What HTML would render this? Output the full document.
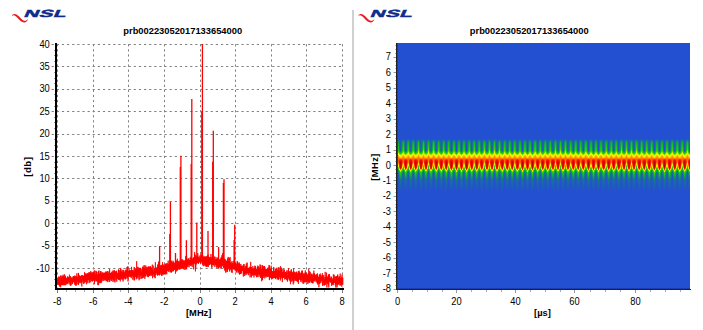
<!DOCTYPE html>
<html><head><meta charset="utf-8"><style>
html,body{margin:0;padding:0;background:#fff;width:703px;height:330px;overflow:hidden}
svg{display:block}
text{font-family:"Liberation Sans",sans-serif}
</style></head><body>
<svg width="703" height="330" viewBox="0 0 703 330" shape-rendering="auto">
<rect width="703" height="330" fill="#fff"/>
<rect x="352" y="10" width="2" height="320" fill="#d0d0d0"/>
<g transform="translate(0,0)"><path d="M12.11,15.73 L12.52,15.55 L12.90,15.42 L13.27,15.36 L13.64,15.36 L14.00,15.41 L14.38,15.51 L14.77,15.66 L15.19,15.87 L15.63,16.15 L16.09,16.50 L16.59,16.92 L17.11,17.43 L17.68,18.04 L18.27,18.67 L18.86,19.29 L19.45,19.88 L20.05,20.43 L20.65,20.95 L21.27,21.41 L21.91,21.81 L22.57,22.12 L23.25,22.34 L23.96,22.43 L24.67,22.38 L25.29,22.20 L25.82,21.95 L26.29,21.64 L26.71,21.28 L27.07,20.87 L27.38,20.43 L27.64,19.95 L27.94,19.50 L27.66,19.30 L27.34,19.72 L26.93,20.01 L26.54,20.27 L26.14,20.47 L25.74,20.63 L25.34,20.74 L24.92,20.80 L24.53,20.82 L24.14,20.76 L23.76,20.62 L23.36,20.42 L22.92,20.14 L22.46,19.79 L21.97,19.38 L21.46,18.90 L20.92,18.38 L20.35,17.81 L19.76,17.22 L19.15,16.61 L18.49,15.97 L17.83,15.42 L17.16,14.96 L16.50,14.60 L15.85,14.33 L15.21,14.16 L14.60,14.09 L14.01,14.11 L13.46,14.23 L12.96,14.44 L12.53,14.72 L12.16,15.06 L11.89,15.47Z" fill="#e41c23"/><text x="0" y="0" transform="translate(23.2,17.0) skewX(-24) scale(1.99,1)" font-size="10.3" font-weight="bold" font-style="normal" fill="#0f2b8c" stroke="#0f2b8c" stroke-width="0.45" font-family="Liberation Sans, sans-serif" letter-spacing="0.25">NSL</text></g>
<g transform="translate(346.4,0)"><path d="M12.11,15.73 L12.52,15.55 L12.90,15.42 L13.27,15.36 L13.64,15.36 L14.00,15.41 L14.38,15.51 L14.77,15.66 L15.19,15.87 L15.63,16.15 L16.09,16.50 L16.59,16.92 L17.11,17.43 L17.68,18.04 L18.27,18.67 L18.86,19.29 L19.45,19.88 L20.05,20.43 L20.65,20.95 L21.27,21.41 L21.91,21.81 L22.57,22.12 L23.25,22.34 L23.96,22.43 L24.67,22.38 L25.29,22.20 L25.82,21.95 L26.29,21.64 L26.71,21.28 L27.07,20.87 L27.38,20.43 L27.64,19.95 L27.94,19.50 L27.66,19.30 L27.34,19.72 L26.93,20.01 L26.54,20.27 L26.14,20.47 L25.74,20.63 L25.34,20.74 L24.92,20.80 L24.53,20.82 L24.14,20.76 L23.76,20.62 L23.36,20.42 L22.92,20.14 L22.46,19.79 L21.97,19.38 L21.46,18.90 L20.92,18.38 L20.35,17.81 L19.76,17.22 L19.15,16.61 L18.49,15.97 L17.83,15.42 L17.16,14.96 L16.50,14.60 L15.85,14.33 L15.21,14.16 L14.60,14.09 L14.01,14.11 L13.46,14.23 L12.96,14.44 L12.53,14.72 L12.16,15.06 L11.89,15.47Z" fill="#e41c23"/><text x="0" y="0" transform="translate(23.2,17.0) skewX(-24) scale(1.99,1)" font-size="10.3" font-weight="bold" font-style="normal" fill="#0f2b8c" stroke="#0f2b8c" stroke-width="0.45" font-family="Liberation Sans, sans-serif" letter-spacing="0.25">NSL</text></g>
<line x1="51.64" y1="44.5" x2="343" y2="44.5" stroke="#808080" stroke-width="1" stroke-dasharray="2.2 2.93"/><line x1="51.64" y1="66.5" x2="343" y2="66.5" stroke="#808080" stroke-width="1" stroke-dasharray="2.2 2.93"/><line x1="51.64" y1="89.5" x2="343" y2="89.5" stroke="#808080" stroke-width="1" stroke-dasharray="2.2 2.93"/><line x1="51.64" y1="111.5" x2="343" y2="111.5" stroke="#808080" stroke-width="1" stroke-dasharray="2.2 2.93"/><line x1="51.64" y1="134.5" x2="343" y2="134.5" stroke="#808080" stroke-width="1" stroke-dasharray="2.2 2.93"/><line x1="51.64" y1="156.5" x2="343" y2="156.5" stroke="#808080" stroke-width="1" stroke-dasharray="2.2 2.93"/><line x1="51.64" y1="178.5" x2="343" y2="178.5" stroke="#808080" stroke-width="1" stroke-dasharray="2.2 2.93"/><line x1="51.64" y1="201.5" x2="343" y2="201.5" stroke="#808080" stroke-width="1" stroke-dasharray="2.2 2.93"/><line x1="51.64" y1="223.5" x2="343" y2="223.5" stroke="#808080" stroke-width="1" stroke-dasharray="2.2 2.93"/><line x1="51.64" y1="246.5" x2="343" y2="246.5" stroke="#808080" stroke-width="1" stroke-dasharray="2.2 2.93"/><line x1="51.64" y1="268.5" x2="343" y2="268.5" stroke="#808080" stroke-width="1" stroke-dasharray="2.2 2.93"/><line x1="57.5" y1="44.2" x2="57.5" y2="288" stroke="#808080" stroke-width="1" stroke-dasharray="2.2 2.87"/><line x1="57.5" y1="290" x2="57.5" y2="293" stroke="#808080" stroke-width="1"/><line x1="93.5" y1="44.2" x2="93.5" y2="288" stroke="#808080" stroke-width="1" stroke-dasharray="2.2 2.87"/><line x1="93.5" y1="290" x2="93.5" y2="293" stroke="#808080" stroke-width="1"/><line x1="128.5" y1="44.2" x2="128.5" y2="288" stroke="#808080" stroke-width="1" stroke-dasharray="2.2 2.87"/><line x1="128.5" y1="290" x2="128.5" y2="293" stroke="#808080" stroke-width="1"/><line x1="164.5" y1="44.2" x2="164.5" y2="288" stroke="#808080" stroke-width="1" stroke-dasharray="2.2 2.87"/><line x1="164.5" y1="290" x2="164.5" y2="293" stroke="#808080" stroke-width="1"/><line x1="200.5" y1="44.2" x2="200.5" y2="288" stroke="#808080" stroke-width="1" stroke-dasharray="2.2 2.87"/><line x1="200.5" y1="290" x2="200.5" y2="293" stroke="#808080" stroke-width="1"/><line x1="235.5" y1="44.2" x2="235.5" y2="288" stroke="#808080" stroke-width="1" stroke-dasharray="2.2 2.87"/><line x1="235.5" y1="290" x2="235.5" y2="293" stroke="#808080" stroke-width="1"/><line x1="271.5" y1="44.2" x2="271.5" y2="288" stroke="#808080" stroke-width="1" stroke-dasharray="2.2 2.87"/><line x1="271.5" y1="290" x2="271.5" y2="293" stroke="#808080" stroke-width="1"/><line x1="306.5" y1="44.2" x2="306.5" y2="288" stroke="#808080" stroke-width="1" stroke-dasharray="2.2 2.87"/><line x1="306.5" y1="290" x2="306.5" y2="293" stroke="#808080" stroke-width="1"/><line x1="342.5" y1="44.2" x2="342.5" y2="288" stroke="#808080" stroke-width="1" stroke-dasharray="2.2 2.87"/><line x1="342.5" y1="290" x2="342.5" y2="293" stroke="#808080" stroke-width="1"/><line x1="66.5" y1="290" x2="66.5" y2="292" stroke="#aaa" stroke-width="1"/><line x1="75.5" y1="290" x2="75.5" y2="292" stroke="#aaa" stroke-width="1"/><line x1="84.5" y1="290" x2="84.5" y2="292" stroke="#aaa" stroke-width="1"/><line x1="102.5" y1="290" x2="102.5" y2="292" stroke="#aaa" stroke-width="1"/><line x1="111.5" y1="290" x2="111.5" y2="292" stroke="#aaa" stroke-width="1"/><line x1="120.5" y1="290" x2="120.5" y2="292" stroke="#aaa" stroke-width="1"/><line x1="137.5" y1="290" x2="137.5" y2="292" stroke="#aaa" stroke-width="1"/><line x1="146.5" y1="290" x2="146.5" y2="292" stroke="#aaa" stroke-width="1"/><line x1="155.5" y1="290" x2="155.5" y2="292" stroke="#aaa" stroke-width="1"/><line x1="173.5" y1="290" x2="173.5" y2="292" stroke="#aaa" stroke-width="1"/><line x1="182.5" y1="290" x2="182.5" y2="292" stroke="#aaa" stroke-width="1"/><line x1="191.5" y1="290" x2="191.5" y2="292" stroke="#aaa" stroke-width="1"/><line x1="209.5" y1="290" x2="209.5" y2="292" stroke="#aaa" stroke-width="1"/><line x1="217.5" y1="290" x2="217.5" y2="292" stroke="#aaa" stroke-width="1"/><line x1="226.5" y1="290" x2="226.5" y2="292" stroke="#aaa" stroke-width="1"/><line x1="244.5" y1="290" x2="244.5" y2="292" stroke="#aaa" stroke-width="1"/><line x1="253.5" y1="290" x2="253.5" y2="292" stroke="#aaa" stroke-width="1"/><line x1="262.5" y1="290" x2="262.5" y2="292" stroke="#aaa" stroke-width="1"/><line x1="280.5" y1="290" x2="280.5" y2="292" stroke="#aaa" stroke-width="1"/><line x1="289.5" y1="290" x2="289.5" y2="292" stroke="#aaa" stroke-width="1"/><line x1="297.5" y1="290" x2="297.5" y2="292" stroke="#aaa" stroke-width="1"/><line x1="315.5" y1="290" x2="315.5" y2="292" stroke="#aaa" stroke-width="1"/><line x1="324.5" y1="290" x2="324.5" y2="292" stroke="#aaa" stroke-width="1"/><line x1="333.5" y1="290" x2="333.5" y2="292" stroke="#aaa" stroke-width="1"/><rect x="54" y="50" width="1" height="1" fill="#999"/><rect x="54" y="55" width="1" height="1" fill="#999"/><rect x="54" y="61" width="1" height="1" fill="#999"/><rect x="54" y="72" width="1" height="1" fill="#999"/><rect x="54" y="78" width="1" height="1" fill="#999"/><rect x="54" y="83" width="1" height="1" fill="#999"/><rect x="54" y="94" width="1" height="1" fill="#999"/><rect x="54" y="100" width="1" height="1" fill="#999"/><rect x="54" y="106" width="1" height="1" fill="#999"/><rect x="54" y="117" width="1" height="1" fill="#999"/><rect x="54" y="122" width="1" height="1" fill="#999"/><rect x="54" y="128" width="1" height="1" fill="#999"/><rect x="54" y="139" width="1" height="1" fill="#999"/><rect x="54" y="145" width="1" height="1" fill="#999"/><rect x="54" y="150" width="1" height="1" fill="#999"/><rect x="54" y="162" width="1" height="1" fill="#999"/><rect x="54" y="167" width="1" height="1" fill="#999"/><rect x="54" y="173" width="1" height="1" fill="#999"/><rect x="54" y="184" width="1" height="1" fill="#999"/><rect x="54" y="190" width="1" height="1" fill="#999"/><rect x="54" y="195" width="1" height="1" fill="#999"/><rect x="54" y="206" width="1" height="1" fill="#999"/><rect x="54" y="212" width="1" height="1" fill="#999"/><rect x="54" y="218" width="1" height="1" fill="#999"/><rect x="54" y="229" width="1" height="1" fill="#999"/><rect x="54" y="234" width="1" height="1" fill="#999"/><rect x="54" y="240" width="1" height="1" fill="#999"/><rect x="54" y="251" width="1" height="1" fill="#999"/><rect x="54" y="257" width="1" height="1" fill="#999"/><rect x="54" y="262" width="1" height="1" fill="#999"/><rect x="54" y="274" width="1" height="1" fill="#999"/><rect x="54" y="279" width="1" height="1" fill="#999"/><rect x="54" y="285" width="1" height="1" fill="#999"/><polyline fill="none" stroke="#ff0000" stroke-width="0.8" points="57,281.72 57.07,283.41 57.14,284.73 57.21,283.2 57.29,278.54 57.36,284.14 57.43,280.25 57.5,281.17 57.57,282.89 57.64,283.07 57.72,280.8 57.79,280.52 57.86,281.17 57.93,280.02 58,283.09 58.07,278.81 58.14,281.89 58.22,280.29 58.29,283.6 58.36,284.21 58.43,283.46 58.5,280.7 58.57,284.95 58.64,277.5 58.72,277.78 58.79,276.38 58.86,284.49 58.93,282.36 59,283.16 59.07,283.22 59.15,277.55 59.22,280.55 59.29,279.01 59.36,285.57 59.43,282.21 59.5,280.83 59.57,276.82 59.65,279.65 59.72,286.45 59.79,283.5 59.86,281.03 59.93,282.49 60,285.39 60.07,283.6 60.15,286.38 60.22,282.56 60.29,281.05 60.36,282.68 60.43,282.7 60.5,282.33 60.58,287.28 60.65,282.57 60.72,275.57 60.79,280.64 60.86,283.68 60.93,285.11 61,284.19 61.08,275.61 61.15,282.09 61.22,284.4 61.29,281.47 61.36,285.15 61.43,283.73 61.5,281.04 61.58,278.15 61.65,278.18 61.72,284.5 61.79,283.3 61.86,283.34 61.93,285.21 62.01,277.07 62.08,284.77 62.15,284.97 62.22,279.21 62.29,279.83 62.36,283.85 62.43,276.25 62.51,280.61 62.58,281.47 62.65,283.39 62.72,284.89 62.79,285.15 62.86,276.95 62.93,283.89 63.01,274.87 63.08,281.95 63.15,279.49 63.22,280.69 63.29,279.77 63.36,280.73 63.44,281.69 63.51,276.29 63.58,280.46 63.65,278.97 63.72,285.25 63.79,277.46 63.86,282.07 63.94,282.19 64.01,279.33 64.08,277.74 64.15,284.24 64.22,285 64.29,274.26 64.36,281.79 64.44,280.41 64.51,278.29 64.58,283.27 64.65,281.43 64.72,282.66 64.79,275.16 64.86,281.01 64.94,282.36 65.01,284.22 65.08,285.33 65.15,280.2 65.22,278.85 65.29,285.06 65.37,283.39 65.44,276.06 65.51,279.33 65.58,282.13 65.65,281.93 65.72,281.15 65.79,279.1 65.87,281.02 65.94,281.42 66.01,282.01 66.08,280.55 66.15,278.81 66.22,282.7 66.3,280.07 66.37,277.75 66.44,284.41 66.51,282.58 66.58,283.31 66.65,278.37 66.72,282.29 66.8,283.02 66.87,281.09 66.94,283.43 67.01,282.08 67.08,280.82 67.15,281.32 67.22,280.95 67.3,280.83 67.37,277.36 67.44,282.13 67.51,280.66 67.58,283.35 67.65,278.69 67.72,276.28 67.8,280.62 67.87,279.25 67.94,277.41 68.01,284.26 68.08,283.45 68.15,280.5 68.23,280.7 68.3,280.2 68.37,279.93 68.44,280.44 68.51,279.05 68.58,277.07 68.65,281.09 68.73,281.7 68.8,282.05 68.87,282.33 68.94,281.28 69.01,277.93 69.08,280.28 69.16,282.23 69.23,279.78 69.3,280.34 69.37,282.14 69.44,274.7 69.51,279.61 69.58,279.99 69.66,282.3 69.73,278.54 69.8,281.07 69.87,284.42 69.94,280.48 70.01,282.03 70.08,279.27 70.16,278.79 70.23,282.33 70.3,279.14 70.37,285.83 70.44,276.18 70.51,284.63 70.58,283.16 70.66,279.24 70.73,280.38 70.8,276.87 70.87,278.14 70.94,280.68 71.01,279.15 71.09,278.59 71.16,281.63 71.23,285.29 71.3,278.99 71.37,280.64 71.44,280.35 71.51,282.07 71.59,277.69 71.66,281.7 71.73,281.4 71.8,279.92 71.87,279.92 71.94,281.96 72.02,280.49 72.09,279.77 72.16,280.08 72.23,280.09 72.3,281.9 72.37,279.77 72.44,283.69 72.52,278.68 72.59,284.15 72.66,281.09 72.73,281.32 72.8,281.36 72.87,276.85 72.94,279.52 73.02,279.14 73.09,282.54 73.16,280.15 73.23,281.79 73.3,276.32 73.37,279.99 73.44,280.03 73.52,280.56 73.59,281.08 73.66,276.09 73.73,280.65 73.8,278.29 73.87,278.31 73.95,279.91 74.02,281.33 74.09,281.78 74.16,282.1 74.23,280.72 74.3,281.8 74.37,278.89 74.45,278.57 74.52,280.58 74.59,276.15 74.66,284.66 74.73,281.73 74.8,275.65 74.88,281.13 74.95,278.95 75.02,281.29 75.09,275.83 75.16,279.51 75.23,283.74 75.3,278.25 75.38,282.64 75.45,282.66 75.52,277.9 75.59,285.5 75.66,277.98 75.73,281.02 75.8,278.92 75.88,277.88 75.95,278.21 76.02,280.91 76.09,283.45 76.16,276.39 76.23,285.67 76.31,281.91 76.38,281.17 76.45,276.82 76.52,276.96 76.59,280.6 76.66,277.74 76.73,279.5 76.81,281.31 76.88,273.31 76.95,284.13 77.02,280.57 77.09,279.35 77.16,281.4 77.23,279.91 77.31,281.55 77.38,278.36 77.45,280.47 77.52,278.96 77.59,280.4 77.66,280.63 77.73,281.53 77.81,279.47 77.88,280.18 77.95,276.29 78.02,278.59 78.09,278.44 78.16,277.08 78.24,285.01 78.31,284.77 78.38,272.9 78.45,284.58 78.52,279.41 78.59,273.55 78.66,279.55 78.74,277.45 78.81,277.5 78.88,280.23 78.95,278.61 79.02,283.33 79.09,283.41 79.16,274.99 79.24,282.62 79.31,279.54 79.38,281.6 79.45,276.63 79.52,280.85 79.59,279.64 79.67,278.61 79.74,281.54 79.81,281.32 79.88,276.72 79.95,277.69 80.02,276.86 80.09,277.01 80.17,280.2 80.24,281.54 80.31,276.15 80.38,280.02 80.45,279.46 80.52,275.96 80.59,282.17 80.67,282.66 80.74,281.81 80.81,278.55 80.88,279.72 80.95,278.47 81.02,278.13 81.1,283.43 81.17,278.59 81.24,281.82 81.31,282.33 81.38,277.32 81.45,275.26 81.52,278.09 81.6,279.65 81.67,277.96 81.74,278.04 81.81,286.44 81.88,280.59 81.95,282.47 82.03,282.06 82.1,276.23 82.17,276.68 82.24,276.88 82.31,274.94 82.38,278.22 82.45,275.71 82.53,276.94 82.6,280.38 82.67,277.88 82.74,279.13 82.81,276.07 82.88,276.42 82.95,281.54 83.03,279.2 83.1,278.12 83.17,278.62 83.24,278.14 83.31,276.16 83.38,276.61 83.45,278.26 83.53,283.8 83.6,278.4 83.67,275.61 83.74,278.55 83.81,279.17 83.88,277.96 83.96,276.48 84.03,278.07 84.1,282.07 84.17,278.28 84.24,280.27 84.31,280.06 84.38,276.81 84.46,274.74 84.53,272.2 84.6,274.53 84.67,279.92 84.74,283.32 84.81,280.97 84.88,277.5 84.96,279.47 85.03,276.91 85.1,274.29 85.17,280.56 85.24,273.33 85.31,279.61 85.39,279.32 85.46,275.01 85.53,274.61 85.6,278.28 85.67,276.44 85.74,277.35 85.81,282.19 85.89,280.29 85.96,275.26 86.03,275.83 86.1,281.45 86.17,275.98 86.24,280.15 86.31,273.48 86.39,278.34 86.46,277.66 86.53,284.28 86.6,280.9 86.67,280.4 86.74,276.35 86.82,276.27 86.89,278.46 86.96,277.63 87.03,274.08 87.1,281.7 87.17,278.05 87.24,274.21 87.32,275.71 87.39,274.29 87.46,279.97 87.53,279.99 87.6,276.46 87.67,273.09 87.75,276.36 87.82,277.67 87.89,283.24 87.96,281.86 88.03,277.56 88.1,275.06 88.17,277.31 88.25,278.27 88.32,275.84 88.39,275.64 88.46,280.12 88.53,276.26 88.6,276.83 88.67,272.44 88.75,275.93 88.82,275.5 88.89,278.57 88.96,273.66 89.03,275.76 89.1,275.83 89.17,278.15 89.25,275.11 89.32,280.11 89.39,281.55 89.46,273.6 89.53,276.57 89.6,272.21 89.68,281.04 89.75,283.07 89.82,282.89 89.89,280.32 89.96,277.81 90.03,278.26 90.1,281.84 90.18,276.13 90.25,278.68 90.32,274.19 90.39,278.17 90.46,279.54 90.53,273.07 90.6,278.74 90.68,275.34 90.75,271.07 90.82,278.24 90.89,274.69 90.96,277.82 91.03,278.01 91.11,276.73 91.18,277.24 91.25,274.16 91.32,278.62 91.39,278.31 91.46,281.3 91.53,274.75 91.61,274.65 91.68,272.5 91.75,273.1 91.82,276.55 91.89,277.54 91.96,278.84 92.03,274.26 92.11,272.18 92.18,273.72 92.25,275.85 92.32,280.74 92.39,279.09 92.46,279.52 92.54,276.34 92.61,281.49 92.68,278.23 92.75,274.1 92.82,277.84 92.89,272.59 92.96,275.64 93.04,276.87 93.11,280.45 93.18,276.37 93.25,279.35 93.32,276.33 93.39,274.34 93.47,280.51 93.54,275.52 93.61,274.46 93.68,274.73 93.75,275.76 93.82,274.66 93.89,278.15 93.97,271.34 94.04,275.3 94.11,276.43 94.18,273.27 94.25,272.33 94.32,278.51 94.39,270.37 94.47,284.2 94.54,274.29 94.61,275.52 94.68,278.68 94.75,281.8 94.82,280.03 94.89,276.98 94.97,275.42 95.04,277 95.11,276.01 95.18,276.96 95.25,279.51 95.32,279.17 95.4,278.24 95.47,279.52 95.54,278.06 95.61,277.86 95.68,274.63 95.75,278.56 95.82,270.72 95.9,281.25 95.97,276.38 96.04,278.87 96.11,273.85 96.18,275.59 96.25,276.46 96.32,273.85 96.4,278.73 96.47,279.1 96.54,271.96 96.61,274.62 96.68,271.49 96.75,278.4 96.83,281.33 96.9,275.19 96.97,277.4 97.04,281.2 97.11,279.57 97.18,279.47 97.25,274.78 97.33,278.76 97.4,280.81 97.47,277.45 97.54,277.62 97.61,277.32 97.68,275.39 97.75,285.09 97.83,278.68 97.9,277.45 97.97,274.08 98.04,276.89 98.11,277.67 98.18,271.71 98.26,274.94 98.33,274.63 98.4,275.29 98.47,272.52 98.54,271.55 98.61,285.18 98.68,275.04 98.76,281.74 98.83,273.43 98.9,272.01 98.97,270.46 99.04,275.8 99.11,274.75 99.19,276.76 99.26,278.23 99.33,276.62 99.4,276.41 99.47,277.98 99.54,283.12 99.61,281.99 99.69,280.42 99.76,278.17 99.83,273.95 99.9,275.97 99.97,273.34 100.04,277.98 100.11,278.57 100.19,274.26 100.26,282.18 100.33,275.79 100.4,275.06 100.47,271.12 100.54,283.13 100.61,277.47 100.69,276.12 100.76,282.08 100.83,274.32 100.9,271.06 100.97,279.11 101.04,277.24 101.12,272.32 101.19,274.44 101.26,276.72 101.33,275.03 101.4,275.72 101.47,281.42 101.54,278.37 101.62,282.72 101.69,277.22 101.76,277.93 101.83,277.85 101.9,273.44 101.97,277.73 102.04,274.7 102.12,280.56 102.19,279.72 102.26,275.65 102.33,278.52 102.4,276.17 102.47,277.8 102.55,272.4 102.62,272.24 102.69,275.92 102.76,278.88 102.83,278.82 102.9,278.98 102.97,279.37 103.05,279.21 103.12,281.02 103.19,273.73 103.26,276.05 103.33,274.97 103.4,279.08 103.47,277.02 103.55,275.72 103.62,272.96 103.69,278.34 103.76,275.89 103.83,276.44 103.9,273.02 103.98,272.64 104.05,276.02 104.12,280.66 104.19,276.42 104.26,279.84 104.33,275.56 104.4,275.27 104.48,273 104.55,277.13 104.62,274.46 104.69,277.68 104.76,273.55 104.83,274.04 104.91,272.65 104.98,275.21 105.05,273.59 105.12,276.14 105.19,276.61 105.26,279.95 105.33,276.57 105.41,274.69 105.48,274 105.55,278.3 105.62,276.2 105.69,274.67 105.76,279.4 105.83,272.04 105.91,271.37 105.98,277.06 106.05,281.13 106.12,276.41 106.19,271.94 106.26,278.72 106.33,271.86 106.41,277.45 106.48,274.06 106.55,280.75 106.62,275.71 106.69,277.74 106.76,273.77 106.84,281.14 106.91,276.57 106.98,275.99 107.05,276.73 107.12,272.69 107.19,274.13 107.26,277.91 107.34,274.9 107.41,275.97 107.48,281.56 107.55,271.1 107.62,274.22 107.69,279.09 107.76,277.73 107.84,273.09 107.91,282.13 107.98,275.77 108.05,274.28 108.12,276.07 108.19,280.2 108.27,275.95 108.34,276.01 108.41,275.86 108.48,277.21 108.55,279.28 108.62,279.84 108.69,276.01 108.77,277.11 108.84,276.89 108.91,271.34 108.98,275.09 109.05,277.15 109.12,278.03 109.19,273.33 109.27,276.92 109.34,272.3 109.41,277.51 109.48,273.57 109.55,281.69 109.62,268.94 109.7,276.2 109.77,273.85 109.84,281.49 109.91,274.81 109.98,277.42 110.05,273.18 110.12,275.37 110.2,274.67 110.27,277.7 110.34,274.59 110.41,273.67 110.48,276.71 110.55,274.63 110.62,273.13 110.7,279.63 110.77,273.84 110.84,275.85 110.91,279.02 110.98,273.62 111.05,276.93 111.13,274.82 111.2,272.7 111.27,278.69 111.34,278.38 111.41,280.94 111.48,273.66 111.55,278.47 111.63,279.08 111.7,279.12 111.77,280.11 111.84,271.96 111.91,274.43 111.98,273.51 112.05,277.36 112.13,273.59 112.2,275.35 112.27,271.24 112.34,274.86 112.41,278.47 112.48,277.79 112.56,272.59 112.63,275.7 112.7,275.87 112.77,278.17 112.84,272.61 112.91,277.34 112.98,281.97 113.06,275.65 113.13,270.28 113.2,279.75 113.27,273.83 113.34,279.95 113.41,277.21 113.48,275.77 113.56,274.83 113.63,279.75 113.7,274.9 113.77,274.03 113.84,276.7 113.91,275.84 113.99,277.82 114.06,273.82 114.13,281.39 114.2,270.97 114.27,274.18 114.34,276.19 114.41,270.19 114.49,277.81 114.56,276.49 114.63,274.14 114.7,278.52 114.77,280.43 114.84,275.36 114.91,278.2 114.99,282.47 115.06,273.07 115.13,272.36 115.2,276.01 115.27,276.09 115.34,271.93 115.42,271.28 115.49,275.42 115.56,272.97 115.63,272.89 115.7,274.65 115.77,271.81 115.84,271.65 115.92,273.82 115.99,275.51 116.06,277.12 116.13,278.19 116.2,271.82 116.27,279.82 116.34,274.6 116.42,279.65 116.49,272.74 116.56,270.78 116.63,272.99 116.7,274.41 116.77,281.69 116.85,274.3 116.92,275.82 116.99,274.48 117.06,278.6 117.13,274.45 117.2,277.26 117.27,275.73 117.35,272.75 117.42,278.15 117.49,276.77 117.56,276.59 117.63,275.35 117.7,276.67 117.77,275.92 117.85,279.1 117.92,274.41 117.99,275.97 118.06,275.41 118.13,273.91 118.2,273.95 118.28,276.45 118.35,275.49 118.42,269.96 118.49,273.91 118.56,279.63 118.63,269.32 118.7,272.8 118.78,275.67 118.85,270.92 118.92,279.67 118.99,273.79 119.06,275.73 119.13,273.92 119.2,270.03 119.28,277.07 119.35,275.83 119.42,273.48 119.49,278.88 119.56,279.89 119.63,277.87 119.71,275.45 119.78,277.01 119.85,275.61 119.92,278.25 119.99,279.89 120.06,274.22 120.13,276.96 120.21,273.09 120.28,281.41 120.35,274.87 120.42,275.67 120.49,274.05 120.56,273.12 120.63,267.99 120.71,273.86 120.78,278.61 120.85,271.53 120.92,276.78 120.99,269.47 121.06,274.88 121.14,271.66 121.21,277.54 121.28,276.07 121.35,275.18 121.42,271.72 121.49,271.54 121.56,276.34 121.64,273.39 121.71,279.42 121.78,274.03 121.85,274.46 121.92,275.51 121.99,272.01 122.06,274.67 122.14,277.24 122.21,275.6 122.28,277.89 122.35,276.56 122.42,279.46 122.49,276.88 122.57,273.13 122.64,270.8 122.71,269.92 122.78,271.35 122.85,277.41 122.92,273.11 122.99,273.08 123.07,281.51 123.14,275.49 123.21,274.5 123.28,272.35 123.35,279.39 123.42,277.74 123.49,272.72 123.57,271.59 123.64,275.29 123.71,269.86 123.78,274.23 123.85,274.41 123.92,275.25 124,272.1 124.07,276.35 124.14,275.08 124.21,277.37 124.28,273.77 124.35,275.15 124.42,275.37 124.5,273.02 124.57,272.75 124.64,278.42 124.71,277.7 124.78,278.21 124.85,276.1 124.92,275.07 125,276.89 125.07,274.94 125.14,270.54 125.21,277.88 125.28,279.49 125.35,274.14 125.43,277.2 125.5,272.04 125.57,272.81 125.64,271.41 125.71,278.5 125.78,274.42 125.85,269.58 125.93,274.48 126,273.28 126.07,278.59 126.14,272.32 126.21,275.72 126.28,270.27 126.35,275.01 126.43,274.89 126.5,272.97 126.57,274.65 126.64,274.26 126.71,271.1 126.78,273.32 126.86,276.12 126.93,275.48 127,276.51 127.07,267.13 127.14,273.5 127.21,271.43 127.28,266.77 127.36,267.62 127.43,278.21 127.5,274.71 127.57,274.4 127.64,272.85 127.71,275.89 127.78,275.15 127.86,273.87 127.93,266.28 128,281.44 128.07,276.46 128.14,274.27 128.21,271.55 128.29,276.52 128.36,272.32 128.43,273.75 128.5,273.67 128.57,270.82 128.64,270.8 128.71,273.63 128.79,275.67 128.86,271.35 128.93,276.98 129,275 129.07,274.21 129.14,275.57 129.21,276.69 129.29,275.73 129.36,275.65 129.43,269.52 129.5,274.39 129.57,274.15 129.64,275.86 129.72,274.8 129.79,274.78 129.86,273.04 129.93,275.18 130,270.24 130.07,273.54 130.14,271.74 130.22,271.23 130.29,276.6 130.36,271.09 130.43,277.15 130.5,270.71 130.57,273.5 130.64,270.9 130.72,274.79 130.79,270.89 130.86,275.26 130.93,273.33 131,274.48 131.07,275.5 131.15,275.37 131.22,274.05 131.29,270.23 131.36,278.14 131.43,275.45 131.5,275.07 131.57,266.81 131.65,273.73 131.72,276.42 131.79,273.08 131.86,274.35 131.93,273.8 132,275.83 132.07,270.04 132.15,274.13 132.22,272.97 132.29,273.52 132.36,272.81 132.43,275.91 132.5,271.15 132.58,272.07 132.65,270.02 132.72,275.47 132.79,276.58 132.86,279.72 132.93,272.67 133,271.6 133.08,274.11 133.15,275.04 133.22,272.53 133.29,271.85 133.36,273.44 133.43,272.92 133.5,272.15 133.58,277.07 133.65,276.69 133.72,277.92 133.79,272.37 133.86,272.07 133.93,269.7 134.01,275.51 134.08,280.5 134.15,273.46 134.22,266.94 134.29,273.76 134.36,272.4 134.43,273.28 134.51,274.53 134.58,280.11 134.65,277.55 134.72,272.11 134.79,273.47 134.86,271.73 134.94,276.57 135.01,275.61 135.08,272.21 135.15,273.4 135.22,270.48 135.29,276.53 135.36,276.72 135.44,268.55 135.51,275.99 135.58,275.74 135.65,270.09 135.72,272.68 135.79,274.93 135.86,274.97 135.94,276.57 136.01,272.24 136.08,273.4 136.15,271.72 136.22,271.8 136.29,279.27 136.37,274.34 136.44,268.9 136.51,277.24 136.58,274.37 136.65,261.23 136.72,274.88 136.79,273.47 136.87,278.03 136.94,273.95 137.01,275.23 137.08,269.91 137.15,273.71 137.22,274.55 137.29,277.12 137.37,272.24 137.44,274.64 137.51,276.46 137.58,267.22 137.65,270.6 137.72,271.54 137.79,276.67 137.87,272.32 137.94,273.11 138.01,278.71 138.08,266.84 138.15,273.45 138.22,274.34 138.3,268.91 138.37,269.96 138.44,268.61 138.51,274.03 138.58,273.2 138.65,270.57 138.72,273.78 138.8,272.76 138.87,274.28 138.94,273.58 139.01,271.68 139.08,272.07 139.15,280.27 139.22,275.31 139.3,271.23 139.37,275.04 139.44,275.38 139.51,267.93 139.58,274.48 139.65,275.24 139.73,270.32 139.8,276.57 139.87,274.82 139.94,271.05 140.01,270.86 140.08,267.74 140.15,278.91 140.23,268.34 140.3,274.47 140.37,272.18 140.44,274.29 140.51,272.09 140.58,272.46 140.65,273.05 140.73,270.46 140.8,274.32 140.87,268.74 140.94,272.53 141.01,274.52 141.08,275.04 141.16,275.5 141.23,272.43 141.3,273.68 141.37,273.74 141.44,275.07 141.51,274.51 141.58,274.17 141.66,274.56 141.73,278.82 141.8,272.07 141.87,274.25 141.94,272.75 142.01,270.38 142.08,271.16 142.16,271.05 142.23,268.51 142.3,278.14 142.37,272.76 142.44,268.29 142.51,267.99 142.59,266.65 142.66,277.07 142.73,270.87 142.8,274.92 142.87,278.01 142.94,274.36 143.01,274.55 143.09,270.7 143.16,269.26 143.23,273.89 143.3,267.18 143.37,277.53 143.44,268.84 143.51,275.6 143.59,275.84 143.66,268.2 143.73,269.23 143.8,268.97 143.87,265.45 143.94,269.32 144.02,270.29 144.09,268.98 144.16,273.69 144.23,273.1 144.3,276.47 144.37,272.96 144.44,270.51 144.52,272.53 144.59,271.72 144.66,271.78 144.73,268.59 144.8,278.83 144.87,265.29 144.94,275.34 145.02,273.78 145.09,269.8 145.16,273.08 145.23,272.02 145.3,268.84 145.37,271.94 145.45,276 145.52,276.36 145.59,270.05 145.66,275.31 145.73,268.76 145.8,266.22 145.87,265.64 145.95,276.46 146.02,269.13 146.09,272.79 146.16,268.99 146.23,272.87 146.3,270.83 146.38,272.18 146.45,272.78 146.52,267.83 146.59,273.99 146.66,274.16 146.73,266.99 146.8,271.3 146.88,272.33 146.95,267.85 147.02,267.86 147.09,274.47 147.16,270.51 147.23,268.38 147.3,273.12 147.38,271.92 147.45,271.11 147.52,272.33 147.59,276.24 147.66,271.19 147.73,271.42 147.81,273.3 147.88,266.76 147.95,277.17 148.02,271.22 148.09,272.81 148.16,276.23 148.23,272.29 148.31,272.42 148.38,273.99 148.45,276.8 148.52,271.5 148.59,267.8 148.66,269.08 148.73,269.25 148.81,266.18 148.88,274.72 148.95,270.46 149.02,272.27 149.09,275.48 149.16,271.33 149.24,272.63 149.31,270.75 149.38,267.75 149.45,266.85 149.52,268.96 149.59,269.77 149.66,275.88 149.74,269.43 149.81,276.09 149.88,272.62 149.95,274.7 150.02,270.66 150.09,271.17 150.16,272.9 150.24,272.16 150.31,266.22 150.38,271.21 150.45,272.02 150.52,272.34 150.59,266.73 150.66,272.83 150.74,269.44 150.81,273.56 150.88,274.69 150.95,275.45 151.02,269.36 151.09,272.04 151.17,271.36 151.24,267.53 151.31,273.29 151.38,271.57 151.45,272.28 151.52,269.18 151.59,268.54 151.67,269.12 151.74,271.98 151.81,275.89 151.88,270.7 151.95,270.56 152.02,274.34 152.09,273.94 152.17,270.41 152.24,274.7 152.31,264.6 152.38,273.81 152.45,275.04 152.52,278.24 152.6,276.19 152.67,271.91 152.74,271.64 152.81,271.16 152.88,269.87 152.95,273.09 153.02,272.82 153.1,271.71 153.17,273.27 153.24,265.62 153.31,272.41 153.38,274.43 153.45,271.93 153.52,273.8 153.6,273.58 153.67,273.83 153.74,272.46 153.81,272.14 153.88,276.02 153.95,276.66 154.03,275.73 154.1,271.57 154.17,272.45 154.24,274.11 154.31,272.69 154.38,277.35 154.45,272.33 154.53,274.46 154.6,271.72 154.67,267.89 154.74,268.63 154.81,272.93 154.88,269.02 154.95,272.16 155.03,270.48 155.1,272.9 155.17,275.66 155.24,278.19 155.31,271.7 155.38,262.15 155.46,271.57 155.53,274.32 155.6,271.1 155.67,268.72 155.74,274.68 155.81,275.05 155.88,271.08 155.96,272.46 156.03,272.69 156.1,267.26 156.17,270.51 156.24,268.3 156.31,269.39 156.38,273.23 156.46,270.39 156.53,271.42 156.6,271.3 156.67,267.83 156.74,272.65 156.81,272.53 156.89,272.35 156.96,272.72 157.03,270.41 157.1,270.04 157.17,268.74 157.24,275.07 157.31,272.9 157.39,274.05 157.46,270.94 157.53,275.64 157.6,269.39 157.67,264.45 157.74,274.67 157.81,268.08 157.89,266.39 157.96,272.13 158.03,270.93 158.1,274.12 158.17,269.2 158.24,269.98 158.32,270.57 158.39,271.07 158.46,264.99 158.53,272.09 158.6,275.1 158.67,273.88 158.74,261.46 158.82,267.52 158.89,268.53 158.96,265.81 159.03,262.01 159.1,268.49 159.17,273.31 159.25,271.4 159.32,270.65 159.39,269.8 159.46,275.32 159.53,273.53 159.6,268.55 159.67,269.71 159.75,268.07 159.82,271.74 159.89,274.33 159.96,268.13 160.03,266.84 160.1,268.59 160.17,268.4 160.25,274.55 160.32,270.86 160.39,265.25 160.46,265.8 160.53,271.05 160.6,271.62 160.68,270.56 160.75,267.45 160.82,270.61 160.89,270.3 160.96,267.92 161.03,270.23 161.1,269.01 161.18,266.25 161.25,267.51 161.32,269.92 161.39,268.51 161.46,264.82 161.53,268.63 161.6,268.69 161.68,275.91 161.75,268.83 161.82,273.95 161.89,271.56 161.96,275.72 162.03,273.66 162.1,270.35 162.18,270.15 162.25,271.72 162.32,273.8 162.39,270.83 162.46,269.13 162.53,262.21 162.61,270.58 162.68,269.17 162.75,267.79 162.82,268.13 162.89,271.13 162.96,270.81 163.03,267.21 163.11,264.52 163.18,266.78 163.25,274.94 163.32,264.93 163.39,267.26 163.46,271.21 163.53,271.61 163.61,267.47 163.68,273.64 163.75,266.5 163.82,268.93 163.89,273.23 163.96,266.2 164.04,273.56 164.11,273.33 164.18,274.17 164.25,271.4 164.32,266.22 164.39,270.24 164.46,267.37 164.54,273.93 164.61,269.65 164.68,269.81 164.75,271.83 164.82,264.6 164.89,264.18 164.96,271.37 165.04,265.99 165.11,265.67 165.18,268.95 165.25,263.85 165.32,274.15 165.39,265.99 165.47,266.9 165.54,270.74 165.61,263.91 165.68,269.68 165.75,274.39 165.82,270.24 165.89,267.62 165.97,265.17 166.04,267.43 166.11,263.61 166.18,266.44 166.25,270.22 166.32,266.32 166.39,273.33 166.47,264.6 166.54,270.82 166.61,271.48 166.68,267.75 166.75,274.23 166.82,267.21 166.9,263.47 166.97,263.15 167.04,264.36 167.11,267.05 167.18,263.67 167.25,271.03 167.32,266.99 167.4,270.07 167.47,270.54 167.54,268.07 167.61,269.92 167.68,269.04 167.75,269.68 167.82,269.28 167.9,270.94 167.97,266 168.04,268.22 168.11,265.58 168.18,260.61 168.25,266.76 168.33,269.65 168.4,267.41 168.47,265.07 168.54,266.64 168.61,271.24 168.68,263.93 168.75,271.91 168.83,271.11 168.9,266.4 168.97,267.83 169.04,266.96 169.11,269.71 169.18,265.92 169.25,266.12 169.33,270.02 169.4,265.41 169.47,269.27 169.54,268.21 169.61,265.9 169.68,267.99 169.76,265.87 169.83,266.2 169.9,261.11 169.97,270.11 170.04,265.93 170.11,272.22 170.18,270.55 170.26,268.68 170.33,267.77 170.4,268.2 170.47,268.78 170.54,270.27 170.61,266.77 170.69,271.69 170.76,266.99 170.83,267.04 170.9,266.09 170.97,268.05 171.04,263.39 171.11,261.53 171.19,271.25 171.26,272.7 171.33,269.52 171.4,272.15 171.47,267.13 171.54,260.74 171.61,270.9 171.69,265.25 171.76,268.47 171.83,271.27 171.9,266.57 171.97,269.92 172.04,271.6 172.12,271.19 172.19,264.68 172.26,264.11 172.33,265.13 172.4,266.46 172.47,268.08 172.54,266.14 172.62,262.47 172.69,265.29 172.76,264.67 172.83,263.19 172.9,268.24 172.97,260.76 173.04,270.65 173.12,266.09 173.19,265.61 173.26,264.62 173.33,264.31 173.4,271.26 173.47,269.34 173.54,265.47 173.62,261.77 173.69,266.92 173.76,264.98 173.83,269.28 173.9,264.89 173.97,269.59 174.05,264.03 174.12,268.15 174.19,263.73 174.26,266.12 174.33,264.06 174.4,268.5 174.47,269.86 174.55,262.79 174.62,266.72 174.69,264.61 174.76,265.14 174.83,268.47 174.9,268.97 174.97,267.93 175.05,266.33 175.12,270.14 175.19,264.53 175.26,268.72 175.33,262.62 175.4,269.82 175.48,273.65 175.55,269.91 175.62,269.56 175.69,261.61 175.76,261.66 175.83,265.41 175.9,265.58 175.98,267.67 176.05,265.87 176.12,265.03 176.19,271.61 176.26,265.3 176.33,264.6 176.4,265.4 176.48,267.22 176.55,269.62 176.62,265.39 176.69,261.59 176.76,270.33 176.83,261.07 176.91,262.72 176.98,260.12 177.05,267.33 177.12,265.69 177.19,270.79 177.26,262.85 177.33,269.6 177.41,258.76 177.48,265.19 177.55,264.69 177.62,266.37 177.69,267.26 177.76,264.4 177.83,264.39 177.91,262.25 177.98,264.17 178.05,263.81 178.12,268.97 178.19,267.99 178.26,261.21 178.34,263.93 178.41,265.46 178.48,266.23 178.55,264.04 178.62,263.2 178.69,268.27 178.76,266.52 178.84,263.05 178.91,265.07 178.98,269.78 179.05,262.74 179.12,263.11 179.19,260.73 179.26,265.28 179.34,263.47 179.41,262.21 179.48,268.43 179.55,264.53 179.62,264.83 179.69,268.01 179.77,269.57 179.84,265.53 179.91,264.68 179.98,268.92 180.05,261.86 180.12,268.15 180.19,263.38 180.27,262.13 180.34,267.02 180.41,261.5 180.48,264.43 180.55,265.06 180.62,259.98 180.69,261.65 180.77,264.24 180.84,259.74 180.91,264.91 180.98,261.29 181.05,268.12 181.12,261.89 181.2,260.73 181.27,263.83 181.34,264.86 181.41,264.97 181.48,262.28 181.55,261.46 181.62,264.43 181.7,267.59 181.77,259.44 181.84,264.86 181.91,265.7 181.98,267.77 182.05,259.21 182.12,268.68 182.2,268.34 182.27,266.92 182.34,264.41 182.41,261.84 182.48,267.8 182.55,262.13 182.63,262.42 182.7,260.7 182.77,261.98 182.84,261.14 182.91,261.83 182.98,259.8 183.05,268.6 183.13,264 183.2,267.68 183.27,263.2 183.34,268.77 183.41,264.34 183.48,267.78 183.56,264.15 183.63,262.42 183.7,268.7 183.77,265.43 183.84,260.52 183.91,265.07 183.98,265.31 184.06,266.64 184.13,265.55 184.2,261.68 184.27,269.79 184.34,267.2 184.41,262.31 184.48,265.79 184.56,261.6 184.63,265.72 184.7,261.7 184.77,264.61 184.84,263.34 184.91,262.7 184.98,260.1 185.06,263.42 185.13,263.11 185.2,267.49 185.27,261.87 185.34,266.67 185.41,261.7 185.49,267.33 185.56,263.78 185.63,266.31 185.7,255.93 185.77,265.62 185.84,269.78 185.91,264.55 185.99,265.53 186.06,267.99 186.13,265.23 186.2,259.2 186.27,262.7 186.34,263.6 186.41,264.26 186.49,264.18 186.56,269 186.63,256.57 186.7,264.7 186.77,258.56 186.84,258.52 186.92,259.15 186.99,261.03 187.06,263.39 187.13,262.9 187.2,267.29 187.27,260.46 187.34,265.34 187.42,264.71 187.49,260.84 187.56,259.8 187.63,264.69 187.7,263.14 187.77,260.81 187.84,261.99 187.92,266.71 187.99,262.46 188.06,262.68 188.13,259.32 188.2,260.15 188.27,263.55 188.35,258.29 188.42,263.02 188.49,263.74 188.56,264.41 188.63,260.33 188.7,258.89 188.77,262.99 188.85,264.16 188.92,261.57 188.99,263.4 189.06,267.31 189.13,260.67 189.2,260.08 189.27,264.4 189.35,265.3 189.42,264.35 189.49,262.94 189.56,262.23 189.63,264.67 189.7,260.44 189.78,263.54 189.85,264.15 189.92,262.09 189.99,260.17 190.06,263.68 190.13,257.51 190.2,263.98 190.28,264.36 190.35,260.17 190.42,262.13 190.49,265.7 190.56,262.45 190.63,261.9 190.7,263.62 190.78,263.73 190.85,259.56 190.92,258.36 190.99,261.09 191.06,263.16 191.13,256.79 191.21,260.33 191.28,266.4 191.35,262.52 191.42,260.5 191.49,262.51 191.56,259.82 191.63,262.54 191.71,257.89 191.78,264.71 191.85,263.04 191.92,260.25 191.99,258.6 192.06,261.24 192.13,260.93 192.21,261.96 192.28,261.3 192.35,260.52 192.42,264.31 192.49,259.24 192.56,262.59 192.64,262.09 192.71,259.53 192.78,262.53 192.85,267.12 192.92,265.41 192.99,265.48 193.06,263.1 193.14,262.55 193.21,264.19 193.28,260.54 193.35,260.33 193.42,257.84 193.49,261.06 193.56,260.02 193.64,269.29 193.71,262.77 193.78,257.51 193.85,260.06 193.92,260.72 193.99,262.24 194.07,264.14 194.14,256.94 194.21,261.71 194.28,258.69 194.35,262.97 194.42,257.94 194.49,263.17 194.57,262.54 194.64,252.02 194.71,259.45 194.78,254.24 194.85,258.43 194.92,261.28 194.99,260.02 195.07,259.31 195.14,262.19 195.21,261.83 195.28,262.24 195.35,255.04 195.42,271.4 195.5,261.21 195.57,262.05 195.64,260.92 195.71,258.94 195.78,268.16 195.85,261.01 195.92,260.16 196,261.27 196.07,259.06 196.14,259.61 196.21,256.92 196.28,261.99 196.35,257.07 196.42,258.25 196.5,264.43 196.57,261.03 196.64,257.36 196.71,256.59 196.78,256.83 196.85,262.63 196.93,262.94 197,261.47 197.07,256.41 197.14,259.81 197.21,260.48 197.28,263.26 197.35,256.2 197.43,256.97 197.5,262.81 197.57,258.63 197.64,262.72 197.71,257.76 197.78,253.04 197.85,258.48 197.93,261.65 198,257.18 198.07,260.26 198.14,263.02 198.21,262.68 198.28,263.15 198.36,257.07 198.43,260.08 198.5,263.8 198.57,258.2 198.64,263.12 198.71,260.65 198.78,259.89 198.86,257.55 198.93,257.58 199,262.41 199.07,260.08 199.14,256.73 199.21,255.65 199.28,255.91 199.36,259.07 199.43,261.85 199.5,259.1 199.57,261.42 199.64,259.94 199.71,261.29 199.79,259 199.86,262.05 199.93,260.66 200,258.33 200.07,258.89 200.14,260.46 200.21,262.34 200.29,260.16 200.36,258.37 200.43,262.09 200.5,259.25 200.57,257.25 200.64,254.36 200.71,263.33 200.79,263.88 200.86,263.2 200.93,263.07 201,260.04 201.07,256.39 201.14,260.88 201.22,258.46 201.29,261.55 201.36,260.77 201.43,262.28 201.5,260.21 201.57,255.31 201.64,258.84 201.72,259.61 201.79,257.75 201.86,256.96 201.93,260.13 202,261.25 202.07,258.12 202.14,261.54 202.22,262.41 202.29,262.05 202.36,258.11 202.43,258.55 202.5,257.8 202.57,265.29 202.65,256.63 202.72,263.59 202.79,257.98 202.86,263.07 202.93,255.6 203,257.07 203.07,260.6 203.15,262.06 203.22,259.76 203.29,263.92 203.36,258.68 203.43,257.35 203.5,258.52 203.57,263.35 203.65,266.18 203.72,258.79 203.79,263.26 203.86,261.78 203.93,260.75 204,260.79 204.08,257.14 204.15,258.03 204.22,256.39 204.29,263.62 204.36,261.78 204.43,264.92 204.5,261.31 204.58,261.03 204.65,262.02 204.72,261.71 204.79,256.7 204.86,264.64 204.93,259.68 205,257.3 205.08,265.96 205.15,259.76 205.22,262.44 205.29,260.71 205.36,256.7 205.43,266.42 205.51,260.87 205.58,259.73 205.65,262.35 205.72,265.39 205.79,258.66 205.86,260.94 205.93,256.48 206.01,256.78 206.08,259.76 206.15,262.84 206.22,262.17 206.29,264.25 206.36,263.91 206.43,259.93 206.51,266.67 206.58,258.65 206.65,256.58 206.72,261.72 206.79,263.67 206.86,266.97 206.94,261.32 207.01,262.14 207.08,262.06 207.15,255.89 207.22,260.03 207.29,257.81 207.36,259.63 207.44,266.27 207.51,264.74 207.58,255.56 207.65,259.71 207.72,258.81 207.79,258.78 207.86,260.75 207.94,262.42 208.01,264.33 208.08,263.32 208.15,254.42 208.22,262.3 208.29,267.03 208.37,259.79 208.44,264 208.51,257.03 208.58,265.18 208.65,264.17 208.72,261.15 208.79,260.3 208.87,262.11 208.94,258.92 209.01,263.97 209.08,257.84 209.15,265.16 209.22,257.79 209.29,256.86 209.37,258.28 209.44,262.81 209.51,261.7 209.58,264.75 209.65,258.76 209.72,264.37 209.8,261.42 209.87,263.92 209.94,257.43 210.01,263.53 210.08,264.16 210.15,261.21 210.22,263.58 210.3,257.99 210.37,257.91 210.44,263.64 210.51,263.62 210.58,259.99 210.65,257.08 210.72,257.86 210.8,260.23 210.87,264.25 210.94,254.02 211.01,261.46 211.08,257.4 211.15,259.07 211.23,258.21 211.3,263.73 211.37,263.84 211.44,259.27 211.51,263.59 211.58,261.14 211.65,258.81 211.73,267.56 211.8,262.26 211.87,267.43 211.94,263.91 212.01,262.67 212.08,258.61 212.16,262.65 212.23,260.65 212.3,262.4 212.37,262.59 212.44,255.76 212.51,262.82 212.58,259.88 212.66,262.87 212.73,259.75 212.8,265.01 212.87,261.37 212.94,259.31 213.01,264.16 213.08,263.8 213.16,264.54 213.23,264.53 213.3,259.71 213.37,261.72 213.44,261.71 213.51,265.06 213.58,262.55 213.66,264.51 213.73,258 213.8,265.03 213.87,265.51 213.94,261.52 214.01,264.08 214.09,260.23 214.16,263.21 214.23,259.57 214.3,264.11 214.37,263.03 214.44,262.11 214.51,264.51 214.59,260.18 214.66,256.41 214.73,261.95 214.8,265.7 214.87,266.98 214.94,261.61 215.01,263.01 215.09,261 215.16,263.76 215.23,263.35 215.3,261.76 215.37,264.5 215.44,261.15 215.52,263.76 215.59,259.35 215.66,259.19 215.73,263.27 215.8,264.21 215.87,264.87 215.94,257.03 216.02,258.28 216.09,259.31 216.16,265.78 216.23,265.14 216.3,261.72 216.37,263.79 216.44,258.91 216.52,261.24 216.59,267.71 216.66,260.07 216.73,261.13 216.8,261.81 216.87,259.44 216.95,264.45 217.02,264.34 217.09,260.77 217.16,261.57 217.23,263.91 217.3,261.02 217.37,265.67 217.45,257.8 217.52,265.83 217.59,266.47 217.66,259.13 217.73,267.71 217.8,263.88 217.88,261.43 217.95,262.17 218.02,259.3 218.09,258.57 218.16,263.06 218.23,267.68 218.3,256.53 218.38,261.61 218.45,267.6 218.52,261.46 218.59,263.54 218.66,260.09 218.73,268.63 218.8,259.4 218.88,263.72 218.95,261.43 219.02,266.97 219.09,262.63 219.16,261.81 219.23,264.84 219.3,259.89 219.38,261.7 219.45,267.34 219.52,261.58 219.59,265 219.66,265.04 219.73,263 219.81,263.52 219.88,261.19 219.95,259.61 220.02,262.2 220.09,259.75 220.16,261.56 220.23,261.72 220.31,261.17 220.38,263.11 220.45,265.7 220.52,263.11 220.59,259.69 220.66,268.44 220.73,258.48 220.81,260.2 220.88,264.36 220.95,262.6 221.02,263.13 221.09,263.83 221.16,257.21 221.24,260.04 221.31,266.22 221.38,263.59 221.45,263.65 221.52,267.82 221.59,262.42 221.66,260.79 221.74,258.36 221.81,264.69 221.88,255.26 221.95,262.46 222.02,258.17 222.09,261.41 222.16,262.01 222.24,262.75 222.31,258.56 222.38,261.86 222.45,265.59 222.52,253.15 222.59,263.22 222.67,264.03 222.74,263.92 222.81,264.75 222.88,266.22 222.95,263.46 223.02,262.92 223.09,261.28 223.17,257.54 223.24,265.66 223.31,266.55 223.38,266.69 223.45,261.47 223.52,261.92 223.59,267.56 223.67,263.77 223.74,263.97 223.81,268.37 223.88,260.59 223.95,259.21 224.02,262.85 224.1,267.1 224.17,265.14 224.24,264.06 224.31,262.76 224.38,262.64 224.45,261.46 224.52,258.65 224.6,266.67 224.67,261.86 224.74,268.09 224.81,267.4 224.88,270.72 224.95,263.86 225.02,269.6 225.1,265.49 225.17,264.09 225.24,262.62 225.31,265.04 225.38,261.32 225.45,265.65 225.53,259.43 225.6,266.1 225.67,261.38 225.74,272.74 225.81,264.59 225.88,269.5 225.95,264.12 226.03,264.93 226.1,267.11 226.17,271.53 226.24,271.83 226.31,263.08 226.38,267.21 226.45,267.41 226.53,260.82 226.6,266.76 226.67,266.16 226.74,263.28 226.81,263.46 226.88,262.12 226.96,263.66 227.03,266.45 227.1,264.12 227.17,261.65 227.24,264.06 227.31,259.6 227.38,262.23 227.46,265.68 227.53,271.93 227.6,260.5 227.67,266.33 227.74,258.04 227.81,269.73 227.88,267.67 227.96,263.21 228.03,261.39 228.1,265.1 228.17,262.36 228.24,256.9 228.31,266.14 228.39,264.56 228.46,268.65 228.53,261.12 228.6,261.39 228.67,263.34 228.74,265.94 228.81,266.76 228.89,268.28 228.96,261.51 229.03,266.09 229.1,266.33 229.17,266.18 229.24,269.26 229.31,264.51 229.39,264.78 229.46,261.75 229.53,271.45 229.6,270.5 229.67,265.18 229.74,270.4 229.82,264.71 229.89,266.03 229.96,263.64 230.03,264.29 230.1,257.03 230.17,258.82 230.24,265.92 230.32,263.31 230.39,265.26 230.46,263.27 230.53,266.73 230.6,269.52 230.67,266.28 230.74,268.11 230.82,262.51 230.89,263.6 230.96,267.62 231.03,263.5 231.1,262.94 231.17,262.25 231.25,265.19 231.32,264.67 231.39,272.39 231.46,265.63 231.53,269.41 231.6,268.78 231.67,267.49 231.75,268.25 231.82,264.43 231.89,266.11 231.96,267.86 232.03,261.06 232.1,263.66 232.17,265.72 232.25,272.81 232.32,270.04 232.39,265.21 232.46,268.61 232.53,269 232.6,265.67 232.68,262.88 232.75,267.52 232.82,266.35 232.89,267.78 232.96,265.6 233.03,269.04 233.1,268.49 233.18,266.99 233.25,266.53 233.32,268.43 233.39,265.68 233.46,269.18 233.53,267.97 233.6,263.08 233.68,266.33 233.75,268.86 233.82,262.84 233.89,261.76 233.96,261 234.03,267.04 234.11,263.54 234.18,269.56 234.25,267.71 234.32,266.7 234.39,269.15 234.46,258.81 234.53,265.42 234.61,268.5 234.68,268.32 234.75,268.04 234.82,263.52 234.89,261.8 234.96,264.77 235.03,265.89 235.11,265.69 235.18,270.53 235.25,267.57 235.32,265.51 235.39,265.43 235.46,267.51 235.54,263.81 235.61,269.26 235.68,266.42 235.75,266.14 235.82,264.92 235.89,268.31 235.96,263.06 236.04,271.41 236.11,268.18 236.18,263.96 236.25,268.09 236.32,270.14 236.39,267.49 236.46,271.88 236.54,265.32 236.61,265.54 236.68,264.74 236.75,268.99 236.82,267.98 236.89,272.76 236.97,264.97 237.04,268.61 237.11,267.38 237.18,260.94 237.25,265.16 237.32,268.79 237.39,270.1 237.47,263.94 237.54,262.77 237.61,270.9 237.68,266.49 237.75,261.77 237.82,266.32 237.89,265.61 237.97,268.47 238.04,263.68 238.11,268.36 238.18,268.29 238.25,265.52 238.32,272.31 238.4,269.36 238.47,269.86 238.54,272.13 238.61,263.52 238.68,267.77 238.75,267.62 238.82,268.79 238.9,269.6 238.97,266.3 239.04,267.59 239.11,273.68 239.18,265.9 239.25,269.71 239.32,262.54 239.4,266.61 239.47,266.07 239.54,268.37 239.61,274.63 239.68,263.93 239.75,271.44 239.83,269.96 239.9,269.3 239.97,268.05 240.04,266.72 240.11,266.2 240.18,265.44 240.25,266.95 240.33,274.06 240.4,271.42 240.47,267.91 240.54,267.84 240.61,273.95 240.68,267.59 240.75,271.04 240.83,264 240.9,266.09 240.97,273.84 241.04,271.14 241.11,269.75 241.18,270.98 241.26,265.98 241.33,268.23 241.4,272.34 241.47,269.8 241.54,265.95 241.61,272.94 241.68,270.11 241.76,266.18 241.83,270.17 241.9,269.56 241.97,270.45 242.04,267.8 242.11,266.58 242.18,266.77 242.26,268.6 242.33,265.55 242.4,270.13 242.47,270.4 242.54,270.23 242.61,270.97 242.69,268.06 242.76,267.29 242.83,268.21 242.9,267.54 242.97,266.69 243.04,268.51 243.11,268.38 243.19,267.15 243.26,269.19 243.33,276.54 243.4,267.39 243.47,274.87 243.54,275.21 243.61,268.02 243.69,270.23 243.76,264.23 243.83,266.85 243.9,270.62 243.97,273.62 244.04,264.29 244.12,268.84 244.19,270.09 244.26,273.74 244.33,272.17 244.4,271.83 244.47,268.85 244.54,269.7 244.62,272.36 244.69,276.01 244.76,270.02 244.83,270.53 244.9,271.55 244.97,270.09 245.04,269.41 245.12,269.83 245.19,271.59 245.26,267.1 245.33,270.82 245.4,274.4 245.47,272.3 245.55,269.26 245.62,270.35 245.69,266.11 245.76,267.2 245.83,274.62 245.9,265.97 245.97,273.22 246.05,273.3 246.12,270.35 246.19,270.33 246.26,271.64 246.33,263.43 246.4,267.81 246.47,269.61 246.55,268.82 246.62,269.35 246.69,271.2 246.76,272.13 246.83,274.58 246.9,268.4 246.98,273.19 247.05,267.85 247.12,272.11 247.19,262.6 247.26,267.35 247.33,270.52 247.4,271.26 247.48,272.49 247.55,270.87 247.62,268.29 247.69,271.01 247.76,273.4 247.83,272.24 247.9,268.87 247.98,269.17 248.05,268.28 248.12,271.52 248.19,270.57 248.26,268.03 248.33,269.49 248.41,268.85 248.48,273.15 248.55,270.14 248.62,275.2 248.69,268.99 248.76,273.25 248.83,272.09 248.91,271.43 248.98,268.97 249.05,271.69 249.12,272.71 249.19,270.9 249.26,266.73 249.33,269.05 249.41,268.93 249.48,272.08 249.55,272.42 249.62,269.97 249.69,268.02 249.76,268.31 249.84,270.42 249.91,272.75 249.98,268.89 250.05,277.32 250.12,270.97 250.19,269.46 250.26,268.51 250.34,272.48 250.41,269 250.48,271.78 250.55,268.78 250.62,273.73 250.69,261.86 250.76,267.92 250.84,272.69 250.91,273.25 250.98,267.02 251.05,273.86 251.12,270.88 251.19,270.57 251.27,276.15 251.34,270.46 251.41,277.48 251.48,267.13 251.55,269.51 251.62,275.01 251.69,269.65 251.77,275.69 251.84,273.34 251.91,272.62 251.98,272.69 252.05,270.36 252.12,270.94 252.19,274.2 252.27,274.37 252.34,268.76 252.41,268.97 252.48,268.68 252.55,272.11 252.62,275.56 252.7,270.65 252.77,272.07 252.84,266.06 252.91,268.69 252.98,269.14 253.05,270.52 253.12,273.27 253.2,272.93 253.27,272.96 253.34,270.66 253.41,269.03 253.48,270.34 253.55,269.52 253.62,275.2 253.7,274.21 253.77,269.65 253.84,269.09 253.91,272.25 253.98,277.44 254.05,273.72 254.13,274.53 254.2,273.96 254.27,268.18 254.34,271.79 254.41,267.73 254.48,274.12 254.55,274.62 254.63,272.06 254.7,274.54 254.77,268.94 254.84,265.67 254.91,271.08 254.98,273.74 255.05,270.96 255.13,268.47 255.2,273.98 255.27,270.55 255.34,272.32 255.41,268.47 255.48,275.58 255.56,266.03 255.63,272.77 255.7,274.29 255.77,270.32 255.84,268.97 255.91,270.74 255.98,273.55 256.06,270.47 256.13,271.1 256.2,270.41 256.27,270.76 256.34,272.33 256.41,273.37 256.49,274.42 256.56,277.23 256.63,273.25 256.7,273.65 256.77,272.25 256.84,268.97 256.91,271.65 256.99,269.57 257.06,274.13 257.13,275.37 257.2,270.66 257.27,267.21 257.34,277.07 257.41,271.87 257.49,275.31 257.56,269.68 257.63,268.71 257.7,270.71 257.77,271.48 257.84,265.57 257.91,271.44 257.99,266.57 258.06,270.1 258.13,269.45 258.2,269.13 258.27,267.5 258.34,268.25 258.42,269.78 258.49,270.58 258.56,269.77 258.63,271.45 258.7,274.38 258.77,268.85 258.84,266.66 258.92,277.1 258.99,267.47 259.06,267.8 259.13,273.99 259.2,271.75 259.27,271.75 259.34,273.64 259.42,273.42 259.49,270.5 259.56,269.18 259.63,273.58 259.7,272.39 259.77,274.61 259.85,274.2 259.92,271.75 259.99,274.99 260.06,264.4 260.13,275.98 260.2,271.67 260.27,269.09 260.35,272.57 260.42,273.62 260.49,277.91 260.56,275.83 260.63,266.56 260.7,273.81 260.77,272.7 260.85,272.97 260.92,265.05 260.99,268.86 261.06,269.21 261.13,273.14 261.2,274.91 261.28,277.56 261.35,275.7 261.42,269.31 261.49,272.48 261.56,271.33 261.63,281.24 261.7,271.09 261.78,270.34 261.85,271.38 261.92,268.95 261.99,269.01 262.06,275.59 262.13,279.54 262.2,270.54 262.28,270.88 262.35,271.36 262.42,265.05 262.49,267.46 262.56,280.2 262.63,268.82 262.71,272.41 262.78,269.06 262.85,272.43 262.92,276.1 262.99,275.25 263.06,273.45 263.13,275.38 263.21,265.91 263.28,278.03 263.35,269.54 263.42,266.96 263.49,272.63 263.56,273.8 263.63,272.12 263.71,273.41 263.78,274.33 263.85,272.11 263.92,267.43 263.99,271.83 264.06,275.6 264.14,273.45 264.21,268.88 264.28,266.02 264.35,271.74 264.42,273.61 264.49,268.74 264.56,266.47 264.64,276.69 264.71,274.77 264.78,272.05 264.85,278.43 264.92,269.58 264.99,273.46 265.06,267.32 265.14,270.59 265.21,272.07 265.28,270.07 265.35,270.45 265.42,273.52 265.49,276.4 265.57,274.12 265.64,269.92 265.71,272.79 265.78,273.42 265.85,272.66 265.92,269.05 265.99,272.48 266.07,273.92 266.14,271.95 266.21,277.45 266.28,271.68 266.35,269.07 266.42,271.8 266.5,269.5 266.57,275.71 266.64,273.96 266.71,270.8 266.78,276.16 266.85,272.31 266.92,271.65 267,272.25 267.07,272.86 267.14,275.44 267.21,268.76 267.28,271.08 267.35,271 267.42,270.07 267.5,268.09 267.57,277.04 267.64,271.42 267.71,274.39 267.78,275.05 267.85,271.92 267.92,274.43 268,272.76 268.07,270.17 268.14,267.57 268.21,275.01 268.28,275.26 268.35,269.32 268.43,274.97 268.5,274.1 268.57,274.35 268.64,272.55 268.71,276.79 268.78,277.06 268.85,272.99 268.93,271.69 269,274.59 269.07,271.76 269.14,264.93 269.21,275.57 269.28,265.79 269.36,280.1 269.43,277.06 269.5,267.31 269.57,279.42 269.64,271.87 269.71,273.24 269.78,274.28 269.86,269.97 269.93,270.63 270,277.51 270.07,277.87 270.14,271.36 270.21,276.77 270.28,273.99 270.36,277.88 270.43,273.17 270.5,276.88 270.57,268.56 270.64,271.06 270.71,275.81 270.78,274.81 270.86,272.31 270.93,273.15 271,270.87 271.07,271.95 271.14,265.69 271.21,276.3 271.29,268.02 271.36,274.72 271.43,270.97 271.5,273.97 271.57,272.55 271.64,271.89 271.71,278.1 271.79,273.39 271.86,279.1 271.93,276.16 272,273.51 272.07,273.08 272.14,278.21 272.21,278.94 272.29,274.58 272.36,273.81 272.43,273.29 272.5,272.11 272.57,271.13 272.64,277.31 272.72,277.66 272.79,273.15 272.86,277.09 272.93,271.84 273,271.49 273.07,273.33 273.14,272.06 273.22,272.98 273.29,272.02 273.36,278.19 273.43,269.21 273.5,271.75 273.57,270.83 273.64,270.44 273.72,266.92 273.79,270.54 273.86,277.74 273.93,273.91 274,272.28 274.07,274.09 274.15,275.79 274.22,274.48 274.29,270.94 274.36,276.19 274.43,275.34 274.5,277.98 274.57,275.21 274.65,273.61 274.72,276 274.79,271.06 274.86,273.93 274.93,277.41 275,276.41 275.07,275.62 275.15,272.02 275.22,272.38 275.29,268.73 275.36,279.16 275.43,274.43 275.5,273.61 275.58,269.16 275.65,276.05 275.72,277.46 275.79,270.84 275.86,273.15 275.93,274.79 276,274.5 276.08,276.42 276.15,278.03 276.22,277.62 276.29,276.12 276.36,272.85 276.43,267.81 276.5,275.68 276.58,271.73 276.65,276.3 276.72,272.99 276.79,276.25 276.86,275.78 276.93,273.97 277.01,274.99 277.08,272.94 277.15,279.49 277.22,276.68 277.29,272.94 277.36,272.28 277.43,269.61 277.51,278.58 277.58,277.65 277.65,275.44 277.72,276.98 277.79,278.44 277.86,274.84 277.93,270.42 278.01,270.41 278.08,276.27 278.15,277.86 278.22,267.37 278.29,274.11 278.36,279.95 278.44,272.28 278.51,273.45 278.58,273.13 278.65,276.91 278.72,270.27 278.79,273.41 278.86,273.6 278.94,275.95 279.01,278.94 279.08,269.82 279.15,267.51 279.22,273.98 279.29,273.25 279.37,272.86 279.44,274.85 279.51,275.69 279.58,273.89 279.65,270.62 279.72,273.23 279.79,274.56 279.87,277.08 279.94,274.29 280.01,274.58 280.08,273.59 280.15,274.79 280.22,274.04 280.29,275.58 280.37,280.49 280.44,266.1 280.51,278.79 280.58,279.1 280.65,270.9 280.72,273.25 280.79,275.49 280.87,270.22 280.94,272.27 281.01,277.88 281.08,269.16 281.15,273.63 281.22,273.98 281.3,271.72 281.37,274.47 281.44,267.6 281.51,276.74 281.58,273.25 281.65,275.26 281.72,271.97 281.8,276.35 281.87,273.53 281.94,278.34 282.01,275.85 282.08,274.26 282.15,273.65 282.23,277.35 282.3,277.72 282.37,282.15 282.44,273.15 282.51,273.14 282.58,277.93 282.65,272.36 282.73,273.2 282.8,273.51 282.87,269.08 282.94,276.03 283.01,272.16 283.08,275.3 283.15,275.04 283.23,272.43 283.3,276.63 283.37,275.17 283.44,277.99 283.51,273.04 283.58,274.05 283.65,275.71 283.73,274.21 283.8,271.55 283.87,277.18 283.94,277.83 284.01,272.29 284.08,269.18 284.16,272.37 284.23,270.04 284.3,276.11 284.37,274.51 284.44,276.85 284.51,274.16 284.58,275.63 284.66,274.41 284.73,275.35 284.8,279.57 284.87,271.76 284.94,276.27 285.01,273.94 285.08,274.71 285.16,276.88 285.23,276.78 285.3,276.45 285.37,278.23 285.44,277.44 285.51,279.01 285.59,271.94 285.66,272.58 285.73,276.39 285.8,277.53 285.87,277.21 285.94,272.53 286.01,274.33 286.09,273.63 286.16,278.09 286.23,276.9 286.3,278.55 286.37,272.89 286.44,274.24 286.51,271.65 286.59,273.71 286.66,273.72 286.73,280 286.8,272.97 286.87,270.37 286.94,273.92 287.02,272.67 287.09,272.72 287.16,273.6 287.23,273.31 287.3,273.73 287.37,280.93 287.44,275.9 287.52,281.63 287.59,275.49 287.66,276.2 287.73,279.6 287.8,277.41 287.87,276.95 287.94,275.35 288.02,270.21 288.09,272.88 288.16,272.63 288.23,272.28 288.3,275.65 288.37,278.52 288.45,275.78 288.52,268.24 288.59,275.05 288.66,275.37 288.73,274.23 288.8,275.1 288.87,272.86 288.95,272.64 289.02,276.89 289.09,276.9 289.16,274.62 289.23,277.12 289.3,280.12 289.38,274.67 289.45,275.12 289.52,272.67 289.59,271.23 289.66,273.67 289.73,272.21 289.8,280.31 289.88,281.26 289.95,277.67 290.02,278.59 290.09,277.76 290.16,275.43 290.23,275.37 290.3,278.77 290.38,277.35 290.45,275.07 290.52,284.18 290.59,273.76 290.66,272.07 290.73,278.87 290.8,275.04 290.88,274.79 290.95,270.33 291.02,277.98 291.09,271.86 291.16,274.9 291.23,271.57 291.31,274.32 291.38,269.2 291.45,277.92 291.52,277.36 291.59,276.6 291.66,281.62 291.73,274.83 291.81,271.52 291.88,277.13 291.95,272.22 292.02,276.19 292.09,274.79 292.16,275.58 292.24,275.94 292.31,280.67 292.38,277.99 292.45,273.12 292.52,276.6 292.59,277.12 292.66,275.73 292.74,273.39 292.81,276.52 292.88,280.44 292.95,275.18 293.02,274.42 293.09,276.47 293.16,271.83 293.24,284.45 293.31,272.13 293.38,277.54 293.45,277.92 293.52,275.69 293.59,268.62 293.66,274.37 293.74,282.77 293.81,280.11 293.88,272.47 293.95,279.17 294.02,279.38 294.09,273.97 294.17,274.44 294.24,276.55 294.31,273.24 294.38,273.79 294.45,279.07 294.52,274.85 294.59,277.07 294.67,271.71 294.74,274.56 294.81,273.67 294.88,277.88 294.95,280.89 295.02,273.23 295.09,275.63 295.17,278.47 295.24,276.23 295.31,280.57 295.38,279.06 295.45,279.25 295.52,276.21 295.6,278.68 295.67,277.11 295.74,279.71 295.81,277.93 295.88,276.93 295.95,272.28 296.02,272.28 296.1,280.07 296.17,274.91 296.24,272.02 296.31,277.14 296.38,276.2 296.45,277 296.52,281.19 296.6,277.34 296.67,271.67 296.74,275.97 296.81,273.02 296.88,274.2 296.95,274.02 297.03,276.02 297.1,275.32 297.17,273.16 297.24,278.26 297.31,280.9 297.38,276.91 297.45,279.82 297.53,278.46 297.6,277.79 297.67,282.02 297.74,280.13 297.81,279.04 297.88,275.35 297.95,278.49 298.03,275.76 298.1,273.87 298.17,278.05 298.24,280.93 298.31,271.14 298.38,283.97 298.46,274.89 298.53,281.31 298.6,273.9 298.67,276.66 298.74,278.71 298.81,272.47 298.88,277.01 298.96,272.89 299.03,277.62 299.1,279.48 299.17,270.68 299.24,277.27 299.31,275.17 299.38,276.76 299.46,277.12 299.53,272.41 299.6,273.66 299.67,274.5 299.74,275.88 299.81,273.48 299.89,279.99 299.96,278.08 300.03,279.02 300.1,273.35 300.17,276.36 300.24,274.29 300.31,276.77 300.39,279.9 300.46,277.75 300.53,274.81 300.6,274.85 300.67,276.57 300.74,281.81 300.81,278.65 300.89,278.54 300.96,274.9 301.03,272.47 301.1,279.36 301.17,277.14 301.24,280.04 301.32,274.61 301.39,276.34 301.46,273.28 301.53,273.45 301.6,274.1 301.67,270.66 301.74,278.8 301.82,272.86 301.89,277.35 301.96,282.4 302.03,276.31 302.1,274.4 302.17,278.54 302.25,274.7 302.32,273.35 302.39,275.83 302.46,274.53 302.53,270.61 302.6,276.92 302.67,274.22 302.75,273.31 302.82,277.62 302.89,274.33 302.96,280.74 303.03,274.36 303.1,283.73 303.17,278.3 303.25,281.49 303.32,275.39 303.39,275.86 303.46,280.85 303.53,276.09 303.6,275.19 303.67,277.99 303.75,283.58 303.82,276.16 303.89,279.77 303.96,273.09 304.03,277.64 304.1,276.78 304.18,280.04 304.25,282.34 304.32,281.32 304.39,276.18 304.46,274.51 304.53,274.75 304.6,280.74 304.68,282.01 304.75,275.34 304.82,277.89 304.89,280.74 304.96,275.87 305.03,274.72 305.11,277.21 305.18,272.48 305.25,280.17 305.32,270.42 305.39,277.38 305.46,276.18 305.53,275.85 305.61,279.13 305.68,279.58 305.75,282.32 305.82,276.44 305.89,274.49 305.96,279.16 306.03,272.45 306.11,276.39 306.18,273.54 306.25,282.42 306.32,278.99 306.39,279.46 306.46,276.2 306.53,277.62 306.61,281.96 306.68,280.99 306.75,275.37 306.82,280.05 306.89,275.49 306.96,278.91 307.04,273.95 307.11,276.74 307.18,275.33 307.25,275.46 307.32,279.63 307.39,277.95 307.46,279.35 307.54,279.53 307.61,281.2 307.68,276.85 307.75,278.52 307.82,284.09 307.89,276.78 307.96,274.65 308.04,281.21 308.11,275.38 308.18,278.21 308.25,273.46 308.32,281.52 308.39,276.83 308.47,275.12 308.54,279.34 308.61,276.03 308.68,269.13 308.75,276.07 308.82,278.34 308.89,276.55 308.97,282.82 309.04,280.9 309.11,278.55 309.18,282.35 309.25,277.12 309.32,280.07 309.39,279.53 309.47,273.85 309.54,275.29 309.61,282.71 309.68,271.14 309.75,275.99 309.82,278.1 309.9,277.83 309.97,281.66 310.04,279.75 310.11,277.41 310.18,277.87 310.25,272.21 310.32,279.81 310.4,280.56 310.47,279.11 310.54,278.38 310.61,278.91 310.68,276.7 310.75,276.04 310.82,277.99 310.9,277.99 310.97,275.91 311.04,278.83 311.11,274.54 311.18,279.08 311.25,282.59 311.33,279.73 311.4,277.89 311.47,278.16 311.54,274.65 311.61,280.7 311.68,274.6 311.75,279.68 311.83,279.29 311.9,273.56 311.97,282.93 312.04,279.4 312.11,282.02 312.18,276.98 312.25,280.78 312.33,279.28 312.4,278.43 312.47,280.48 312.54,278.04 312.61,276.57 312.68,283.17 312.76,275.26 312.83,276.88 312.9,283.27 312.97,281.8 313.04,282.66 313.11,276.72 313.18,279.89 313.26,273.86 313.33,279.17 313.4,280.54 313.47,280.87 313.54,277.88 313.61,277.25 313.69,281.13 313.76,276.28 313.83,270.71 313.9,275.53 313.97,273.48 314.04,274.83 314.11,274.48 314.19,277.37 314.26,278.6 314.33,281.24 314.4,277.6 314.47,273.5 314.54,279.52 314.61,280.45 314.69,279.04 314.76,279.61 314.83,276.32 314.9,281.16 314.97,281.27 315.04,277.3 315.11,278.2 315.19,279.91 315.26,274.83 315.33,279.68 315.4,278.03 315.47,276.97 315.54,278.24 315.62,275.95 315.69,274.91 315.76,275.16 315.83,279.1 315.9,277.04 315.97,278.94 316.04,275.98 316.12,278.09 316.19,281.47 316.26,282.14 316.33,275.78 316.4,278.49 316.47,274.48 316.54,277.1 316.62,279.92 316.69,279.21 316.76,280.51 316.83,279.69 316.9,281.45 316.97,278.06 317.05,279.22 317.12,283.09 317.19,274.13 317.26,277.85 317.33,274.84 317.4,273.42 317.47,280.69 317.55,278.97 317.62,284.33 317.69,283.32 317.76,274.85 317.83,279.98 317.9,282.02 317.97,279.12 318.05,284.31 318.12,280.24 318.19,278.51 318.26,277.79 318.33,276.78 318.4,282.61 318.48,277.27 318.55,277.38 318.62,280.13 318.69,278.22 318.76,278.01 318.83,277.9 318.9,287.28 318.98,277.59 319.05,277.88 319.12,280.77 319.19,280.02 319.26,283.88 319.33,279.99 319.4,280.69 319.48,274.31 319.55,283.36 319.62,278.39 319.69,280.9 319.76,279.28 319.83,277.56 319.91,278.16 319.98,280.81 320.05,278.62 320.12,276.86 320.19,282.46 320.26,278.06 320.33,273.62 320.41,276.87 320.48,277.96 320.55,277.19 320.62,277.68 320.69,279.78 320.76,283.24 320.83,280.96 320.91,275.11 320.98,276.1 321.05,277.04 321.12,277.19 321.19,280.59 321.26,280.03 321.34,277.45 321.41,279.19 321.48,279.44 321.55,279.67 321.62,279.39 321.69,276.58 321.76,278.63 321.84,281.14 321.91,279.63 321.98,279.02 322.05,280.6 322.12,280.56 322.19,275.67 322.26,278.15 322.34,282.36 322.41,273.11 322.48,278.64 322.55,285.76 322.62,283.71 322.69,280.16 322.77,285.26 322.84,282.56 322.91,279.19 322.98,276.79 323.05,279.6 323.12,278.8 323.19,280.62 323.27,280.84 323.34,282.33 323.41,279.76 323.48,280.16 323.55,277.93 323.62,275.05 323.69,281.19 323.77,281.13 323.84,285.32 323.91,281.6 323.98,281.69 324.05,282.08 324.12,281.73 324.2,281.94 324.27,282.73 324.34,282.64 324.41,281.51 324.48,285.46 324.55,282.34 324.62,279.06 324.7,279.67 324.77,281.88 324.84,282.64 324.91,284.16 324.98,282.7 325.05,276.92 325.12,279.02 325.2,271.84 325.27,281.85 325.34,277.49 325.41,280.65 325.48,281.67 325.55,277.62 325.63,282.41 325.7,284.94 325.77,277.61 325.84,280.97 325.91,277.37 325.98,282.11 326.05,282.2 326.13,280.81 326.2,277.34 326.27,282.54 326.34,281.01 326.41,279.49 326.48,279.63 326.55,272.66 326.63,277.72 326.7,280.74 326.77,275.5 326.84,279.74 326.91,287.5 326.98,281.41 327.06,278.8 327.13,277.81 327.2,280.73 327.27,284.16 327.34,280.51 327.41,282.76 327.48,277.13 327.56,281.3 327.63,280.27 327.7,278.27 327.77,278.44 327.84,280.33 327.91,276.64 327.98,279.44 328.06,280.93 328.13,280.99 328.2,277.95 328.27,282.77 328.34,278.52 328.41,279.24 328.49,277.81 328.56,285.22 328.63,274.93 328.7,278.5 328.77,287.5 328.84,281.9 328.91,274 328.99,275.39 329.06,276.02 329.13,281.29 329.2,274.8 329.27,274.63 329.34,279.22 329.41,274.51 329.49,278.12 329.56,279.82 329.63,279.6 329.7,279.26 329.77,280.91 329.84,278.73 329.92,281.67 329.99,280.25 330.06,282.28 330.13,279.89 330.2,281.29 330.27,278.61 330.34,279.11 330.42,278.21 330.49,279.98 330.56,278.94 330.63,282.21 330.7,279.42 330.77,279.34 330.84,277.51 330.92,276.5 330.99,276.54 331.06,282.73 331.13,282.18 331.2,279.48 331.27,282.36 331.35,279.28 331.42,276.85 331.49,284.42 331.56,280.42 331.63,285.85 331.7,279.64 331.77,280.89 331.85,282.69 331.92,281.95 331.99,284.26 332.06,282.56 332.13,280.65 332.2,278.42 332.27,281.81 332.35,284.11 332.42,279.65 332.49,280.55 332.56,281.53 332.63,282.45 332.7,281.54 332.78,284.43 332.85,281.51 332.92,284.28 332.99,281.22 333.06,283.56 333.13,282.2 333.2,283.62 333.28,285.07 333.35,274.42 333.42,281.5 333.49,279.2 333.56,278.36 333.63,282.6 333.7,280.67 333.78,281.84 333.85,279.11 333.92,277.46 333.99,277.83 334.06,278.81 334.13,274.75 334.21,283 334.28,281.88 334.35,279.93 334.42,282.05 334.49,280.55 334.56,279.2 334.63,282.81 334.71,280.3 334.78,279.95 334.85,282.67 334.92,276.8 334.99,281.27 335.06,280.04 335.13,280.01 335.21,283.42 335.28,285.37 335.35,285.1 335.42,280.57 335.49,284.37 335.56,281.06 335.64,280.34 335.71,280.68 335.78,287.47 335.85,285.05 335.92,276.28 335.99,282.81 336.06,284.02 336.14,281.96 336.21,276.39 336.28,281.91 336.35,280.58 336.42,276.99 336.49,278.8 336.56,281.63 336.64,283.85 336.71,276.25 336.78,279.99 336.85,276.88 336.92,284.2 336.99,287.5 337.07,282.52 337.14,281.92 337.21,285.61 337.28,282.38 337.35,279.97 337.42,276.67 337.49,283.26 337.57,275.24 337.64,282.24 337.71,274.46 337.78,280.36 337.85,281.85 337.92,283.37 338,283.85 338.07,279.53 338.14,283.22 338.21,282.96 338.28,281.63 338.35,281.14 338.42,278.22 338.5,284.62 338.57,280.59 338.64,280.84 338.71,279.86 338.78,277.72 338.85,283.77 338.92,283.49 339,279.86 339.07,279.7 339.14,276.29 339.21,278.98 339.28,281.58 339.35,276.63 339.42,280.38 339.5,282.18 339.57,282.98 339.64,279.32 339.71,279.93 339.78,280.03 339.85,279.19 339.93,284.91 340,281.29 340.07,280.33 340.14,285.75 340.21,273.58 340.28,281.74 340.35,278.23 340.43,281.62 340.5,281.97 340.57,283.17 340.64,282.19 340.71,282.5 340.78,279.68 340.85,280.58 340.93,280.04 341,283.16 341.07,282.71 341.14,284.69 341.21,281.31 341.28,285.22 341.36,280.97 341.43,277.24 341.5,276.73 341.57,281.92 341.64,281.64 341.71,282.54 341.78,286.59 341.86,279.1 341.93,280.8 342,279.63 342.07,278.93 342.14,274.41 342.21,278.14 342.28,280.74 342.36,281.23 342.43,282.43 342.5,280.48 342.57,278.23 342.64,280.56 342.71,282.61 342.79,284.71 342.86,281.23 342.93,278.05 343,277.86"/><line x1="159.6" y1="246" x2="159.6" y2="270.16" stroke="#ff0000" stroke-width="1.3"/><line x1="170.4" y1="201.8" x2="170.4" y2="267.24" stroke="#ff0000" stroke-width="1.3"/><line x1="169.8" y1="234" x2="169.8" y2="267.24" stroke="#ff0000" stroke-width="1.3"/><line x1="175.5" y1="253" x2="175.5" y2="265.85" stroke="#ff0000" stroke-width="1.3"/><line x1="180.9" y1="155.7" x2="180.9" y2="264.4" stroke="#ff0000" stroke-width="1.3"/><line x1="180.3" y1="167" x2="180.3" y2="264.4" stroke="#ff0000" stroke-width="1.3"/><line x1="186.4" y1="240.2" x2="186.4" y2="263.02" stroke="#ff0000" stroke-width="1.3"/><line x1="191.8" y1="99" x2="191.8" y2="261.68" stroke="#ff0000" stroke-width="1.3"/><line x1="191.20000000000002" y1="164" x2="191.20000000000002" y2="261.68" stroke="#ff0000" stroke-width="1.3"/><line x1="196.8" y1="222.6" x2="196.8" y2="260.43" stroke="#ff0000" stroke-width="1.3"/><line x1="202.4" y1="44" x2="202.4" y2="259.88" stroke="#ff0000" stroke-width="1.3"/><line x1="201.8" y1="112" x2="201.8" y2="259.88" stroke="#ff0000" stroke-width="1.3"/><line x1="208" y1="231" x2="208" y2="261" stroke="#ff0000" stroke-width="1.3"/><line x1="213.3" y1="130.7" x2="213.3" y2="261.92" stroke="#ff0000" stroke-width="1.3"/><line x1="212.70000000000002" y1="161.7" x2="212.70000000000002" y2="261.92" stroke="#ff0000" stroke-width="1.3"/><line x1="218.6" y1="247" x2="218.6" y2="262.71" stroke="#ff0000" stroke-width="1.3"/><line x1="224" y1="179.3" x2="224" y2="263.98" stroke="#ff0000" stroke-width="1.3"/><line x1="223.4" y1="183" x2="223.4" y2="263.98" stroke="#ff0000" stroke-width="1.3"/><line x1="229.3" y1="258" x2="229.3" y2="265.46" stroke="#ff0000" stroke-width="1.3"/><line x1="234.7" y1="224.8" x2="234.7" y2="266.98" stroke="#ff0000" stroke-width="1.3"/><line x1="234.1" y1="240" x2="234.1" y2="266.98" stroke="#ff0000" stroke-width="1.3"/><rect x="55" y="43" width="2" height="247" fill="#000"/><rect x="55" y="288" width="289" height="2" fill="#000"/><text transform="translate(49.8,47.6) scale(0.933,1)" text-anchor="end" font-size="10" font-family="Liberation Sans, sans-serif">40</text><text transform="translate(49.8,70) scale(0.933,1)" text-anchor="end" font-size="10" font-family="Liberation Sans, sans-serif">35</text><text transform="translate(49.8,92.4) scale(0.933,1)" text-anchor="end" font-size="10" font-family="Liberation Sans, sans-serif">30</text><text transform="translate(49.8,114.8) scale(0.933,1)" text-anchor="end" font-size="10" font-family="Liberation Sans, sans-serif">25</text><text transform="translate(49.8,137.2) scale(0.933,1)" text-anchor="end" font-size="10" font-family="Liberation Sans, sans-serif">20</text><text transform="translate(49.8,159.6) scale(0.933,1)" text-anchor="end" font-size="10" font-family="Liberation Sans, sans-serif">15</text><text transform="translate(49.8,182) scale(0.933,1)" text-anchor="end" font-size="10" font-family="Liberation Sans, sans-serif">10</text><text transform="translate(49.8,204.4) scale(0.933,1)" text-anchor="end" font-size="10" font-family="Liberation Sans, sans-serif">5</text><text transform="translate(49.8,226.8) scale(0.933,1)" text-anchor="end" font-size="10" font-family="Liberation Sans, sans-serif">0</text><text transform="translate(49.8,249.2) scale(0.933,1)" text-anchor="end" font-size="10" font-family="Liberation Sans, sans-serif">-5</text><text transform="translate(49.8,271.6) scale(0.933,1)" text-anchor="end" font-size="10" font-family="Liberation Sans, sans-serif">-10</text><text transform="translate(57.2,304.5) scale(0.933,1)" text-anchor="middle" font-size="10" font-family="Liberation Sans, sans-serif">-8</text><text transform="translate(93.2,304.5) scale(0.933,1)" text-anchor="middle" font-size="10" font-family="Liberation Sans, sans-serif">-6</text><text transform="translate(128.2,304.5) scale(0.933,1)" text-anchor="middle" font-size="10" font-family="Liberation Sans, sans-serif">-4</text><text transform="translate(164.2,304.5) scale(0.933,1)" text-anchor="middle" font-size="10" font-family="Liberation Sans, sans-serif">-2</text><text transform="translate(200.2,304.5) scale(0.933,1)" text-anchor="middle" font-size="10" font-family="Liberation Sans, sans-serif">0</text><text transform="translate(235.2,304.5) scale(0.933,1)" text-anchor="middle" font-size="10" font-family="Liberation Sans, sans-serif">2</text><text transform="translate(271.2,304.5) scale(0.933,1)" text-anchor="middle" font-size="10" font-family="Liberation Sans, sans-serif">4</text><text transform="translate(306.2,304.5) scale(0.933,1)" text-anchor="middle" font-size="10" font-family="Liberation Sans, sans-serif">6</text><text transform="translate(342.2,304.5) scale(0.933,1)" text-anchor="middle" font-size="10" font-family="Liberation Sans, sans-serif">8</text><text x="198.7" y="316.2" text-anchor="middle" font-size="9.33" font-weight="bold" font-family="Liberation Sans, sans-serif">[MHz]</text><text transform="translate(31.2,166.7) rotate(-90)" text-anchor="middle" font-size="9.6" font-weight="bold" letter-spacing="0.55" font-family="Liberation Sans, sans-serif">[db]</text><text x="123.3" y="34.4" font-size="9.33" font-weight="bold" font-family="Liberation Sans, sans-serif">prb00223052017133654000</text>
<rect x="397" y="43" width="293" height="246" fill="rgb(35, 80, 208)"/><defs><linearGradient id="g0" x1="0" y1="0" x2="0" y2="1"><stop offset="0.0077" stop-color="rgb(35,80,208)"/><stop offset="0.0231" stop-color="rgb(35,80,208)"/><stop offset="0.0385" stop-color="rgb(35,80,208)"/><stop offset="0.0538" stop-color="rgb(30,95,182)"/><stop offset="0.0692" stop-color="rgb(20,129,123)"/><stop offset="0.0846" stop-color="rgb(17,166,67)"/><stop offset="0.1000" stop-color="rgb(15,188,33)"/><stop offset="0.1154" stop-color="rgb(26,194,26)"/><stop offset="0.1308" stop-color="rgb(33,197,23)"/><stop offset="0.1462" stop-color="rgb(39,200,20)"/><stop offset="0.1615" stop-color="rgb(46,203,17)"/><stop offset="0.1769" stop-color="rgb(54,206,14)"/><stop offset="0.1923" stop-color="rgb(62,209,11)"/><stop offset="0.2077" stop-color="rgb(75,213,8)"/><stop offset="0.2231" stop-color="rgb(121,223,5)"/><stop offset="0.2385" stop-color="rgb(181,236,1)"/><stop offset="0.2538" stop-color="rgb(226,245,0)"/><stop offset="0.2692" stop-color="rgb(249,249,0)"/><stop offset="0.2846" stop-color="rgb(253,217,0)"/><stop offset="0.3000" stop-color="rgb(254,172,0)"/><stop offset="0.3154" stop-color="rgb(255,143,0)"/><stop offset="0.3308" stop-color="rgb(254,123,0)"/><stop offset="0.3462" stop-color="rgb(254,112,0)"/><stop offset="0.3615" stop-color="rgb(254,112,0)"/><stop offset="0.3769" stop-color="rgb(254,123,0)"/><stop offset="0.3923" stop-color="rgb(255,143,0)"/><stop offset="0.4077" stop-color="rgb(254,172,0)"/><stop offset="0.4231" stop-color="rgb(253,231,0)"/><stop offset="0.4385" stop-color="rgb(220,244,0)"/><stop offset="0.4538" stop-color="rgb(144,228,3)"/><stop offset="0.4692" stop-color="rgb(60,208,12)"/><stop offset="0.4846" stop-color="rgb(36,198,22)"/><stop offset="0.5000" stop-color="rgb(15,190,30)"/><stop offset="0.5154" stop-color="rgb(17,161,74)"/><stop offset="0.5308" stop-color="rgb(19,132,119)"/><stop offset="0.5462" stop-color="rgb(25,110,156)"/><stop offset="0.5615" stop-color="rgb(30,96,180)"/><stop offset="0.5769" stop-color="rgb(33,87,196)"/><stop offset="0.5923" stop-color="rgb(34,82,204)"/><stop offset="0.6077" stop-color="rgb(35,80,208)"/><stop offset="0.6231" stop-color="rgb(35,80,208)"/><stop offset="0.6385" stop-color="rgb(35,80,208)"/><stop offset="0.6538" stop-color="rgb(35,80,208)"/><stop offset="0.6692" stop-color="rgb(35,80,208)"/><stop offset="0.6846" stop-color="rgb(35,80,208)"/><stop offset="0.7000" stop-color="rgb(35,80,208)"/><stop offset="0.7154" stop-color="rgb(35,80,208)"/><stop offset="0.7308" stop-color="rgb(35,80,208)"/><stop offset="0.7462" stop-color="rgb(35,80,208)"/><stop offset="0.7615" stop-color="rgb(35,80,208)"/><stop offset="0.7769" stop-color="rgb(35,80,208)"/><stop offset="0.7923" stop-color="rgb(35,80,208)"/><stop offset="0.8077" stop-color="rgb(35,80,208)"/><stop offset="0.8231" stop-color="rgb(35,80,208)"/><stop offset="0.8385" stop-color="rgb(35,80,208)"/><stop offset="0.8538" stop-color="rgb(35,80,208)"/><stop offset="0.8692" stop-color="rgb(35,80,208)"/><stop offset="0.8846" stop-color="rgb(35,80,208)"/><stop offset="0.9000" stop-color="rgb(35,80,208)"/><stop offset="0.9154" stop-color="rgb(35,80,208)"/><stop offset="0.9308" stop-color="rgb(35,80,208)"/><stop offset="0.9462" stop-color="rgb(35,80,208)"/><stop offset="0.9615" stop-color="rgb(35,80,208)"/><stop offset="0.9769" stop-color="rgb(35,80,208)"/><stop offset="0.9923" stop-color="rgb(35,80,208)"/></linearGradient><linearGradient id="g1" x1="0" y1="0" x2="0" y2="1"><stop offset="0.0077" stop-color="rgb(35,80,208)"/><stop offset="0.0231" stop-color="rgb(35,80,208)"/><stop offset="0.0385" stop-color="rgb(35,80,208)"/><stop offset="0.0538" stop-color="rgb(30,94,185)"/><stop offset="0.0692" stop-color="rgb(21,123,133)"/><stop offset="0.0846" stop-color="rgb(18,156,83)"/><stop offset="0.1000" stop-color="rgb(16,175,53)"/><stop offset="0.1154" stop-color="rgb(15,188,33)"/><stop offset="0.1308" stop-color="rgb(19,192,28)"/><stop offset="0.1462" stop-color="rgb(25,194,26)"/><stop offset="0.1615" stop-color="rgb(32,197,23)"/><stop offset="0.1769" stop-color="rgb(39,199,21)"/><stop offset="0.1923" stop-color="rgb(46,202,18)"/><stop offset="0.2077" stop-color="rgb(54,205,15)"/><stop offset="0.2231" stop-color="rgb(62,209,11)"/><stop offset="0.2385" stop-color="rgb(107,220,6)"/><stop offset="0.2538" stop-color="rgb(196,239,0)"/><stop offset="0.2692" stop-color="rgb(229,246,0)"/><stop offset="0.2846" stop-color="rgb(252,233,0)"/><stop offset="0.3000" stop-color="rgb(254,186,0)"/><stop offset="0.3154" stop-color="rgb(255,154,0)"/><stop offset="0.3308" stop-color="rgb(254,132,0)"/><stop offset="0.3462" stop-color="rgb(254,114,0)"/><stop offset="0.3615" stop-color="rgb(253,105,0)"/><stop offset="0.3769" stop-color="rgb(253,105,0)"/><stop offset="0.3923" stop-color="rgb(254,114,0)"/><stop offset="0.4077" stop-color="rgb(254,134,0)"/><stop offset="0.4231" stop-color="rgb(254,186,0)"/><stop offset="0.4385" stop-color="rgb(252,239,0)"/><stop offset="0.4538" stop-color="rgb(219,244,0)"/><stop offset="0.4692" stop-color="rgb(129,225,4)"/><stop offset="0.4846" stop-color="rgb(60,208,12)"/><stop offset="0.5000" stop-color="rgb(38,199,21)"/><stop offset="0.5154" stop-color="rgb(16,184,40)"/><stop offset="0.5308" stop-color="rgb(18,151,90)"/><stop offset="0.5462" stop-color="rgb(21,123,134)"/><stop offset="0.5615" stop-color="rgb(26,107,161)"/><stop offset="0.5769" stop-color="rgb(29,98,178)"/><stop offset="0.5923" stop-color="rgb(31,92,187)"/><stop offset="0.6077" stop-color="rgb(32,89,192)"/><stop offset="0.6231" stop-color="rgb(32,88,194)"/><stop offset="0.6385" stop-color="rgb(33,87,196)"/><stop offset="0.6538" stop-color="rgb(33,85,199)"/><stop offset="0.6692" stop-color="rgb(34,84,200)"/><stop offset="0.6846" stop-color="rgb(34,84,202)"/><stop offset="0.7000" stop-color="rgb(34,83,202)"/><stop offset="0.7154" stop-color="rgb(34,83,203)"/><stop offset="0.7308" stop-color="rgb(34,83,204)"/><stop offset="0.7462" stop-color="rgb(34,82,204)"/><stop offset="0.7615" stop-color="rgb(34,82,205)"/><stop offset="0.7769" stop-color="rgb(34,82,205)"/><stop offset="0.7923" stop-color="rgb(35,81,206)"/><stop offset="0.8077" stop-color="rgb(35,81,206)"/><stop offset="0.8231" stop-color="rgb(35,81,207)"/><stop offset="0.8385" stop-color="rgb(35,80,208)"/><stop offset="0.8538" stop-color="rgb(35,80,208)"/><stop offset="0.8692" stop-color="rgb(35,80,208)"/><stop offset="0.8846" stop-color="rgb(35,80,208)"/><stop offset="0.9000" stop-color="rgb(35,80,208)"/><stop offset="0.9154" stop-color="rgb(35,80,208)"/><stop offset="0.9308" stop-color="rgb(35,80,208)"/><stop offset="0.9462" stop-color="rgb(35,80,208)"/><stop offset="0.9615" stop-color="rgb(35,80,208)"/><stop offset="0.9769" stop-color="rgb(35,80,208)"/><stop offset="0.9923" stop-color="rgb(35,80,208)"/></linearGradient><linearGradient id="g2" x1="0" y1="0" x2="0" y2="1"><stop offset="0.0077" stop-color="rgb(35,80,208)"/><stop offset="0.0231" stop-color="rgb(35,80,208)"/><stop offset="0.0385" stop-color="rgb(35,80,208)"/><stop offset="0.0538" stop-color="rgb(31,92,187)"/><stop offset="0.0692" stop-color="rgb(22,118,141)"/><stop offset="0.0846" stop-color="rgb(18,145,99)"/><stop offset="0.1000" stop-color="rgb(17,162,73)"/><stop offset="0.1154" stop-color="rgb(16,174,55)"/><stop offset="0.1308" stop-color="rgb(16,180,46)"/><stop offset="0.1462" stop-color="rgb(15,185,37)"/><stop offset="0.1615" stop-color="rgb(17,191,29)"/><stop offset="0.1769" stop-color="rgb(23,193,27)"/><stop offset="0.1923" stop-color="rgb(29,196,24)"/><stop offset="0.2077" stop-color="rgb(36,198,22)"/><stop offset="0.2231" stop-color="rgb(44,202,18)"/><stop offset="0.2385" stop-color="rgb(62,209,11)"/><stop offset="0.2538" stop-color="rgb(137,226,4)"/><stop offset="0.2692" stop-color="rgb(209,242,0)"/><stop offset="0.2846" stop-color="rgb(252,250,0)"/><stop offset="0.3000" stop-color="rgb(254,200,0)"/><stop offset="0.3154" stop-color="rgb(255,165,0)"/><stop offset="0.3308" stop-color="rgb(255,141,0)"/><stop offset="0.3462" stop-color="rgb(254,115,0)"/><stop offset="0.3615" stop-color="rgb(253,97,0)"/><stop offset="0.3769" stop-color="rgb(253,87,0)"/><stop offset="0.3923" stop-color="rgb(253,86,0)"/><stop offset="0.4077" stop-color="rgb(253,97,0)"/><stop offset="0.4231" stop-color="rgb(255,140,0)"/><stop offset="0.4385" stop-color="rgb(254,187,0)"/><stop offset="0.4538" stop-color="rgb(252,234,0)"/><stop offset="0.4692" stop-color="rgb(218,243,0)"/><stop offset="0.4846" stop-color="rgb(134,226,4)"/><stop offset="0.5000" stop-color="rgb(61,208,12)"/><stop offset="0.5154" stop-color="rgb(29,196,24)"/><stop offset="0.5308" stop-color="rgb(17,170,61)"/><stop offset="0.5462" stop-color="rgb(19,140,107)"/><stop offset="0.5615" stop-color="rgb(22,119,141)"/><stop offset="0.5769" stop-color="rgb(26,108,159)"/><stop offset="0.5923" stop-color="rgb(28,102,169)"/><stop offset="0.6077" stop-color="rgb(29,99,175)"/><stop offset="0.6231" stop-color="rgb(30,96,179)"/><stop offset="0.6385" stop-color="rgb(30,94,185)"/><stop offset="0.6538" stop-color="rgb(31,91,189)"/><stop offset="0.6692" stop-color="rgb(32,89,193)"/><stop offset="0.6846" stop-color="rgb(33,87,195)"/><stop offset="0.7000" stop-color="rgb(33,87,196)"/><stop offset="0.7154" stop-color="rgb(33,86,198)"/><stop offset="0.7308" stop-color="rgb(33,85,199)"/><stop offset="0.7462" stop-color="rgb(34,84,200)"/><stop offset="0.7615" stop-color="rgb(34,84,201)"/><stop offset="0.7769" stop-color="rgb(34,83,202)"/><stop offset="0.7923" stop-color="rgb(34,83,203)"/><stop offset="0.8077" stop-color="rgb(34,82,204)"/><stop offset="0.8231" stop-color="rgb(35,81,206)"/><stop offset="0.8385" stop-color="rgb(35,80,207)"/><stop offset="0.8538" stop-color="rgb(35,80,208)"/><stop offset="0.8692" stop-color="rgb(35,80,208)"/><stop offset="0.8846" stop-color="rgb(35,80,208)"/><stop offset="0.9000" stop-color="rgb(35,80,208)"/><stop offset="0.9154" stop-color="rgb(35,80,208)"/><stop offset="0.9308" stop-color="rgb(35,80,208)"/><stop offset="0.9462" stop-color="rgb(35,80,208)"/><stop offset="0.9615" stop-color="rgb(35,80,208)"/><stop offset="0.9769" stop-color="rgb(35,80,208)"/><stop offset="0.9923" stop-color="rgb(35,80,208)"/></linearGradient><linearGradient id="g3" x1="0" y1="0" x2="0" y2="1"><stop offset="0.0077" stop-color="rgb(35,80,208)"/><stop offset="0.0231" stop-color="rgb(35,80,208)"/><stop offset="0.0385" stop-color="rgb(35,80,208)"/><stop offset="0.0538" stop-color="rgb(32,90,190)"/><stop offset="0.0692" stop-color="rgb(24,114,150)"/><stop offset="0.0846" stop-color="rgb(19,134,116)"/><stop offset="0.1000" stop-color="rgb(18,149,92)"/><stop offset="0.1154" stop-color="rgb(17,160,77)"/><stop offset="0.1308" stop-color="rgb(17,165,69)"/><stop offset="0.1462" stop-color="rgb(17,170,61)"/><stop offset="0.1615" stop-color="rgb(16,175,53)"/><stop offset="0.1769" stop-color="rgb(16,181,43)"/><stop offset="0.1923" stop-color="rgb(15,187,34)"/><stop offset="0.2077" stop-color="rgb(19,192,28)"/><stop offset="0.2231" stop-color="rgb(26,194,26)"/><stop offset="0.2385" stop-color="rgb(46,203,17)"/><stop offset="0.2538" stop-color="rgb(77,214,8)"/><stop offset="0.2692" stop-color="rgb(177,235,1)"/><stop offset="0.2846" stop-color="rgb(239,248,0)"/><stop offset="0.3000" stop-color="rgb(253,213,0)"/><stop offset="0.3154" stop-color="rgb(254,176,0)"/><stop offset="0.3308" stop-color="rgb(255,151,0)"/><stop offset="0.3462" stop-color="rgb(254,117,0)"/><stop offset="0.3615" stop-color="rgb(253,90,0)"/><stop offset="0.3769" stop-color="rgb(252,69,0)"/><stop offset="0.3923" stop-color="rgb(251,57,0)"/><stop offset="0.4077" stop-color="rgb(252,60,0)"/><stop offset="0.4231" stop-color="rgb(253,95,0)"/><stop offset="0.4385" stop-color="rgb(254,136,0)"/><stop offset="0.4538" stop-color="rgb(254,177,0)"/><stop offset="0.4692" stop-color="rgb(253,229,0)"/><stop offset="0.4846" stop-color="rgb(222,244,0)"/><stop offset="0.5000" stop-color="rgb(133,226,4)"/><stop offset="0.5154" stop-color="rgb(50,204,16)"/><stop offset="0.5308" stop-color="rgb(15,189,32)"/><stop offset="0.5462" stop-color="rgb(17,158,79)"/><stop offset="0.5615" stop-color="rgb(19,132,119)"/><stop offset="0.5769" stop-color="rgb(22,119,140)"/><stop offset="0.5923" stop-color="rgb(24,113,151)"/><stop offset="0.6077" stop-color="rgb(26,108,159)"/><stop offset="0.6231" stop-color="rgb(27,105,165)"/><stop offset="0.6385" stop-color="rgb(28,100,173)"/><stop offset="0.6538" stop-color="rgb(30,96,180)"/><stop offset="0.6692" stop-color="rgb(31,93,185)"/><stop offset="0.6846" stop-color="rgb(31,91,189)"/><stop offset="0.7000" stop-color="rgb(32,90,191)"/><stop offset="0.7154" stop-color="rgb(32,89,193)"/><stop offset="0.7308" stop-color="rgb(32,88,195)"/><stop offset="0.7462" stop-color="rgb(33,87,196)"/><stop offset="0.7615" stop-color="rgb(33,86,198)"/><stop offset="0.7769" stop-color="rgb(33,85,199)"/><stop offset="0.7923" stop-color="rgb(34,84,201)"/><stop offset="0.8077" stop-color="rgb(34,83,203)"/><stop offset="0.8231" stop-color="rgb(34,82,204)"/><stop offset="0.8385" stop-color="rgb(35,81,207)"/><stop offset="0.8538" stop-color="rgb(35,80,208)"/><stop offset="0.8692" stop-color="rgb(35,80,208)"/><stop offset="0.8846" stop-color="rgb(35,80,208)"/><stop offset="0.9000" stop-color="rgb(35,80,208)"/><stop offset="0.9154" stop-color="rgb(35,80,208)"/><stop offset="0.9308" stop-color="rgb(35,80,208)"/><stop offset="0.9462" stop-color="rgb(35,80,208)"/><stop offset="0.9615" stop-color="rgb(35,80,208)"/><stop offset="0.9769" stop-color="rgb(35,80,208)"/><stop offset="0.9923" stop-color="rgb(35,80,208)"/></linearGradient><linearGradient id="g4" x1="0" y1="0" x2="0" y2="1"><stop offset="0.0077" stop-color="rgb(35,80,208)"/><stop offset="0.0231" stop-color="rgb(35,80,208)"/><stop offset="0.0385" stop-color="rgb(35,80,208)"/><stop offset="0.0538" stop-color="rgb(32,89,192)"/><stop offset="0.0692" stop-color="rgb(25,109,158)"/><stop offset="0.0846" stop-color="rgb(20,124,132)"/><stop offset="0.1000" stop-color="rgb(19,137,112)"/><stop offset="0.1154" stop-color="rgb(18,145,99)"/><stop offset="0.1308" stop-color="rgb(18,150,92)"/><stop offset="0.1462" stop-color="rgb(18,154,85)"/><stop offset="0.1615" stop-color="rgb(17,159,78)"/><stop offset="0.1769" stop-color="rgb(17,164,70)"/><stop offset="0.1923" stop-color="rgb(17,169,62)"/><stop offset="0.2077" stop-color="rgb(16,175,53)"/><stop offset="0.2231" stop-color="rgb(16,182,43)"/><stop offset="0.2385" stop-color="rgb(31,196,24)"/><stop offset="0.2538" stop-color="rgb(59,208,12)"/><stop offset="0.2692" stop-color="rgb(134,226,4)"/><stop offset="0.2846" stop-color="rgb(226,245,0)"/><stop offset="0.3000" stop-color="rgb(253,227,0)"/><stop offset="0.3154" stop-color="rgb(254,187,0)"/><stop offset="0.3308" stop-color="rgb(255,160,0)"/><stop offset="0.3462" stop-color="rgb(254,119,0)"/><stop offset="0.3615" stop-color="rgb(252,82,0)"/><stop offset="0.3769" stop-color="rgb(251,51,0)"/><stop offset="0.3923" stop-color="rgb(250,29,0)"/><stop offset="0.4077" stop-color="rgb(250,22,0)"/><stop offset="0.4231" stop-color="rgb(251,50,0)"/><stop offset="0.4385" stop-color="rgb(252,85,0)"/><stop offset="0.4538" stop-color="rgb(254,120,0)"/><stop offset="0.4692" stop-color="rgb(255,163,0)"/><stop offset="0.4846" stop-color="rgb(253,221,0)"/><stop offset="0.5000" stop-color="rgb(219,244,0)"/><stop offset="0.5154" stop-color="rgb(70,212,8)"/><stop offset="0.5308" stop-color="rgb(31,196,24)"/><stop offset="0.5462" stop-color="rgb(16,176,51)"/><stop offset="0.5615" stop-color="rgb(18,148,94)"/><stop offset="0.5769" stop-color="rgb(19,132,119)"/><stop offset="0.5923" stop-color="rgb(21,123,134)"/><stop offset="0.6077" stop-color="rgb(22,118,142)"/><stop offset="0.6231" stop-color="rgb(24,113,151)"/><stop offset="0.6385" stop-color="rgb(26,107,161)"/><stop offset="0.6538" stop-color="rgb(28,102,170)"/><stop offset="0.6692" stop-color="rgb(29,98,177)"/><stop offset="0.6846" stop-color="rgb(30,95,182)"/><stop offset="0.7000" stop-color="rgb(31,93,185)"/><stop offset="0.7154" stop-color="rgb(31,92,187)"/><stop offset="0.7308" stop-color="rgb(32,90,190)"/><stop offset="0.7462" stop-color="rgb(32,89,192)"/><stop offset="0.7615" stop-color="rgb(32,88,194)"/><stop offset="0.7769" stop-color="rgb(33,87,197)"/><stop offset="0.7923" stop-color="rgb(33,85,199)"/><stop offset="0.8077" stop-color="rgb(34,84,201)"/><stop offset="0.8231" stop-color="rgb(34,83,203)"/><stop offset="0.8385" stop-color="rgb(35,81,206)"/><stop offset="0.8538" stop-color="rgb(35,80,208)"/><stop offset="0.8692" stop-color="rgb(35,80,208)"/><stop offset="0.8846" stop-color="rgb(35,80,208)"/><stop offset="0.9000" stop-color="rgb(35,80,208)"/><stop offset="0.9154" stop-color="rgb(35,80,208)"/><stop offset="0.9308" stop-color="rgb(35,80,208)"/><stop offset="0.9462" stop-color="rgb(35,80,208)"/><stop offset="0.9615" stop-color="rgb(35,80,208)"/><stop offset="0.9769" stop-color="rgb(35,80,208)"/><stop offset="0.9923" stop-color="rgb(35,80,208)"/></linearGradient><linearGradient id="g5" x1="0" y1="0" x2="0" y2="1"><stop offset="0.0077" stop-color="rgb(35,80,208)"/><stop offset="0.0231" stop-color="rgb(35,80,208)"/><stop offset="0.0385" stop-color="rgb(35,80,208)"/><stop offset="0.0538" stop-color="rgb(32,88,195)"/><stop offset="0.0692" stop-color="rgb(27,104,166)"/><stop offset="0.0846" stop-color="rgb(23,117,144)"/><stop offset="0.1000" stop-color="rgb(20,124,131)"/><stop offset="0.1154" stop-color="rgb(20,131,121)"/><stop offset="0.1308" stop-color="rgb(19,135,115)"/><stop offset="0.1462" stop-color="rgb(19,138,109)"/><stop offset="0.1615" stop-color="rgb(19,142,103)"/><stop offset="0.1769" stop-color="rgb(18,147,97)"/><stop offset="0.1923" stop-color="rgb(18,151,90)"/><stop offset="0.2077" stop-color="rgb(18,156,82)"/><stop offset="0.2231" stop-color="rgb(17,161,74)"/><stop offset="0.2385" stop-color="rgb(15,190,30)"/><stop offset="0.2538" stop-color="rgb(46,203,17)"/><stop offset="0.2692" stop-color="rgb(92,217,7)"/><stop offset="0.2846" stop-color="rgb(213,242,0)"/><stop offset="0.3000" stop-color="rgb(252,241,0)"/><stop offset="0.3154" stop-color="rgb(254,198,0)"/><stop offset="0.3308" stop-color="rgb(254,169,0)"/><stop offset="0.3462" stop-color="rgb(254,120,0)"/><stop offset="0.3615" stop-color="rgb(252,75,0)"/><stop offset="0.3769" stop-color="rgb(251,34,0)"/><stop offset="0.3923" stop-color="rgb(245,18,0)"/><stop offset="0.4077" stop-color="rgb(240,17,0)"/><stop offset="0.4231" stop-color="rgb(246,19,0)"/><stop offset="0.4385" stop-color="rgb(251,34,0)"/><stop offset="0.4538" stop-color="rgb(252,63,0)"/><stop offset="0.4692" stop-color="rgb(253,99,0)"/><stop offset="0.4846" stop-color="rgb(255,154,0)"/><stop offset="0.5000" stop-color="rgb(253,228,0)"/><stop offset="0.5154" stop-color="rgb(166,233,2)"/><stop offset="0.5308" stop-color="rgb(48,203,17)"/><stop offset="0.5462" stop-color="rgb(19,192,28)"/><stop offset="0.5615" stop-color="rgb(17,165,69)"/><stop offset="0.5769" stop-color="rgb(18,148,95)"/><stop offset="0.5923" stop-color="rgb(19,136,112)"/><stop offset="0.6077" stop-color="rgb(20,128,125)"/><stop offset="0.6231" stop-color="rgb(21,121,136)"/><stop offset="0.6385" stop-color="rgb(24,114,150)"/><stop offset="0.6538" stop-color="rgb(26,107,161)"/><stop offset="0.6692" stop-color="rgb(28,102,170)"/><stop offset="0.6846" stop-color="rgb(29,99,176)"/><stop offset="0.7000" stop-color="rgb(29,97,179)"/><stop offset="0.7154" stop-color="rgb(30,95,182)"/><stop offset="0.7308" stop-color="rgb(31,93,186)"/><stop offset="0.7462" stop-color="rgb(31,91,188)"/><stop offset="0.7615" stop-color="rgb(32,90,191)"/><stop offset="0.7769" stop-color="rgb(32,88,194)"/><stop offset="0.7923" stop-color="rgb(33,87,196)"/><stop offset="0.8077" stop-color="rgb(33,85,199)"/><stop offset="0.8231" stop-color="rgb(34,83,202)"/><stop offset="0.8385" stop-color="rgb(35,81,206)"/><stop offset="0.8538" stop-color="rgb(35,80,208)"/><stop offset="0.8692" stop-color="rgb(35,80,208)"/><stop offset="0.8846" stop-color="rgb(35,80,208)"/><stop offset="0.9000" stop-color="rgb(35,80,208)"/><stop offset="0.9154" stop-color="rgb(35,80,208)"/><stop offset="0.9308" stop-color="rgb(35,80,208)"/><stop offset="0.9462" stop-color="rgb(35,80,208)"/><stop offset="0.9615" stop-color="rgb(35,80,208)"/><stop offset="0.9769" stop-color="rgb(35,80,208)"/><stop offset="0.9923" stop-color="rgb(35,80,208)"/></linearGradient><linearGradient id="g6" x1="0" y1="0" x2="0" y2="1"><stop offset="0.0077" stop-color="rgb(35,80,208)"/><stop offset="0.0231" stop-color="rgb(35,80,208)"/><stop offset="0.0385" stop-color="rgb(35,80,208)"/><stop offset="0.0538" stop-color="rgb(33,86,198)"/><stop offset="0.0692" stop-color="rgb(29,99,175)"/><stop offset="0.0846" stop-color="rgb(25,109,157)"/><stop offset="0.1000" stop-color="rgb(23,115,147)"/><stop offset="0.1154" stop-color="rgb(22,119,140)"/><stop offset="0.1308" stop-color="rgb(21,121,136)"/><stop offset="0.1462" stop-color="rgb(21,123,133)"/><stop offset="0.1615" stop-color="rgb(20,126,129)"/><stop offset="0.1769" stop-color="rgb(20,129,123)"/><stop offset="0.1923" stop-color="rgb(19,133,118)"/><stop offset="0.2077" stop-color="rgb(19,137,112)"/><stop offset="0.2231" stop-color="rgb(19,141,105)"/><stop offset="0.2385" stop-color="rgb(16,173,57)"/><stop offset="0.2538" stop-color="rgb(34,198,22)"/><stop offset="0.2692" stop-color="rgb(66,210,10)"/><stop offset="0.2846" stop-color="rgb(200,240,0)"/><stop offset="0.3000" stop-color="rgb(249,249,0)"/><stop offset="0.3154" stop-color="rgb(253,209,0)"/><stop offset="0.3308" stop-color="rgb(254,179,0)"/><stop offset="0.3462" stop-color="rgb(254,122,0)"/><stop offset="0.3615" stop-color="rgb(252,68,0)"/><stop offset="0.3769" stop-color="rgb(249,20,0)"/><stop offset="0.3923" stop-color="rgb(237,16,0)"/><stop offset="0.4077" stop-color="rgb(230,14,0)"/><stop offset="0.4231" stop-color="rgb(234,15,0)"/><stop offset="0.4385" stop-color="rgb(240,17,0)"/><stop offset="0.4538" stop-color="rgb(246,19,0)"/><stop offset="0.4692" stop-color="rgb(251,36,0)"/><stop offset="0.4846" stop-color="rgb(253,88,0)"/><stop offset="0.5000" stop-color="rgb(255,163,0)"/><stop offset="0.5154" stop-color="rgb(229,246,0)"/><stop offset="0.5308" stop-color="rgb(65,210,10)"/><stop offset="0.5462" stop-color="rgb(35,198,22)"/><stop offset="0.5615" stop-color="rgb(16,181,44)"/><stop offset="0.5769" stop-color="rgb(17,164,71)"/><stop offset="0.5923" stop-color="rgb(18,151,90)"/><stop offset="0.6077" stop-color="rgb(19,142,104)"/><stop offset="0.6231" stop-color="rgb(20,132,120)"/><stop offset="0.6385" stop-color="rgb(22,120,138)"/><stop offset="0.6538" stop-color="rgb(24,113,151)"/><stop offset="0.6692" stop-color="rgb(26,107,162)"/><stop offset="0.6846" stop-color="rgb(28,102,169)"/><stop offset="0.7000" stop-color="rgb(28,100,173)"/><stop offset="0.7154" stop-color="rgb(29,98,177)"/><stop offset="0.7308" stop-color="rgb(30,96,181)"/><stop offset="0.7462" stop-color="rgb(30,94,185)"/><stop offset="0.7615" stop-color="rgb(31,92,188)"/><stop offset="0.7769" stop-color="rgb(32,90,191)"/><stop offset="0.7923" stop-color="rgb(32,88,194)"/><stop offset="0.8077" stop-color="rgb(33,86,197)"/><stop offset="0.8231" stop-color="rgb(34,84,201)"/><stop offset="0.8385" stop-color="rgb(35,81,206)"/><stop offset="0.8538" stop-color="rgb(35,80,208)"/><stop offset="0.8692" stop-color="rgb(35,80,208)"/><stop offset="0.8846" stop-color="rgb(35,80,208)"/><stop offset="0.9000" stop-color="rgb(35,80,208)"/><stop offset="0.9154" stop-color="rgb(35,80,208)"/><stop offset="0.9308" stop-color="rgb(35,80,208)"/><stop offset="0.9462" stop-color="rgb(35,80,208)"/><stop offset="0.9615" stop-color="rgb(35,80,208)"/><stop offset="0.9769" stop-color="rgb(35,80,208)"/><stop offset="0.9923" stop-color="rgb(35,80,208)"/></linearGradient><linearGradient id="g7" x1="0" y1="0" x2="0" y2="1"><stop offset="0.0077" stop-color="rgb(35,80,208)"/><stop offset="0.0231" stop-color="rgb(35,80,208)"/><stop offset="0.0385" stop-color="rgb(35,80,208)"/><stop offset="0.0538" stop-color="rgb(34,84,200)"/><stop offset="0.0692" stop-color="rgb(30,94,183)"/><stop offset="0.0846" stop-color="rgb(28,102,170)"/><stop offset="0.1000" stop-color="rgb(26,107,162)"/><stop offset="0.1154" stop-color="rgb(25,110,157)"/><stop offset="0.1308" stop-color="rgb(25,111,154)"/><stop offset="0.1462" stop-color="rgb(24,113,152)"/><stop offset="0.1615" stop-color="rgb(24,114,149)"/><stop offset="0.1769" stop-color="rgb(23,116,146)"/><stop offset="0.1923" stop-color="rgb(22,118,142)"/><stop offset="0.2077" stop-color="rgb(22,120,139)"/><stop offset="0.2231" stop-color="rgb(21,122,135)"/><stop offset="0.2385" stop-color="rgb(18,155,83)"/><stop offset="0.2538" stop-color="rgb(21,193,27)"/><stop offset="0.2692" stop-color="rgb(57,207,13)"/><stop offset="0.2846" stop-color="rgb(172,234,2)"/><stop offset="0.3000" stop-color="rgb(238,247,0)"/><stop offset="0.3154" stop-color="rgb(253,220,0)"/><stop offset="0.3308" stop-color="rgb(254,188,0)"/><stop offset="0.3462" stop-color="rgb(254,123,0)"/><stop offset="0.3615" stop-color="rgb(252,60,0)"/><stop offset="0.3769" stop-color="rgb(244,18,0)"/><stop offset="0.3923" stop-color="rgb(229,14,0)"/><stop offset="0.4077" stop-color="rgb(220,11,0)"/><stop offset="0.4231" stop-color="rgb(222,11,0)"/><stop offset="0.4385" stop-color="rgb(226,13,0)"/><stop offset="0.4538" stop-color="rgb(231,14,0)"/><stop offset="0.4692" stop-color="rgb(237,16,0)"/><stop offset="0.4846" stop-color="rgb(250,22,0)"/><stop offset="0.5000" stop-color="rgb(253,100,0)"/><stop offset="0.5154" stop-color="rgb(253,222,0)"/><stop offset="0.5308" stop-color="rgb(126,224,5)"/><stop offset="0.5462" stop-color="rgb(52,205,15)"/><stop offset="0.5615" stop-color="rgb(22,193,27)"/><stop offset="0.5769" stop-color="rgb(16,179,47)"/><stop offset="0.5923" stop-color="rgb(17,166,68)"/><stop offset="0.6077" stop-color="rgb(18,156,83)"/><stop offset="0.6231" stop-color="rgb(19,143,102)"/><stop offset="0.6385" stop-color="rgb(20,128,125)"/><stop offset="0.6538" stop-color="rgb(22,118,142)"/><stop offset="0.6692" stop-color="rgb(25,111,154)"/><stop offset="0.6846" stop-color="rgb(26,106,163)"/><stop offset="0.7000" stop-color="rgb(27,103,168)"/><stop offset="0.7154" stop-color="rgb(28,101,172)"/><stop offset="0.7308" stop-color="rgb(29,98,177)"/><stop offset="0.7462" stop-color="rgb(30,96,181)"/><stop offset="0.7615" stop-color="rgb(30,94,184)"/><stop offset="0.7769" stop-color="rgb(31,92,188)"/><stop offset="0.7923" stop-color="rgb(32,89,192)"/><stop offset="0.8077" stop-color="rgb(33,87,195)"/><stop offset="0.8231" stop-color="rgb(33,85,200)"/><stop offset="0.8385" stop-color="rgb(34,82,205)"/><stop offset="0.8538" stop-color="rgb(35,80,208)"/><stop offset="0.8692" stop-color="rgb(35,80,208)"/><stop offset="0.8846" stop-color="rgb(35,80,208)"/><stop offset="0.9000" stop-color="rgb(35,80,208)"/><stop offset="0.9154" stop-color="rgb(35,80,208)"/><stop offset="0.9308" stop-color="rgb(35,80,208)"/><stop offset="0.9462" stop-color="rgb(35,80,208)"/><stop offset="0.9615" stop-color="rgb(35,80,208)"/><stop offset="0.9769" stop-color="rgb(35,80,208)"/><stop offset="0.9923" stop-color="rgb(35,80,208)"/></linearGradient><linearGradient id="g8" x1="0" y1="0" x2="0" y2="1"><stop offset="0.0077" stop-color="rgb(35,80,208)"/><stop offset="0.0231" stop-color="rgb(35,80,208)"/><stop offset="0.0385" stop-color="rgb(35,80,208)"/><stop offset="0.0538" stop-color="rgb(34,83,203)"/><stop offset="0.0692" stop-color="rgb(32,90,191)"/><stop offset="0.0846" stop-color="rgb(30,95,183)"/><stop offset="0.1000" stop-color="rgb(29,98,177)"/><stop offset="0.1154" stop-color="rgb(28,100,174)"/><stop offset="0.1308" stop-color="rgb(28,101,172)"/><stop offset="0.1462" stop-color="rgb(28,102,170)"/><stop offset="0.1615" stop-color="rgb(27,103,168)"/><stop offset="0.1769" stop-color="rgb(27,104,166)"/><stop offset="0.1923" stop-color="rgb(27,105,164)"/><stop offset="0.2077" stop-color="rgb(26,107,162)"/><stop offset="0.2231" stop-color="rgb(26,108,159)"/><stop offset="0.2385" stop-color="rgb(19,138,110)"/><stop offset="0.2538" stop-color="rgb(16,183,41)"/><stop offset="0.2692" stop-color="rgb(47,203,17)"/><stop offset="0.2846" stop-color="rgb(144,228,3)"/><stop offset="0.3000" stop-color="rgb(227,245,0)"/><stop offset="0.3154" stop-color="rgb(253,231,0)"/><stop offset="0.3308" stop-color="rgb(254,198,0)"/><stop offset="0.3462" stop-color="rgb(254,125,0)"/><stop offset="0.3615" stop-color="rgb(251,53,0)"/><stop offset="0.3769" stop-color="rgb(239,17,0)"/><stop offset="0.3923" stop-color="rgb(221,11,0)"/><stop offset="0.4077" stop-color="rgb(210,8,0)"/><stop offset="0.4231" stop-color="rgb(209,8,0)"/><stop offset="0.4385" stop-color="rgb(213,8,0)"/><stop offset="0.4538" stop-color="rgb(216,9,0)"/><stop offset="0.4692" stop-color="rgb(220,11,0)"/><stop offset="0.4846" stop-color="rgb(233,15,0)"/><stop offset="0.5000" stop-color="rgb(251,37,0)"/><stop offset="0.5154" stop-color="rgb(255,165,0)"/><stop offset="0.5308" stop-color="rgb(203,241,0)"/><stop offset="0.5462" stop-color="rgb(68,211,9)"/><stop offset="0.5615" stop-color="rgb(36,199,21)"/><stop offset="0.5769" stop-color="rgb(19,192,28)"/><stop offset="0.5923" stop-color="rgb(16,180,45)"/><stop offset="0.6077" stop-color="rgb(17,169,62)"/><stop offset="0.6231" stop-color="rgb(18,155,83)"/><stop offset="0.6385" stop-color="rgb(19,138,110)"/><stop offset="0.6538" stop-color="rgb(20,124,132)"/><stop offset="0.6692" stop-color="rgb(23,115,147)"/><stop offset="0.6846" stop-color="rgb(25,110,157)"/><stop offset="0.7000" stop-color="rgb(26,107,162)"/><stop offset="0.7154" stop-color="rgb(27,104,167)"/><stop offset="0.7308" stop-color="rgb(28,101,172)"/><stop offset="0.7462" stop-color="rgb(29,98,177)"/><stop offset="0.7615" stop-color="rgb(30,96,181)"/><stop offset="0.7769" stop-color="rgb(31,93,185)"/><stop offset="0.7923" stop-color="rgb(31,91,189)"/><stop offset="0.8077" stop-color="rgb(32,88,193)"/><stop offset="0.8231" stop-color="rgb(33,85,199)"/><stop offset="0.8385" stop-color="rgb(34,82,205)"/><stop offset="0.8538" stop-color="rgb(35,80,208)"/><stop offset="0.8692" stop-color="rgb(35,80,208)"/><stop offset="0.8846" stop-color="rgb(35,80,208)"/><stop offset="0.9000" stop-color="rgb(35,80,208)"/><stop offset="0.9154" stop-color="rgb(35,80,208)"/><stop offset="0.9308" stop-color="rgb(35,80,208)"/><stop offset="0.9462" stop-color="rgb(35,80,208)"/><stop offset="0.9615" stop-color="rgb(35,80,208)"/><stop offset="0.9769" stop-color="rgb(35,80,208)"/><stop offset="0.9923" stop-color="rgb(35,80,208)"/></linearGradient><linearGradient id="g9" x1="0" y1="0" x2="0" y2="1"><stop offset="0.0077" stop-color="rgb(35,80,208)"/><stop offset="0.0231" stop-color="rgb(35,80,208)"/><stop offset="0.0385" stop-color="rgb(35,80,208)"/><stop offset="0.0538" stop-color="rgb(34,82,205)"/><stop offset="0.0692" stop-color="rgb(33,85,200)"/><stop offset="0.0846" stop-color="rgb(33,87,195)"/><stop offset="0.1000" stop-color="rgb(32,89,193)"/><stop offset="0.1154" stop-color="rgb(32,90,191)"/><stop offset="0.1308" stop-color="rgb(32,90,190)"/><stop offset="0.1462" stop-color="rgb(31,91,189)"/><stop offset="0.1615" stop-color="rgb(31,91,188)"/><stop offset="0.1769" stop-color="rgb(31,92,187)"/><stop offset="0.1923" stop-color="rgb(31,93,186)"/><stop offset="0.2077" stop-color="rgb(31,93,185)"/><stop offset="0.2231" stop-color="rgb(30,94,184)"/><stop offset="0.2385" stop-color="rgb(21,122,135)"/><stop offset="0.2538" stop-color="rgb(17,169,62)"/><stop offset="0.2692" stop-color="rgb(38,199,21)"/><stop offset="0.2846" stop-color="rgb(116,222,5)"/><stop offset="0.3000" stop-color="rgb(216,243,0)"/><stop offset="0.3154" stop-color="rgb(252,243,0)"/><stop offset="0.3308" stop-color="rgb(253,207,0)"/><stop offset="0.3462" stop-color="rgb(254,127,0)"/><stop offset="0.3615" stop-color="rgb(251,45,0)"/><stop offset="0.3769" stop-color="rgb(234,15,0)"/><stop offset="0.3923" stop-color="rgb(213,9,0)"/><stop offset="0.4077" stop-color="rgb(200,4,0)"/><stop offset="0.4231" stop-color="rgb(197,4,0)"/><stop offset="0.4385" stop-color="rgb(199,4,0)"/><stop offset="0.4538" stop-color="rgb(200,5,0)"/><stop offset="0.4692" stop-color="rgb(202,5,0)"/><stop offset="0.4846" stop-color="rgb(215,9,0)"/><stop offset="0.5000" stop-color="rgb(238,16,0)"/><stop offset="0.5154" stop-color="rgb(253,108,0)"/><stop offset="0.5308" stop-color="rgb(240,248,0)"/><stop offset="0.5462" stop-color="rgb(141,227,4)"/><stop offset="0.5615" stop-color="rgb(51,205,15)"/><stop offset="0.5769" stop-color="rgb(34,197,23)"/><stop offset="0.5923" stop-color="rgb(19,192,28)"/><stop offset="0.6077" stop-color="rgb(16,183,41)"/><stop offset="0.6231" stop-color="rgb(17,167,65)"/><stop offset="0.6385" stop-color="rgb(18,148,95)"/><stop offset="0.6538" stop-color="rgb(20,131,121)"/><stop offset="0.6692" stop-color="rgb(22,120,139)"/><stop offset="0.6846" stop-color="rgb(24,113,150)"/><stop offset="0.7000" stop-color="rgb(25,110,156)"/><stop offset="0.7154" stop-color="rgb(26,107,162)"/><stop offset="0.7308" stop-color="rgb(27,103,168)"/><stop offset="0.7462" stop-color="rgb(28,100,173)"/><stop offset="0.7615" stop-color="rgb(29,98,178)"/><stop offset="0.7769" stop-color="rgb(30,95,182)"/><stop offset="0.7923" stop-color="rgb(31,92,187)"/><stop offset="0.8077" stop-color="rgb(32,89,192)"/><stop offset="0.8231" stop-color="rgb(33,86,197)"/><stop offset="0.8385" stop-color="rgb(34,82,204)"/><stop offset="0.8538" stop-color="rgb(35,80,208)"/><stop offset="0.8692" stop-color="rgb(35,80,208)"/><stop offset="0.8846" stop-color="rgb(35,80,208)"/><stop offset="0.9000" stop-color="rgb(35,80,208)"/><stop offset="0.9154" stop-color="rgb(35,80,208)"/><stop offset="0.9308" stop-color="rgb(35,80,208)"/><stop offset="0.9462" stop-color="rgb(35,80,208)"/><stop offset="0.9615" stop-color="rgb(35,80,208)"/><stop offset="0.9769" stop-color="rgb(35,80,208)"/><stop offset="0.9923" stop-color="rgb(35,80,208)"/></linearGradient><linearGradient id="g10" x1="0" y1="0" x2="0" y2="1"><stop offset="0.0077" stop-color="rgb(35,80,208)"/><stop offset="0.0231" stop-color="rgb(35,80,208)"/><stop offset="0.0385" stop-color="rgb(35,80,208)"/><stop offset="0.0538" stop-color="rgb(35,80,208)"/><stop offset="0.0692" stop-color="rgb(35,80,208)"/><stop offset="0.0846" stop-color="rgb(35,80,208)"/><stop offset="0.1000" stop-color="rgb(35,80,208)"/><stop offset="0.1154" stop-color="rgb(35,80,208)"/><stop offset="0.1308" stop-color="rgb(35,80,208)"/><stop offset="0.1462" stop-color="rgb(35,80,208)"/><stop offset="0.1615" stop-color="rgb(35,80,208)"/><stop offset="0.1769" stop-color="rgb(35,80,208)"/><stop offset="0.1923" stop-color="rgb(35,80,208)"/><stop offset="0.2077" stop-color="rgb(35,80,208)"/><stop offset="0.2231" stop-color="rgb(35,80,208)"/><stop offset="0.2385" stop-color="rgb(25,110,156)"/><stop offset="0.2538" stop-color="rgb(18,155,83)"/><stop offset="0.2692" stop-color="rgb(29,196,24)"/><stop offset="0.2846" stop-color="rgb(89,216,7)"/><stop offset="0.3000" stop-color="rgb(206,241,0)"/><stop offset="0.3154" stop-color="rgb(249,249,0)"/><stop offset="0.3308" stop-color="rgb(253,217,0)"/><stop offset="0.3462" stop-color="rgb(254,128,0)"/><stop offset="0.3615" stop-color="rgb(251,38,0)"/><stop offset="0.3769" stop-color="rgb(229,14,0)"/><stop offset="0.3923" stop-color="rgb(206,6,0)"/><stop offset="0.4077" stop-color="rgb(189,1,0)"/><stop offset="0.4231" stop-color="rgb(185,0,0)"/><stop offset="0.4385" stop-color="rgb(185,0,0)"/><stop offset="0.4538" stop-color="rgb(185,0,0)"/><stop offset="0.4692" stop-color="rgb(185,0,0)"/><stop offset="0.4846" stop-color="rgb(197,4,0)"/><stop offset="0.5000" stop-color="rgb(220,11,0)"/><stop offset="0.5154" stop-color="rgb(251,53,0)"/><stop offset="0.5308" stop-color="rgb(253,217,0)"/><stop offset="0.5462" stop-color="rgb(209,242,0)"/><stop offset="0.5615" stop-color="rgb(66,210,10)"/><stop offset="0.5769" stop-color="rgb(48,203,17)"/><stop offset="0.5923" stop-color="rgb(33,197,23)"/><stop offset="0.6077" stop-color="rgb(21,192,28)"/><stop offset="0.6231" stop-color="rgb(16,179,47)"/><stop offset="0.6385" stop-color="rgb(18,158,80)"/><stop offset="0.6538" stop-color="rgb(19,139,108)"/><stop offset="0.6692" stop-color="rgb(20,124,131)"/><stop offset="0.6846" stop-color="rgb(23,117,144)"/><stop offset="0.7000" stop-color="rgb(24,113,150)"/><stop offset="0.7154" stop-color="rgb(25,110,157)"/><stop offset="0.7308" stop-color="rgb(26,106,163)"/><stop offset="0.7462" stop-color="rgb(28,102,169)"/><stop offset="0.7615" stop-color="rgb(28,100,174)"/><stop offset="0.7769" stop-color="rgb(30,96,179)"/><stop offset="0.7923" stop-color="rgb(30,94,185)"/><stop offset="0.8077" stop-color="rgb(32,90,190)"/><stop offset="0.8231" stop-color="rgb(33,87,196)"/><stop offset="0.8385" stop-color="rgb(34,82,204)"/><stop offset="0.8538" stop-color="rgb(35,80,208)"/><stop offset="0.8692" stop-color="rgb(35,80,208)"/><stop offset="0.8846" stop-color="rgb(35,80,208)"/><stop offset="0.9000" stop-color="rgb(35,80,208)"/><stop offset="0.9154" stop-color="rgb(35,80,208)"/><stop offset="0.9308" stop-color="rgb(35,80,208)"/><stop offset="0.9462" stop-color="rgb(35,80,208)"/><stop offset="0.9615" stop-color="rgb(35,80,208)"/><stop offset="0.9769" stop-color="rgb(35,80,208)"/><stop offset="0.9923" stop-color="rgb(35,80,208)"/></linearGradient><linearGradient id="g11" x1="0" y1="0" x2="0" y2="1"><stop offset="0.0077" stop-color="rgb(35,80,208)"/><stop offset="0.0231" stop-color="rgb(35,80,208)"/><stop offset="0.0385" stop-color="rgb(35,80,208)"/><stop offset="0.0538" stop-color="rgb(34,82,205)"/><stop offset="0.0692" stop-color="rgb(33,85,200)"/><stop offset="0.0846" stop-color="rgb(33,87,195)"/><stop offset="0.1000" stop-color="rgb(32,89,193)"/><stop offset="0.1154" stop-color="rgb(32,90,191)"/><stop offset="0.1308" stop-color="rgb(32,90,190)"/><stop offset="0.1462" stop-color="rgb(31,91,189)"/><stop offset="0.1615" stop-color="rgb(31,91,188)"/><stop offset="0.1769" stop-color="rgb(31,92,187)"/><stop offset="0.1923" stop-color="rgb(31,93,186)"/><stop offset="0.2077" stop-color="rgb(31,93,185)"/><stop offset="0.2231" stop-color="rgb(30,94,184)"/><stop offset="0.2385" stop-color="rgb(21,122,135)"/><stop offset="0.2538" stop-color="rgb(17,169,62)"/><stop offset="0.2692" stop-color="rgb(38,199,21)"/><stop offset="0.2846" stop-color="rgb(116,222,5)"/><stop offset="0.3000" stop-color="rgb(216,243,0)"/><stop offset="0.3154" stop-color="rgb(252,243,0)"/><stop offset="0.3308" stop-color="rgb(253,207,0)"/><stop offset="0.3462" stop-color="rgb(254,127,0)"/><stop offset="0.3615" stop-color="rgb(251,45,0)"/><stop offset="0.3769" stop-color="rgb(234,15,0)"/><stop offset="0.3923" stop-color="rgb(213,9,0)"/><stop offset="0.4077" stop-color="rgb(200,4,0)"/><stop offset="0.4231" stop-color="rgb(197,4,0)"/><stop offset="0.4385" stop-color="rgb(199,4,0)"/><stop offset="0.4538" stop-color="rgb(200,5,0)"/><stop offset="0.4692" stop-color="rgb(202,5,0)"/><stop offset="0.4846" stop-color="rgb(215,9,0)"/><stop offset="0.5000" stop-color="rgb(238,16,0)"/><stop offset="0.5154" stop-color="rgb(253,108,0)"/><stop offset="0.5308" stop-color="rgb(240,248,0)"/><stop offset="0.5462" stop-color="rgb(141,227,4)"/><stop offset="0.5615" stop-color="rgb(51,205,15)"/><stop offset="0.5769" stop-color="rgb(34,197,23)"/><stop offset="0.5923" stop-color="rgb(19,192,28)"/><stop offset="0.6077" stop-color="rgb(16,183,41)"/><stop offset="0.6231" stop-color="rgb(17,167,65)"/><stop offset="0.6385" stop-color="rgb(18,148,95)"/><stop offset="0.6538" stop-color="rgb(20,131,121)"/><stop offset="0.6692" stop-color="rgb(22,120,139)"/><stop offset="0.6846" stop-color="rgb(24,113,150)"/><stop offset="0.7000" stop-color="rgb(25,110,156)"/><stop offset="0.7154" stop-color="rgb(26,107,162)"/><stop offset="0.7308" stop-color="rgb(27,103,168)"/><stop offset="0.7462" stop-color="rgb(28,100,173)"/><stop offset="0.7615" stop-color="rgb(29,98,178)"/><stop offset="0.7769" stop-color="rgb(30,95,182)"/><stop offset="0.7923" stop-color="rgb(31,92,187)"/><stop offset="0.8077" stop-color="rgb(32,89,192)"/><stop offset="0.8231" stop-color="rgb(33,86,197)"/><stop offset="0.8385" stop-color="rgb(34,82,204)"/><stop offset="0.8538" stop-color="rgb(35,80,208)"/><stop offset="0.8692" stop-color="rgb(35,80,208)"/><stop offset="0.8846" stop-color="rgb(35,80,208)"/><stop offset="0.9000" stop-color="rgb(35,80,208)"/><stop offset="0.9154" stop-color="rgb(35,80,208)"/><stop offset="0.9308" stop-color="rgb(35,80,208)"/><stop offset="0.9462" stop-color="rgb(35,80,208)"/><stop offset="0.9615" stop-color="rgb(35,80,208)"/><stop offset="0.9769" stop-color="rgb(35,80,208)"/><stop offset="0.9923" stop-color="rgb(35,80,208)"/></linearGradient><linearGradient id="g12" x1="0" y1="0" x2="0" y2="1"><stop offset="0.0077" stop-color="rgb(35,80,208)"/><stop offset="0.0231" stop-color="rgb(35,80,208)"/><stop offset="0.0385" stop-color="rgb(35,80,208)"/><stop offset="0.0538" stop-color="rgb(34,83,203)"/><stop offset="0.0692" stop-color="rgb(32,90,191)"/><stop offset="0.0846" stop-color="rgb(30,95,183)"/><stop offset="0.1000" stop-color="rgb(29,98,177)"/><stop offset="0.1154" stop-color="rgb(28,100,174)"/><stop offset="0.1308" stop-color="rgb(28,101,172)"/><stop offset="0.1462" stop-color="rgb(28,102,170)"/><stop offset="0.1615" stop-color="rgb(27,103,168)"/><stop offset="0.1769" stop-color="rgb(27,104,166)"/><stop offset="0.1923" stop-color="rgb(27,105,164)"/><stop offset="0.2077" stop-color="rgb(26,107,162)"/><stop offset="0.2231" stop-color="rgb(26,108,159)"/><stop offset="0.2385" stop-color="rgb(19,138,110)"/><stop offset="0.2538" stop-color="rgb(16,183,41)"/><stop offset="0.2692" stop-color="rgb(47,203,17)"/><stop offset="0.2846" stop-color="rgb(144,228,3)"/><stop offset="0.3000" stop-color="rgb(227,245,0)"/><stop offset="0.3154" stop-color="rgb(253,231,0)"/><stop offset="0.3308" stop-color="rgb(254,198,0)"/><stop offset="0.3462" stop-color="rgb(254,125,0)"/><stop offset="0.3615" stop-color="rgb(251,53,0)"/><stop offset="0.3769" stop-color="rgb(239,17,0)"/><stop offset="0.3923" stop-color="rgb(221,11,0)"/><stop offset="0.4077" stop-color="rgb(210,8,0)"/><stop offset="0.4231" stop-color="rgb(209,8,0)"/><stop offset="0.4385" stop-color="rgb(213,8,0)"/><stop offset="0.4538" stop-color="rgb(216,9,0)"/><stop offset="0.4692" stop-color="rgb(220,11,0)"/><stop offset="0.4846" stop-color="rgb(233,15,0)"/><stop offset="0.5000" stop-color="rgb(251,37,0)"/><stop offset="0.5154" stop-color="rgb(255,165,0)"/><stop offset="0.5308" stop-color="rgb(203,241,0)"/><stop offset="0.5462" stop-color="rgb(68,211,9)"/><stop offset="0.5615" stop-color="rgb(36,199,21)"/><stop offset="0.5769" stop-color="rgb(19,192,28)"/><stop offset="0.5923" stop-color="rgb(16,180,45)"/><stop offset="0.6077" stop-color="rgb(17,169,62)"/><stop offset="0.6231" stop-color="rgb(18,155,83)"/><stop offset="0.6385" stop-color="rgb(19,138,110)"/><stop offset="0.6538" stop-color="rgb(20,124,132)"/><stop offset="0.6692" stop-color="rgb(23,115,147)"/><stop offset="0.6846" stop-color="rgb(25,110,157)"/><stop offset="0.7000" stop-color="rgb(26,107,162)"/><stop offset="0.7154" stop-color="rgb(27,104,167)"/><stop offset="0.7308" stop-color="rgb(28,101,172)"/><stop offset="0.7462" stop-color="rgb(29,98,177)"/><stop offset="0.7615" stop-color="rgb(30,96,181)"/><stop offset="0.7769" stop-color="rgb(31,93,185)"/><stop offset="0.7923" stop-color="rgb(31,91,189)"/><stop offset="0.8077" stop-color="rgb(32,88,193)"/><stop offset="0.8231" stop-color="rgb(33,85,199)"/><stop offset="0.8385" stop-color="rgb(34,82,205)"/><stop offset="0.8538" stop-color="rgb(35,80,208)"/><stop offset="0.8692" stop-color="rgb(35,80,208)"/><stop offset="0.8846" stop-color="rgb(35,80,208)"/><stop offset="0.9000" stop-color="rgb(35,80,208)"/><stop offset="0.9154" stop-color="rgb(35,80,208)"/><stop offset="0.9308" stop-color="rgb(35,80,208)"/><stop offset="0.9462" stop-color="rgb(35,80,208)"/><stop offset="0.9615" stop-color="rgb(35,80,208)"/><stop offset="0.9769" stop-color="rgb(35,80,208)"/><stop offset="0.9923" stop-color="rgb(35,80,208)"/></linearGradient><linearGradient id="g13" x1="0" y1="0" x2="0" y2="1"><stop offset="0.0077" stop-color="rgb(35,80,208)"/><stop offset="0.0231" stop-color="rgb(35,80,208)"/><stop offset="0.0385" stop-color="rgb(35,80,208)"/><stop offset="0.0538" stop-color="rgb(34,84,200)"/><stop offset="0.0692" stop-color="rgb(30,94,183)"/><stop offset="0.0846" stop-color="rgb(28,102,170)"/><stop offset="0.1000" stop-color="rgb(26,107,162)"/><stop offset="0.1154" stop-color="rgb(25,110,157)"/><stop offset="0.1308" stop-color="rgb(25,111,154)"/><stop offset="0.1462" stop-color="rgb(24,113,152)"/><stop offset="0.1615" stop-color="rgb(24,114,149)"/><stop offset="0.1769" stop-color="rgb(23,116,146)"/><stop offset="0.1923" stop-color="rgb(22,118,142)"/><stop offset="0.2077" stop-color="rgb(22,120,139)"/><stop offset="0.2231" stop-color="rgb(21,122,135)"/><stop offset="0.2385" stop-color="rgb(18,155,83)"/><stop offset="0.2538" stop-color="rgb(21,193,27)"/><stop offset="0.2692" stop-color="rgb(57,207,13)"/><stop offset="0.2846" stop-color="rgb(172,234,2)"/><stop offset="0.3000" stop-color="rgb(238,247,0)"/><stop offset="0.3154" stop-color="rgb(253,220,0)"/><stop offset="0.3308" stop-color="rgb(254,188,0)"/><stop offset="0.3462" stop-color="rgb(254,123,0)"/><stop offset="0.3615" stop-color="rgb(252,60,0)"/><stop offset="0.3769" stop-color="rgb(244,18,0)"/><stop offset="0.3923" stop-color="rgb(229,14,0)"/><stop offset="0.4077" stop-color="rgb(220,11,0)"/><stop offset="0.4231" stop-color="rgb(222,11,0)"/><stop offset="0.4385" stop-color="rgb(226,13,0)"/><stop offset="0.4538" stop-color="rgb(231,14,0)"/><stop offset="0.4692" stop-color="rgb(237,16,0)"/><stop offset="0.4846" stop-color="rgb(250,22,0)"/><stop offset="0.5000" stop-color="rgb(253,100,0)"/><stop offset="0.5154" stop-color="rgb(253,222,0)"/><stop offset="0.5308" stop-color="rgb(126,224,5)"/><stop offset="0.5462" stop-color="rgb(52,205,15)"/><stop offset="0.5615" stop-color="rgb(22,193,27)"/><stop offset="0.5769" stop-color="rgb(16,179,47)"/><stop offset="0.5923" stop-color="rgb(17,166,68)"/><stop offset="0.6077" stop-color="rgb(18,156,83)"/><stop offset="0.6231" stop-color="rgb(19,143,102)"/><stop offset="0.6385" stop-color="rgb(20,128,125)"/><stop offset="0.6538" stop-color="rgb(22,118,142)"/><stop offset="0.6692" stop-color="rgb(25,111,154)"/><stop offset="0.6846" stop-color="rgb(26,106,163)"/><stop offset="0.7000" stop-color="rgb(27,103,168)"/><stop offset="0.7154" stop-color="rgb(28,101,172)"/><stop offset="0.7308" stop-color="rgb(29,98,177)"/><stop offset="0.7462" stop-color="rgb(30,96,181)"/><stop offset="0.7615" stop-color="rgb(30,94,184)"/><stop offset="0.7769" stop-color="rgb(31,92,188)"/><stop offset="0.7923" stop-color="rgb(32,89,192)"/><stop offset="0.8077" stop-color="rgb(33,87,195)"/><stop offset="0.8231" stop-color="rgb(33,85,200)"/><stop offset="0.8385" stop-color="rgb(34,82,205)"/><stop offset="0.8538" stop-color="rgb(35,80,208)"/><stop offset="0.8692" stop-color="rgb(35,80,208)"/><stop offset="0.8846" stop-color="rgb(35,80,208)"/><stop offset="0.9000" stop-color="rgb(35,80,208)"/><stop offset="0.9154" stop-color="rgb(35,80,208)"/><stop offset="0.9308" stop-color="rgb(35,80,208)"/><stop offset="0.9462" stop-color="rgb(35,80,208)"/><stop offset="0.9615" stop-color="rgb(35,80,208)"/><stop offset="0.9769" stop-color="rgb(35,80,208)"/><stop offset="0.9923" stop-color="rgb(35,80,208)"/></linearGradient><linearGradient id="g14" x1="0" y1="0" x2="0" y2="1"><stop offset="0.0077" stop-color="rgb(35,80,208)"/><stop offset="0.0231" stop-color="rgb(35,80,208)"/><stop offset="0.0385" stop-color="rgb(35,80,208)"/><stop offset="0.0538" stop-color="rgb(33,86,198)"/><stop offset="0.0692" stop-color="rgb(29,99,175)"/><stop offset="0.0846" stop-color="rgb(25,109,157)"/><stop offset="0.1000" stop-color="rgb(23,115,147)"/><stop offset="0.1154" stop-color="rgb(22,119,140)"/><stop offset="0.1308" stop-color="rgb(21,121,136)"/><stop offset="0.1462" stop-color="rgb(21,123,133)"/><stop offset="0.1615" stop-color="rgb(20,126,129)"/><stop offset="0.1769" stop-color="rgb(20,129,123)"/><stop offset="0.1923" stop-color="rgb(19,133,118)"/><stop offset="0.2077" stop-color="rgb(19,137,112)"/><stop offset="0.2231" stop-color="rgb(19,141,105)"/><stop offset="0.2385" stop-color="rgb(16,173,57)"/><stop offset="0.2538" stop-color="rgb(34,198,22)"/><stop offset="0.2692" stop-color="rgb(66,210,10)"/><stop offset="0.2846" stop-color="rgb(200,240,0)"/><stop offset="0.3000" stop-color="rgb(249,249,0)"/><stop offset="0.3154" stop-color="rgb(253,209,0)"/><stop offset="0.3308" stop-color="rgb(254,179,0)"/><stop offset="0.3462" stop-color="rgb(254,122,0)"/><stop offset="0.3615" stop-color="rgb(252,68,0)"/><stop offset="0.3769" stop-color="rgb(249,20,0)"/><stop offset="0.3923" stop-color="rgb(237,16,0)"/><stop offset="0.4077" stop-color="rgb(230,14,0)"/><stop offset="0.4231" stop-color="rgb(234,15,0)"/><stop offset="0.4385" stop-color="rgb(240,17,0)"/><stop offset="0.4538" stop-color="rgb(246,19,0)"/><stop offset="0.4692" stop-color="rgb(251,36,0)"/><stop offset="0.4846" stop-color="rgb(253,88,0)"/><stop offset="0.5000" stop-color="rgb(255,163,0)"/><stop offset="0.5154" stop-color="rgb(229,246,0)"/><stop offset="0.5308" stop-color="rgb(65,210,10)"/><stop offset="0.5462" stop-color="rgb(35,198,22)"/><stop offset="0.5615" stop-color="rgb(16,181,44)"/><stop offset="0.5769" stop-color="rgb(17,164,71)"/><stop offset="0.5923" stop-color="rgb(18,151,90)"/><stop offset="0.6077" stop-color="rgb(19,142,104)"/><stop offset="0.6231" stop-color="rgb(20,132,120)"/><stop offset="0.6385" stop-color="rgb(21,121,138)"/><stop offset="0.6538" stop-color="rgb(24,113,151)"/><stop offset="0.6692" stop-color="rgb(26,107,162)"/><stop offset="0.6846" stop-color="rgb(28,102,169)"/><stop offset="0.7000" stop-color="rgb(28,100,173)"/><stop offset="0.7154" stop-color="rgb(29,98,177)"/><stop offset="0.7308" stop-color="rgb(30,96,181)"/><stop offset="0.7462" stop-color="rgb(30,94,185)"/><stop offset="0.7615" stop-color="rgb(31,92,188)"/><stop offset="0.7769" stop-color="rgb(32,90,191)"/><stop offset="0.7923" stop-color="rgb(32,88,194)"/><stop offset="0.8077" stop-color="rgb(33,86,197)"/><stop offset="0.8231" stop-color="rgb(34,84,201)"/><stop offset="0.8385" stop-color="rgb(35,81,206)"/><stop offset="0.8538" stop-color="rgb(35,80,208)"/><stop offset="0.8692" stop-color="rgb(35,80,208)"/><stop offset="0.8846" stop-color="rgb(35,80,208)"/><stop offset="0.9000" stop-color="rgb(35,80,208)"/><stop offset="0.9154" stop-color="rgb(35,80,208)"/><stop offset="0.9308" stop-color="rgb(35,80,208)"/><stop offset="0.9462" stop-color="rgb(35,80,208)"/><stop offset="0.9615" stop-color="rgb(35,80,208)"/><stop offset="0.9769" stop-color="rgb(35,80,208)"/><stop offset="0.9923" stop-color="rgb(35,80,208)"/></linearGradient><linearGradient id="g15" x1="0" y1="0" x2="0" y2="1"><stop offset="0.0077" stop-color="rgb(35,80,208)"/><stop offset="0.0231" stop-color="rgb(35,80,208)"/><stop offset="0.0385" stop-color="rgb(35,80,208)"/><stop offset="0.0538" stop-color="rgb(32,88,195)"/><stop offset="0.0692" stop-color="rgb(27,104,166)"/><stop offset="0.0846" stop-color="rgb(23,117,144)"/><stop offset="0.1000" stop-color="rgb(20,124,131)"/><stop offset="0.1154" stop-color="rgb(20,131,121)"/><stop offset="0.1308" stop-color="rgb(19,135,115)"/><stop offset="0.1462" stop-color="rgb(19,138,109)"/><stop offset="0.1615" stop-color="rgb(19,142,103)"/><stop offset="0.1769" stop-color="rgb(18,147,97)"/><stop offset="0.1923" stop-color="rgb(18,151,90)"/><stop offset="0.2077" stop-color="rgb(18,156,82)"/><stop offset="0.2231" stop-color="rgb(17,161,74)"/><stop offset="0.2385" stop-color="rgb(15,190,30)"/><stop offset="0.2538" stop-color="rgb(46,203,17)"/><stop offset="0.2692" stop-color="rgb(92,217,7)"/><stop offset="0.2846" stop-color="rgb(213,242,0)"/><stop offset="0.3000" stop-color="rgb(252,241,0)"/><stop offset="0.3154" stop-color="rgb(254,198,0)"/><stop offset="0.3308" stop-color="rgb(254,169,0)"/><stop offset="0.3462" stop-color="rgb(254,120,0)"/><stop offset="0.3615" stop-color="rgb(252,75,0)"/><stop offset="0.3769" stop-color="rgb(251,34,0)"/><stop offset="0.3923" stop-color="rgb(245,18,0)"/><stop offset="0.4077" stop-color="rgb(240,17,0)"/><stop offset="0.4231" stop-color="rgb(246,19,0)"/><stop offset="0.4385" stop-color="rgb(251,34,0)"/><stop offset="0.4538" stop-color="rgb(252,63,0)"/><stop offset="0.4692" stop-color="rgb(253,99,0)"/><stop offset="0.4846" stop-color="rgb(255,154,0)"/><stop offset="0.5000" stop-color="rgb(253,228,0)"/><stop offset="0.5154" stop-color="rgb(166,233,2)"/><stop offset="0.5308" stop-color="rgb(48,203,17)"/><stop offset="0.5462" stop-color="rgb(19,192,28)"/><stop offset="0.5615" stop-color="rgb(17,165,69)"/><stop offset="0.5769" stop-color="rgb(18,148,95)"/><stop offset="0.5923" stop-color="rgb(19,136,112)"/><stop offset="0.6077" stop-color="rgb(20,128,125)"/><stop offset="0.6231" stop-color="rgb(21,121,136)"/><stop offset="0.6385" stop-color="rgb(24,114,150)"/><stop offset="0.6538" stop-color="rgb(26,107,161)"/><stop offset="0.6692" stop-color="rgb(28,102,170)"/><stop offset="0.6846" stop-color="rgb(29,99,176)"/><stop offset="0.7000" stop-color="rgb(29,97,179)"/><stop offset="0.7154" stop-color="rgb(30,95,182)"/><stop offset="0.7308" stop-color="rgb(31,93,186)"/><stop offset="0.7462" stop-color="rgb(31,91,188)"/><stop offset="0.7615" stop-color="rgb(32,90,191)"/><stop offset="0.7769" stop-color="rgb(32,88,194)"/><stop offset="0.7923" stop-color="rgb(33,87,196)"/><stop offset="0.8077" stop-color="rgb(33,85,199)"/><stop offset="0.8231" stop-color="rgb(34,83,202)"/><stop offset="0.8385" stop-color="rgb(35,81,206)"/><stop offset="0.8538" stop-color="rgb(35,80,208)"/><stop offset="0.8692" stop-color="rgb(35,80,208)"/><stop offset="0.8846" stop-color="rgb(35,80,208)"/><stop offset="0.9000" stop-color="rgb(35,80,208)"/><stop offset="0.9154" stop-color="rgb(35,80,208)"/><stop offset="0.9308" stop-color="rgb(35,80,208)"/><stop offset="0.9462" stop-color="rgb(35,80,208)"/><stop offset="0.9615" stop-color="rgb(35,80,208)"/><stop offset="0.9769" stop-color="rgb(35,80,208)"/><stop offset="0.9923" stop-color="rgb(35,80,208)"/></linearGradient><linearGradient id="g16" x1="0" y1="0" x2="0" y2="1"><stop offset="0.0077" stop-color="rgb(35,80,208)"/><stop offset="0.0231" stop-color="rgb(35,80,208)"/><stop offset="0.0385" stop-color="rgb(35,80,208)"/><stop offset="0.0538" stop-color="rgb(32,89,192)"/><stop offset="0.0692" stop-color="rgb(25,109,158)"/><stop offset="0.0846" stop-color="rgb(20,124,132)"/><stop offset="0.1000" stop-color="rgb(19,137,112)"/><stop offset="0.1154" stop-color="rgb(18,145,99)"/><stop offset="0.1308" stop-color="rgb(18,150,92)"/><stop offset="0.1462" stop-color="rgb(18,154,85)"/><stop offset="0.1615" stop-color="rgb(17,159,78)"/><stop offset="0.1769" stop-color="rgb(17,164,70)"/><stop offset="0.1923" stop-color="rgb(17,169,62)"/><stop offset="0.2077" stop-color="rgb(16,175,53)"/><stop offset="0.2231" stop-color="rgb(16,182,43)"/><stop offset="0.2385" stop-color="rgb(31,196,24)"/><stop offset="0.2538" stop-color="rgb(59,208,12)"/><stop offset="0.2692" stop-color="rgb(134,226,4)"/><stop offset="0.2846" stop-color="rgb(226,245,0)"/><stop offset="0.3000" stop-color="rgb(253,227,0)"/><stop offset="0.3154" stop-color="rgb(254,187,0)"/><stop offset="0.3308" stop-color="rgb(255,160,0)"/><stop offset="0.3462" stop-color="rgb(254,119,0)"/><stop offset="0.3615" stop-color="rgb(252,82,0)"/><stop offset="0.3769" stop-color="rgb(251,51,0)"/><stop offset="0.3923" stop-color="rgb(250,29,0)"/><stop offset="0.4077" stop-color="rgb(250,22,0)"/><stop offset="0.4231" stop-color="rgb(251,50,0)"/><stop offset="0.4385" stop-color="rgb(252,85,0)"/><stop offset="0.4538" stop-color="rgb(254,120,0)"/><stop offset="0.4692" stop-color="rgb(255,163,0)"/><stop offset="0.4846" stop-color="rgb(253,221,0)"/><stop offset="0.5000" stop-color="rgb(219,244,0)"/><stop offset="0.5154" stop-color="rgb(70,212,8)"/><stop offset="0.5308" stop-color="rgb(31,196,24)"/><stop offset="0.5462" stop-color="rgb(16,176,51)"/><stop offset="0.5615" stop-color="rgb(18,148,94)"/><stop offset="0.5769" stop-color="rgb(19,132,119)"/><stop offset="0.5923" stop-color="rgb(21,123,134)"/><stop offset="0.6077" stop-color="rgb(22,118,142)"/><stop offset="0.6231" stop-color="rgb(24,113,151)"/><stop offset="0.6385" stop-color="rgb(26,107,161)"/><stop offset="0.6538" stop-color="rgb(28,102,170)"/><stop offset="0.6692" stop-color="rgb(29,98,177)"/><stop offset="0.6846" stop-color="rgb(30,95,182)"/><stop offset="0.7000" stop-color="rgb(31,93,185)"/><stop offset="0.7154" stop-color="rgb(31,92,187)"/><stop offset="0.7308" stop-color="rgb(32,90,190)"/><stop offset="0.7462" stop-color="rgb(32,89,192)"/><stop offset="0.7615" stop-color="rgb(32,88,194)"/><stop offset="0.7769" stop-color="rgb(33,87,197)"/><stop offset="0.7923" stop-color="rgb(33,85,199)"/><stop offset="0.8077" stop-color="rgb(34,84,201)"/><stop offset="0.8231" stop-color="rgb(34,83,203)"/><stop offset="0.8385" stop-color="rgb(35,81,206)"/><stop offset="0.8538" stop-color="rgb(35,80,208)"/><stop offset="0.8692" stop-color="rgb(35,80,208)"/><stop offset="0.8846" stop-color="rgb(35,80,208)"/><stop offset="0.9000" stop-color="rgb(35,80,208)"/><stop offset="0.9154" stop-color="rgb(35,80,208)"/><stop offset="0.9308" stop-color="rgb(35,80,208)"/><stop offset="0.9462" stop-color="rgb(35,80,208)"/><stop offset="0.9615" stop-color="rgb(35,80,208)"/><stop offset="0.9769" stop-color="rgb(35,80,208)"/><stop offset="0.9923" stop-color="rgb(35,80,208)"/></linearGradient><linearGradient id="g17" x1="0" y1="0" x2="0" y2="1"><stop offset="0.0077" stop-color="rgb(35,80,208)"/><stop offset="0.0231" stop-color="rgb(35,80,208)"/><stop offset="0.0385" stop-color="rgb(35,80,208)"/><stop offset="0.0538" stop-color="rgb(32,90,190)"/><stop offset="0.0692" stop-color="rgb(24,114,150)"/><stop offset="0.0846" stop-color="rgb(19,134,116)"/><stop offset="0.1000" stop-color="rgb(18,149,92)"/><stop offset="0.1154" stop-color="rgb(17,160,77)"/><stop offset="0.1308" stop-color="rgb(17,165,69)"/><stop offset="0.1462" stop-color="rgb(17,170,61)"/><stop offset="0.1615" stop-color="rgb(16,175,53)"/><stop offset="0.1769" stop-color="rgb(16,181,43)"/><stop offset="0.1923" stop-color="rgb(15,187,34)"/><stop offset="0.2077" stop-color="rgb(19,192,28)"/><stop offset="0.2231" stop-color="rgb(26,194,26)"/><stop offset="0.2385" stop-color="rgb(46,203,17)"/><stop offset="0.2538" stop-color="rgb(77,214,8)"/><stop offset="0.2692" stop-color="rgb(177,235,1)"/><stop offset="0.2846" stop-color="rgb(239,248,0)"/><stop offset="0.3000" stop-color="rgb(253,213,0)"/><stop offset="0.3154" stop-color="rgb(254,176,0)"/><stop offset="0.3308" stop-color="rgb(255,151,0)"/><stop offset="0.3462" stop-color="rgb(254,117,0)"/><stop offset="0.3615" stop-color="rgb(253,90,0)"/><stop offset="0.3769" stop-color="rgb(252,69,0)"/><stop offset="0.3923" stop-color="rgb(251,57,0)"/><stop offset="0.4077" stop-color="rgb(252,60,0)"/><stop offset="0.4231" stop-color="rgb(253,95,0)"/><stop offset="0.4385" stop-color="rgb(254,136,0)"/><stop offset="0.4538" stop-color="rgb(254,177,0)"/><stop offset="0.4692" stop-color="rgb(253,229,0)"/><stop offset="0.4846" stop-color="rgb(222,244,0)"/><stop offset="0.5000" stop-color="rgb(133,226,4)"/><stop offset="0.5154" stop-color="rgb(50,204,16)"/><stop offset="0.5308" stop-color="rgb(15,189,32)"/><stop offset="0.5462" stop-color="rgb(17,158,79)"/><stop offset="0.5615" stop-color="rgb(19,132,119)"/><stop offset="0.5769" stop-color="rgb(22,119,140)"/><stop offset="0.5923" stop-color="rgb(24,113,151)"/><stop offset="0.6077" stop-color="rgb(26,108,159)"/><stop offset="0.6231" stop-color="rgb(27,105,165)"/><stop offset="0.6385" stop-color="rgb(28,100,173)"/><stop offset="0.6538" stop-color="rgb(30,96,180)"/><stop offset="0.6692" stop-color="rgb(31,93,185)"/><stop offset="0.6846" stop-color="rgb(31,91,189)"/><stop offset="0.7000" stop-color="rgb(32,90,191)"/><stop offset="0.7154" stop-color="rgb(32,89,193)"/><stop offset="0.7308" stop-color="rgb(32,88,195)"/><stop offset="0.7462" stop-color="rgb(33,87,196)"/><stop offset="0.7615" stop-color="rgb(33,86,198)"/><stop offset="0.7769" stop-color="rgb(33,85,199)"/><stop offset="0.7923" stop-color="rgb(34,84,201)"/><stop offset="0.8077" stop-color="rgb(34,83,203)"/><stop offset="0.8231" stop-color="rgb(34,82,204)"/><stop offset="0.8385" stop-color="rgb(35,81,207)"/><stop offset="0.8538" stop-color="rgb(35,80,208)"/><stop offset="0.8692" stop-color="rgb(35,80,208)"/><stop offset="0.8846" stop-color="rgb(35,80,208)"/><stop offset="0.9000" stop-color="rgb(35,80,208)"/><stop offset="0.9154" stop-color="rgb(35,80,208)"/><stop offset="0.9308" stop-color="rgb(35,80,208)"/><stop offset="0.9462" stop-color="rgb(35,80,208)"/><stop offset="0.9615" stop-color="rgb(35,80,208)"/><stop offset="0.9769" stop-color="rgb(35,80,208)"/><stop offset="0.9923" stop-color="rgb(35,80,208)"/></linearGradient><linearGradient id="g18" x1="0" y1="0" x2="0" y2="1"><stop offset="0.0077" stop-color="rgb(35,80,208)"/><stop offset="0.0231" stop-color="rgb(35,80,208)"/><stop offset="0.0385" stop-color="rgb(35,80,208)"/><stop offset="0.0538" stop-color="rgb(31,92,187)"/><stop offset="0.0692" stop-color="rgb(22,118,141)"/><stop offset="0.0846" stop-color="rgb(18,145,99)"/><stop offset="0.1000" stop-color="rgb(17,162,73)"/><stop offset="0.1154" stop-color="rgb(16,174,55)"/><stop offset="0.1308" stop-color="rgb(16,180,46)"/><stop offset="0.1462" stop-color="rgb(15,185,37)"/><stop offset="0.1615" stop-color="rgb(17,191,29)"/><stop offset="0.1769" stop-color="rgb(23,193,27)"/><stop offset="0.1923" stop-color="rgb(29,196,24)"/><stop offset="0.2077" stop-color="rgb(36,198,22)"/><stop offset="0.2231" stop-color="rgb(44,202,18)"/><stop offset="0.2385" stop-color="rgb(62,209,11)"/><stop offset="0.2538" stop-color="rgb(137,226,4)"/><stop offset="0.2692" stop-color="rgb(209,242,0)"/><stop offset="0.2846" stop-color="rgb(252,250,0)"/><stop offset="0.3000" stop-color="rgb(254,200,0)"/><stop offset="0.3154" stop-color="rgb(255,165,0)"/><stop offset="0.3308" stop-color="rgb(255,141,0)"/><stop offset="0.3462" stop-color="rgb(254,115,0)"/><stop offset="0.3615" stop-color="rgb(253,97,0)"/><stop offset="0.3769" stop-color="rgb(253,87,0)"/><stop offset="0.3923" stop-color="rgb(253,86,0)"/><stop offset="0.4077" stop-color="rgb(253,97,0)"/><stop offset="0.4231" stop-color="rgb(255,140,0)"/><stop offset="0.4385" stop-color="rgb(254,187,0)"/><stop offset="0.4538" stop-color="rgb(252,234,0)"/><stop offset="0.4692" stop-color="rgb(218,243,0)"/><stop offset="0.4846" stop-color="rgb(134,226,4)"/><stop offset="0.5000" stop-color="rgb(61,208,12)"/><stop offset="0.5154" stop-color="rgb(29,196,24)"/><stop offset="0.5308" stop-color="rgb(17,170,61)"/><stop offset="0.5462" stop-color="rgb(19,140,107)"/><stop offset="0.5615" stop-color="rgb(22,119,141)"/><stop offset="0.5769" stop-color="rgb(26,108,159)"/><stop offset="0.5923" stop-color="rgb(28,102,169)"/><stop offset="0.6077" stop-color="rgb(29,99,175)"/><stop offset="0.6231" stop-color="rgb(30,96,179)"/><stop offset="0.6385" stop-color="rgb(30,94,185)"/><stop offset="0.6538" stop-color="rgb(31,91,189)"/><stop offset="0.6692" stop-color="rgb(32,89,193)"/><stop offset="0.6846" stop-color="rgb(33,87,195)"/><stop offset="0.7000" stop-color="rgb(33,87,196)"/><stop offset="0.7154" stop-color="rgb(33,86,198)"/><stop offset="0.7308" stop-color="rgb(33,85,199)"/><stop offset="0.7462" stop-color="rgb(34,84,200)"/><stop offset="0.7615" stop-color="rgb(34,84,201)"/><stop offset="0.7769" stop-color="rgb(34,83,202)"/><stop offset="0.7923" stop-color="rgb(34,83,203)"/><stop offset="0.8077" stop-color="rgb(34,82,204)"/><stop offset="0.8231" stop-color="rgb(35,81,206)"/><stop offset="0.8385" stop-color="rgb(35,80,207)"/><stop offset="0.8538" stop-color="rgb(35,80,208)"/><stop offset="0.8692" stop-color="rgb(35,80,208)"/><stop offset="0.8846" stop-color="rgb(35,80,208)"/><stop offset="0.9000" stop-color="rgb(35,80,208)"/><stop offset="0.9154" stop-color="rgb(35,80,208)"/><stop offset="0.9308" stop-color="rgb(35,80,208)"/><stop offset="0.9462" stop-color="rgb(35,80,208)"/><stop offset="0.9615" stop-color="rgb(35,80,208)"/><stop offset="0.9769" stop-color="rgb(35,80,208)"/><stop offset="0.9923" stop-color="rgb(35,80,208)"/></linearGradient><linearGradient id="g19" x1="0" y1="0" x2="0" y2="1"><stop offset="0.0077" stop-color="rgb(35,80,208)"/><stop offset="0.0231" stop-color="rgb(35,80,208)"/><stop offset="0.0385" stop-color="rgb(35,80,208)"/><stop offset="0.0538" stop-color="rgb(30,94,185)"/><stop offset="0.0692" stop-color="rgb(21,123,133)"/><stop offset="0.0846" stop-color="rgb(18,156,83)"/><stop offset="0.1000" stop-color="rgb(16,175,53)"/><stop offset="0.1154" stop-color="rgb(15,188,33)"/><stop offset="0.1308" stop-color="rgb(19,192,28)"/><stop offset="0.1462" stop-color="rgb(25,194,26)"/><stop offset="0.1615" stop-color="rgb(31,197,23)"/><stop offset="0.1769" stop-color="rgb(39,199,21)"/><stop offset="0.1923" stop-color="rgb(46,202,18)"/><stop offset="0.2077" stop-color="rgb(54,205,15)"/><stop offset="0.2231" stop-color="rgb(62,209,11)"/><stop offset="0.2385" stop-color="rgb(107,220,6)"/><stop offset="0.2538" stop-color="rgb(196,239,0)"/><stop offset="0.2692" stop-color="rgb(229,246,0)"/><stop offset="0.2846" stop-color="rgb(252,233,0)"/><stop offset="0.3000" stop-color="rgb(254,186,0)"/><stop offset="0.3154" stop-color="rgb(255,154,0)"/><stop offset="0.3308" stop-color="rgb(254,132,0)"/><stop offset="0.3462" stop-color="rgb(254,114,0)"/><stop offset="0.3615" stop-color="rgb(253,105,0)"/><stop offset="0.3769" stop-color="rgb(253,105,0)"/><stop offset="0.3923" stop-color="rgb(254,114,0)"/><stop offset="0.4077" stop-color="rgb(254,134,0)"/><stop offset="0.4231" stop-color="rgb(254,186,0)"/><stop offset="0.4385" stop-color="rgb(252,239,0)"/><stop offset="0.4538" stop-color="rgb(219,244,0)"/><stop offset="0.4692" stop-color="rgb(129,225,4)"/><stop offset="0.4846" stop-color="rgb(60,208,12)"/><stop offset="0.5000" stop-color="rgb(38,199,21)"/><stop offset="0.5154" stop-color="rgb(16,184,40)"/><stop offset="0.5308" stop-color="rgb(18,151,90)"/><stop offset="0.5462" stop-color="rgb(21,123,134)"/><stop offset="0.5615" stop-color="rgb(26,107,161)"/><stop offset="0.5769" stop-color="rgb(29,98,178)"/><stop offset="0.5923" stop-color="rgb(31,92,187)"/><stop offset="0.6077" stop-color="rgb(32,89,192)"/><stop offset="0.6231" stop-color="rgb(32,88,194)"/><stop offset="0.6385" stop-color="rgb(33,87,196)"/><stop offset="0.6538" stop-color="rgb(33,85,199)"/><stop offset="0.6692" stop-color="rgb(34,84,200)"/><stop offset="0.6846" stop-color="rgb(34,84,202)"/><stop offset="0.7000" stop-color="rgb(34,83,202)"/><stop offset="0.7154" stop-color="rgb(34,83,203)"/><stop offset="0.7308" stop-color="rgb(34,83,204)"/><stop offset="0.7462" stop-color="rgb(34,82,204)"/><stop offset="0.7615" stop-color="rgb(34,82,205)"/><stop offset="0.7769" stop-color="rgb(34,82,205)"/><stop offset="0.7923" stop-color="rgb(35,81,206)"/><stop offset="0.8077" stop-color="rgb(35,81,206)"/><stop offset="0.8231" stop-color="rgb(35,81,207)"/><stop offset="0.8385" stop-color="rgb(35,80,208)"/><stop offset="0.8538" stop-color="rgb(35,80,208)"/><stop offset="0.8692" stop-color="rgb(35,80,208)"/><stop offset="0.8846" stop-color="rgb(35,80,208)"/><stop offset="0.9000" stop-color="rgb(35,80,208)"/><stop offset="0.9154" stop-color="rgb(35,80,208)"/><stop offset="0.9308" stop-color="rgb(35,80,208)"/><stop offset="0.9462" stop-color="rgb(35,80,208)"/><stop offset="0.9615" stop-color="rgb(35,80,208)"/><stop offset="0.9769" stop-color="rgb(35,80,208)"/><stop offset="0.9923" stop-color="rgb(35,80,208)"/></linearGradient></defs><rect x="397" y="136" width="1" height="65" fill="url(#g18)"/><rect x="398" y="136" width="1" height="65" fill="url(#g2)"/><rect x="399" y="136" width="1" height="65" fill="url(#g6)"/><rect x="400" y="136" width="1" height="65" fill="url(#g9)"/><rect x="401" y="136" width="1" height="65" fill="url(#g13)"/><rect x="402" y="136" width="1" height="65" fill="url(#g17)"/><rect x="403" y="136" width="1" height="65" fill="url(#g1)"/><rect x="404" y="136" width="1" height="65" fill="url(#g5)"/><rect x="405" y="136" width="1" height="65" fill="url(#g9)"/><rect x="406" y="136" width="1" height="65" fill="url(#g13)"/><rect x="407" y="136" width="1" height="65" fill="url(#g17)"/><rect x="408" y="136" width="1" height="65" fill="url(#g1)"/><rect x="409" y="136" width="1" height="65" fill="url(#g5)"/><rect x="410" y="136" width="1" height="65" fill="url(#g9)"/><rect x="411" y="136" width="1" height="65" fill="url(#g13)"/><rect x="412" y="136" width="1" height="65" fill="url(#g17)"/><rect x="413" y="136" width="1" height="65" fill="url(#g1)"/><rect x="414" y="136" width="1" height="65" fill="url(#g5)"/><rect x="415" y="136" width="1" height="65" fill="url(#g9)"/><rect x="416" y="136" width="1" height="65" fill="url(#g13)"/><rect x="417" y="136" width="1" height="65" fill="url(#g16)"/><rect x="418" y="136" width="1" height="65" fill="url(#g0)"/><rect x="419" y="136" width="1" height="65" fill="url(#g4)"/><rect x="420" y="136" width="1" height="65" fill="url(#g8)"/><rect x="421" y="136" width="1" height="65" fill="url(#g12)"/><rect x="422" y="136" width="1" height="65" fill="url(#g16)"/><rect x="423" y="136" width="1" height="65" fill="url(#g0)"/><rect x="424" y="136" width="1" height="65" fill="url(#g4)"/><rect x="425" y="136" width="1" height="65" fill="url(#g8)"/><rect x="426" y="136" width="1" height="65" fill="url(#g12)"/><rect x="427" y="136" width="1" height="65" fill="url(#g16)"/><rect x="428" y="136" width="1" height="65" fill="url(#g0)"/><rect x="429" y="136" width="1" height="65" fill="url(#g4)"/><rect x="430" y="136" width="1" height="65" fill="url(#g8)"/><rect x="431" y="136" width="1" height="65" fill="url(#g12)"/><rect x="432" y="136" width="1" height="65" fill="url(#g16)"/><rect x="433" y="136" width="1" height="65" fill="url(#g0)"/><rect x="434" y="136" width="1" height="65" fill="url(#g3)"/><rect x="435" y="136" width="1" height="65" fill="url(#g7)"/><rect x="436" y="136" width="1" height="65" fill="url(#g11)"/><rect x="437" y="136" width="1" height="65" fill="url(#g15)"/><rect x="438" y="136" width="1" height="65" fill="url(#g19)"/><rect x="439" y="136" width="1" height="65" fill="url(#g3)"/><rect x="440" y="136" width="1" height="65" fill="url(#g7)"/><rect x="441" y="136" width="1" height="65" fill="url(#g11)"/><rect x="442" y="136" width="1" height="65" fill="url(#g15)"/><rect x="443" y="136" width="1" height="65" fill="url(#g19)"/><rect x="444" y="136" width="1" height="65" fill="url(#g3)"/><rect x="445" y="136" width="1" height="65" fill="url(#g7)"/><rect x="446" y="136" width="1" height="65" fill="url(#g11)"/><rect x="447" y="136" width="1" height="65" fill="url(#g15)"/><rect x="448" y="136" width="1" height="65" fill="url(#g19)"/><rect x="449" y="136" width="1" height="65" fill="url(#g3)"/><rect x="450" y="136" width="1" height="65" fill="url(#g7)"/><rect x="451" y="136" width="1" height="65" fill="url(#g10)"/><rect x="452" y="136" width="1" height="65" fill="url(#g14)"/><rect x="453" y="136" width="1" height="65" fill="url(#g18)"/><rect x="454" y="136" width="1" height="65" fill="url(#g2)"/><rect x="455" y="136" width="1" height="65" fill="url(#g6)"/><rect x="456" y="136" width="1" height="65" fill="url(#g10)"/><rect x="457" y="136" width="1" height="65" fill="url(#g14)"/><rect x="458" y="136" width="1" height="65" fill="url(#g18)"/><rect x="459" y="136" width="1" height="65" fill="url(#g2)"/><rect x="460" y="136" width="1" height="65" fill="url(#g6)"/><rect x="461" y="136" width="1" height="65" fill="url(#g10)"/><rect x="462" y="136" width="1" height="65" fill="url(#g14)"/><rect x="463" y="136" width="1" height="65" fill="url(#g18)"/><rect x="464" y="136" width="1" height="65" fill="url(#g2)"/><rect x="465" y="136" width="1" height="65" fill="url(#g6)"/><rect x="466" y="136" width="1" height="65" fill="url(#g10)"/><rect x="467" y="136" width="1" height="65" fill="url(#g13)"/><rect x="468" y="136" width="1" height="65" fill="url(#g17)"/><rect x="469" y="136" width="1" height="65" fill="url(#g1)"/><rect x="470" y="136" width="1" height="65" fill="url(#g5)"/><rect x="471" y="136" width="1" height="65" fill="url(#g9)"/><rect x="472" y="136" width="1" height="65" fill="url(#g13)"/><rect x="473" y="136" width="1" height="65" fill="url(#g17)"/><rect x="474" y="136" width="1" height="65" fill="url(#g1)"/><rect x="475" y="136" width="1" height="65" fill="url(#g5)"/><rect x="476" y="136" width="1" height="65" fill="url(#g9)"/><rect x="477" y="136" width="1" height="65" fill="url(#g13)"/><rect x="478" y="136" width="1" height="65" fill="url(#g17)"/><rect x="479" y="136" width="1" height="65" fill="url(#g1)"/><rect x="480" y="136" width="1" height="65" fill="url(#g5)"/><rect x="481" y="136" width="1" height="65" fill="url(#g9)"/><rect x="482" y="136" width="1" height="65" fill="url(#g13)"/><rect x="483" y="136" width="1" height="65" fill="url(#g17)"/><rect x="484" y="136" width="1" height="65" fill="url(#g0)"/><rect x="485" y="136" width="1" height="65" fill="url(#g4)"/><rect x="486" y="136" width="1" height="65" fill="url(#g8)"/><rect x="487" y="136" width="1" height="65" fill="url(#g12)"/><rect x="488" y="136" width="1" height="65" fill="url(#g16)"/><rect x="489" y="136" width="1" height="65" fill="url(#g0)"/><rect x="490" y="136" width="1" height="65" fill="url(#g4)"/><rect x="491" y="136" width="1" height="65" fill="url(#g8)"/><rect x="492" y="136" width="1" height="65" fill="url(#g12)"/><rect x="493" y="136" width="1" height="65" fill="url(#g16)"/><rect x="494" y="136" width="1" height="65" fill="url(#g0)"/><rect x="495" y="136" width="1" height="65" fill="url(#g4)"/><rect x="496" y="136" width="1" height="65" fill="url(#g8)"/><rect x="497" y="136" width="1" height="65" fill="url(#g12)"/><rect x="498" y="136" width="1" height="65" fill="url(#g16)"/><rect x="499" y="136" width="1" height="65" fill="url(#g0)"/><rect x="500" y="136" width="1" height="65" fill="url(#g4)"/><rect x="501" y="136" width="1" height="65" fill="url(#g7)"/><rect x="502" y="136" width="1" height="65" fill="url(#g11)"/><rect x="503" y="136" width="1" height="65" fill="url(#g15)"/><rect x="504" y="136" width="1" height="65" fill="url(#g19)"/><rect x="505" y="136" width="1" height="65" fill="url(#g3)"/><rect x="506" y="136" width="1" height="65" fill="url(#g7)"/><rect x="507" y="136" width="1" height="65" fill="url(#g11)"/><rect x="508" y="136" width="1" height="65" fill="url(#g15)"/><rect x="509" y="136" width="1" height="65" fill="url(#g19)"/><rect x="510" y="136" width="1" height="65" fill="url(#g3)"/><rect x="511" y="136" width="1" height="65" fill="url(#g7)"/><rect x="512" y="136" width="1" height="65" fill="url(#g11)"/><rect x="513" y="136" width="1" height="65" fill="url(#g15)"/><rect x="514" y="136" width="1" height="65" fill="url(#g19)"/><rect x="515" y="136" width="1" height="65" fill="url(#g3)"/><rect x="516" y="136" width="1" height="65" fill="url(#g7)"/><rect x="517" y="136" width="1" height="65" fill="url(#g11)"/><rect x="518" y="136" width="1" height="65" fill="url(#g14)"/><rect x="519" y="136" width="1" height="65" fill="url(#g18)"/><rect x="520" y="136" width="1" height="65" fill="url(#g2)"/><rect x="521" y="136" width="1" height="65" fill="url(#g6)"/><rect x="522" y="136" width="1" height="65" fill="url(#g10)"/><rect x="523" y="136" width="1" height="65" fill="url(#g14)"/><rect x="524" y="136" width="1" height="65" fill="url(#g18)"/><rect x="525" y="136" width="1" height="65" fill="url(#g2)"/><rect x="526" y="136" width="1" height="65" fill="url(#g6)"/><rect x="527" y="136" width="1" height="65" fill="url(#g10)"/><rect x="528" y="136" width="1" height="65" fill="url(#g14)"/><rect x="529" y="136" width="1" height="65" fill="url(#g18)"/><rect x="530" y="136" width="1" height="65" fill="url(#g2)"/><rect x="531" y="136" width="1" height="65" fill="url(#g6)"/><rect x="532" y="136" width="1" height="65" fill="url(#g10)"/><rect x="533" y="136" width="1" height="65" fill="url(#g14)"/><rect x="534" y="136" width="1" height="65" fill="url(#g18)"/><rect x="535" y="136" width="1" height="65" fill="url(#g1)"/><rect x="536" y="136" width="1" height="65" fill="url(#g5)"/><rect x="537" y="136" width="1" height="65" fill="url(#g9)"/><rect x="538" y="136" width="1" height="65" fill="url(#g13)"/><rect x="539" y="136" width="1" height="65" fill="url(#g17)"/><rect x="540" y="136" width="1" height="65" fill="url(#g1)"/><rect x="541" y="136" width="1" height="65" fill="url(#g5)"/><rect x="542" y="136" width="1" height="65" fill="url(#g9)"/><rect x="543" y="136" width="1" height="65" fill="url(#g13)"/><rect x="544" y="136" width="1" height="65" fill="url(#g17)"/><rect x="545" y="136" width="1" height="65" fill="url(#g1)"/><rect x="546" y="136" width="1" height="65" fill="url(#g5)"/><rect x="547" y="136" width="1" height="65" fill="url(#g9)"/><rect x="548" y="136" width="1" height="65" fill="url(#g13)"/><rect x="549" y="136" width="1" height="65" fill="url(#g17)"/><rect x="550" y="136" width="1" height="65" fill="url(#g1)"/><rect x="551" y="136" width="1" height="65" fill="url(#g5)"/><rect x="552" y="136" width="1" height="65" fill="url(#g8)"/><rect x="553" y="136" width="1" height="65" fill="url(#g12)"/><rect x="554" y="136" width="1" height="65" fill="url(#g16)"/><rect x="555" y="136" width="1" height="65" fill="url(#g0)"/><rect x="556" y="136" width="1" height="65" fill="url(#g4)"/><rect x="557" y="136" width="1" height="65" fill="url(#g8)"/><rect x="558" y="136" width="1" height="65" fill="url(#g12)"/><rect x="559" y="136" width="1" height="65" fill="url(#g16)"/><rect x="560" y="136" width="1" height="65" fill="url(#g0)"/><rect x="561" y="136" width="1" height="65" fill="url(#g4)"/><rect x="562" y="136" width="1" height="65" fill="url(#g8)"/><rect x="563" y="136" width="1" height="65" fill="url(#g12)"/><rect x="564" y="136" width="1" height="65" fill="url(#g16)"/><rect x="565" y="136" width="1" height="65" fill="url(#g0)"/><rect x="566" y="136" width="1" height="65" fill="url(#g4)"/><rect x="567" y="136" width="1" height="65" fill="url(#g8)"/><rect x="568" y="136" width="1" height="65" fill="url(#g12)"/><rect x="569" y="136" width="1" height="65" fill="url(#g15)"/><rect x="570" y="136" width="1" height="65" fill="url(#g19)"/><rect x="571" y="136" width="1" height="65" fill="url(#g3)"/><rect x="572" y="136" width="1" height="65" fill="url(#g7)"/><rect x="573" y="136" width="1" height="65" fill="url(#g11)"/><rect x="574" y="136" width="1" height="65" fill="url(#g15)"/><rect x="575" y="136" width="1" height="65" fill="url(#g19)"/><rect x="576" y="136" width="1" height="65" fill="url(#g3)"/><rect x="577" y="136" width="1" height="65" fill="url(#g7)"/><rect x="578" y="136" width="1" height="65" fill="url(#g11)"/><rect x="579" y="136" width="1" height="65" fill="url(#g15)"/><rect x="580" y="136" width="1" height="65" fill="url(#g19)"/><rect x="581" y="136" width="1" height="65" fill="url(#g3)"/><rect x="582" y="136" width="1" height="65" fill="url(#g7)"/><rect x="583" y="136" width="1" height="65" fill="url(#g11)"/><rect x="584" y="136" width="1" height="65" fill="url(#g15)"/><rect x="585" y="136" width="1" height="65" fill="url(#g19)"/><rect x="586" y="136" width="1" height="65" fill="url(#g2)"/><rect x="587" y="136" width="1" height="65" fill="url(#g6)"/><rect x="588" y="136" width="1" height="65" fill="url(#g10)"/><rect x="589" y="136" width="1" height="65" fill="url(#g14)"/><rect x="590" y="136" width="1" height="65" fill="url(#g18)"/><rect x="591" y="136" width="1" height="65" fill="url(#g2)"/><rect x="592" y="136" width="1" height="65" fill="url(#g6)"/><rect x="593" y="136" width="1" height="65" fill="url(#g10)"/><rect x="594" y="136" width="1" height="65" fill="url(#g14)"/><rect x="595" y="136" width="1" height="65" fill="url(#g18)"/><rect x="596" y="136" width="1" height="65" fill="url(#g2)"/><rect x="597" y="136" width="1" height="65" fill="url(#g6)"/><rect x="598" y="136" width="1" height="65" fill="url(#g10)"/><rect x="599" y="136" width="1" height="65" fill="url(#g14)"/><rect x="600" y="136" width="1" height="65" fill="url(#g18)"/><rect x="601" y="136" width="1" height="65" fill="url(#g2)"/><rect x="602" y="136" width="1" height="65" fill="url(#g6)"/><rect x="603" y="136" width="1" height="65" fill="url(#g9)"/><rect x="604" y="136" width="1" height="65" fill="url(#g13)"/><rect x="605" y="136" width="1" height="65" fill="url(#g17)"/><rect x="606" y="136" width="1" height="65" fill="url(#g1)"/><rect x="607" y="136" width="1" height="65" fill="url(#g5)"/><rect x="608" y="136" width="1" height="65" fill="url(#g9)"/><rect x="609" y="136" width="1" height="65" fill="url(#g13)"/><rect x="610" y="136" width="1" height="65" fill="url(#g17)"/><rect x="611" y="136" width="1" height="65" fill="url(#g1)"/><rect x="612" y="136" width="1" height="65" fill="url(#g5)"/><rect x="613" y="136" width="1" height="65" fill="url(#g9)"/><rect x="614" y="136" width="1" height="65" fill="url(#g13)"/><rect x="615" y="136" width="1" height="65" fill="url(#g17)"/><rect x="616" y="136" width="1" height="65" fill="url(#g1)"/><rect x="617" y="136" width="1" height="65" fill="url(#g5)"/><rect x="618" y="136" width="1" height="65" fill="url(#g9)"/><rect x="619" y="136" width="1" height="65" fill="url(#g13)"/><rect x="620" y="136" width="1" height="65" fill="url(#g16)"/><rect x="621" y="136" width="1" height="65" fill="url(#g0)"/><rect x="622" y="136" width="1" height="65" fill="url(#g4)"/><rect x="623" y="136" width="1" height="65" fill="url(#g8)"/><rect x="624" y="136" width="1" height="65" fill="url(#g12)"/><rect x="625" y="136" width="1" height="65" fill="url(#g16)"/><rect x="626" y="136" width="1" height="65" fill="url(#g0)"/><rect x="627" y="136" width="1" height="65" fill="url(#g4)"/><rect x="628" y="136" width="1" height="65" fill="url(#g8)"/><rect x="629" y="136" width="1" height="65" fill="url(#g12)"/><rect x="630" y="136" width="1" height="65" fill="url(#g16)"/><rect x="631" y="136" width="1" height="65" fill="url(#g0)"/><rect x="632" y="136" width="1" height="65" fill="url(#g4)"/><rect x="633" y="136" width="1" height="65" fill="url(#g8)"/><rect x="634" y="136" width="1" height="65" fill="url(#g12)"/><rect x="635" y="136" width="1" height="65" fill="url(#g16)"/><rect x="636" y="136" width="1" height="65" fill="url(#g0)"/><rect x="637" y="136" width="1" height="65" fill="url(#g3)"/><rect x="638" y="136" width="1" height="65" fill="url(#g7)"/><rect x="639" y="136" width="1" height="65" fill="url(#g11)"/><rect x="640" y="136" width="1" height="65" fill="url(#g15)"/><rect x="641" y="136" width="1" height="65" fill="url(#g19)"/><rect x="642" y="136" width="1" height="65" fill="url(#g3)"/><rect x="643" y="136" width="1" height="65" fill="url(#g7)"/><rect x="644" y="136" width="1" height="65" fill="url(#g11)"/><rect x="645" y="136" width="1" height="65" fill="url(#g15)"/><rect x="646" y="136" width="1" height="65" fill="url(#g19)"/><rect x="647" y="136" width="1" height="65" fill="url(#g3)"/><rect x="648" y="136" width="1" height="65" fill="url(#g7)"/><rect x="649" y="136" width="1" height="65" fill="url(#g11)"/><rect x="650" y="136" width="1" height="65" fill="url(#g15)"/><rect x="651" y="136" width="1" height="65" fill="url(#g19)"/><rect x="652" y="136" width="1" height="65" fill="url(#g3)"/><rect x="653" y="136" width="1" height="65" fill="url(#g7)"/><rect x="654" y="136" width="1" height="65" fill="url(#g10)"/><rect x="655" y="136" width="1" height="65" fill="url(#g14)"/><rect x="656" y="136" width="1" height="65" fill="url(#g18)"/><rect x="657" y="136" width="1" height="65" fill="url(#g2)"/><rect x="658" y="136" width="1" height="65" fill="url(#g6)"/><rect x="659" y="136" width="1" height="65" fill="url(#g10)"/><rect x="660" y="136" width="1" height="65" fill="url(#g14)"/><rect x="661" y="136" width="1" height="65" fill="url(#g18)"/><rect x="662" y="136" width="1" height="65" fill="url(#g2)"/><rect x="663" y="136" width="1" height="65" fill="url(#g6)"/><rect x="664" y="136" width="1" height="65" fill="url(#g10)"/><rect x="665" y="136" width="1" height="65" fill="url(#g14)"/><rect x="666" y="136" width="1" height="65" fill="url(#g18)"/><rect x="667" y="136" width="1" height="65" fill="url(#g2)"/><rect x="668" y="136" width="1" height="65" fill="url(#g6)"/><rect x="669" y="136" width="1" height="65" fill="url(#g10)"/><rect x="670" y="136" width="1" height="65" fill="url(#g13)"/><rect x="671" y="136" width="1" height="65" fill="url(#g17)"/><rect x="672" y="136" width="1" height="65" fill="url(#g1)"/><rect x="673" y="136" width="1" height="65" fill="url(#g5)"/><rect x="674" y="136" width="1" height="65" fill="url(#g9)"/><rect x="675" y="136" width="1" height="65" fill="url(#g13)"/><rect x="676" y="136" width="1" height="65" fill="url(#g17)"/><rect x="677" y="136" width="1" height="65" fill="url(#g1)"/><rect x="678" y="136" width="1" height="65" fill="url(#g5)"/><rect x="679" y="136" width="1" height="65" fill="url(#g9)"/><rect x="680" y="136" width="1" height="65" fill="url(#g13)"/><rect x="681" y="136" width="1" height="65" fill="url(#g17)"/><rect x="682" y="136" width="1" height="65" fill="url(#g1)"/><rect x="683" y="136" width="1" height="65" fill="url(#g5)"/><rect x="684" y="136" width="1" height="65" fill="url(#g9)"/><rect x="685" y="136" width="1" height="65" fill="url(#g13)"/><rect x="686" y="136" width="1" height="65" fill="url(#g17)"/><rect x="687" y="136" width="1" height="65" fill="url(#g0)"/><rect x="688" y="136" width="1" height="65" fill="url(#g4)"/><rect x="689" y="136" width="1" height="65" fill="url(#g8)"/><rect x="397" y="43" width="1" height="246" fill="#1a3cb0"/><rect x="397" y="288" width="293" height="1" fill="#1a3cb0"/><rect x="396" y="43" width="1" height="247" fill="#222"/><rect x="396" y="289" width="295" height="1" fill="#222"/><line x1="393.5" y1="289.5" x2="396" y2="289.5" stroke="#999" stroke-width="1"/><rect x="395" y="285" width="1" height="1" fill="#bbb"/><rect x="395" y="281" width="1" height="1" fill="#bbb"/><rect x="395" y="277" width="1" height="1" fill="#bbb"/><text transform="translate(391,292.1) scale(0.933,1)" text-anchor="end" font-size="10" font-family="Liberation Sans, sans-serif">-8</text><line x1="393.5" y1="273.5" x2="396" y2="273.5" stroke="#999" stroke-width="1"/><rect x="395" y="269" width="1" height="1" fill="#bbb"/><rect x="395" y="265" width="1" height="1" fill="#bbb"/><rect x="395" y="262" width="1" height="1" fill="#bbb"/><text transform="translate(391,276.65) scale(0.933,1)" text-anchor="end" font-size="10" font-family="Liberation Sans, sans-serif">-7</text><line x1="393.5" y1="258.5" x2="396" y2="258.5" stroke="#999" stroke-width="1"/><rect x="395" y="254" width="1" height="1" fill="#bbb"/><rect x="395" y="250" width="1" height="1" fill="#bbb"/><rect x="395" y="246" width="1" height="1" fill="#bbb"/><text transform="translate(391,261.2) scale(0.933,1)" text-anchor="end" font-size="10" font-family="Liberation Sans, sans-serif">-6</text><line x1="393.5" y1="242.5" x2="396" y2="242.5" stroke="#999" stroke-width="1"/><rect x="395" y="238" width="1" height="1" fill="#bbb"/><rect x="395" y="235" width="1" height="1" fill="#bbb"/><rect x="395" y="231" width="1" height="1" fill="#bbb"/><text transform="translate(391,245.75) scale(0.933,1)" text-anchor="end" font-size="10" font-family="Liberation Sans, sans-serif">-5</text><line x1="393.5" y1="227.5" x2="396" y2="227.5" stroke="#999" stroke-width="1"/><rect x="395" y="223" width="1" height="1" fill="#bbb"/><rect x="395" y="219" width="1" height="1" fill="#bbb"/><rect x="395" y="215" width="1" height="1" fill="#bbb"/><text transform="translate(391,230.3) scale(0.933,1)" text-anchor="end" font-size="10" font-family="Liberation Sans, sans-serif">-4</text><line x1="393.5" y1="211.5" x2="396" y2="211.5" stroke="#999" stroke-width="1"/><rect x="395" y="207" width="1" height="1" fill="#bbb"/><rect x="395" y="204" width="1" height="1" fill="#bbb"/><rect x="395" y="200" width="1" height="1" fill="#bbb"/><text transform="translate(391,214.85) scale(0.933,1)" text-anchor="end" font-size="10" font-family="Liberation Sans, sans-serif">-3</text><line x1="393.5" y1="196.5" x2="396" y2="196.5" stroke="#999" stroke-width="1"/><rect x="395" y="192" width="1" height="1" fill="#bbb"/><rect x="395" y="188" width="1" height="1" fill="#bbb"/><rect x="395" y="184" width="1" height="1" fill="#bbb"/><text transform="translate(391,199.4) scale(0.933,1)" text-anchor="end" font-size="10" font-family="Liberation Sans, sans-serif">-2</text><line x1="393.5" y1="180.5" x2="396" y2="180.5" stroke="#999" stroke-width="1"/><rect x="395" y="177" width="1" height="1" fill="#bbb"/><rect x="395" y="173" width="1" height="1" fill="#bbb"/><rect x="395" y="169" width="1" height="1" fill="#bbb"/><text transform="translate(391,183.95) scale(0.933,1)" text-anchor="end" font-size="10" font-family="Liberation Sans, sans-serif">-1</text><line x1="393.5" y1="165.5" x2="396" y2="165.5" stroke="#999" stroke-width="1"/><rect x="395" y="161" width="1" height="1" fill="#bbb"/><rect x="395" y="157" width="1" height="1" fill="#bbb"/><rect x="395" y="153" width="1" height="1" fill="#bbb"/><text transform="translate(391,168.5) scale(0.933,1)" text-anchor="end" font-size="10" font-family="Liberation Sans, sans-serif">0</text><line x1="393.5" y1="150.5" x2="396" y2="150.5" stroke="#999" stroke-width="1"/><rect x="395" y="146" width="1" height="1" fill="#bbb"/><rect x="395" y="142" width="1" height="1" fill="#bbb"/><rect x="395" y="138" width="1" height="1" fill="#bbb"/><text transform="translate(391,153.05) scale(0.933,1)" text-anchor="end" font-size="10" font-family="Liberation Sans, sans-serif">1</text><line x1="393.5" y1="134.5" x2="396" y2="134.5" stroke="#999" stroke-width="1"/><rect x="395" y="130" width="1" height="1" fill="#bbb"/><rect x="395" y="126" width="1" height="1" fill="#bbb"/><rect x="395" y="123" width="1" height="1" fill="#bbb"/><text transform="translate(391,137.6) scale(0.933,1)" text-anchor="end" font-size="10" font-family="Liberation Sans, sans-serif">2</text><line x1="393.5" y1="119.5" x2="396" y2="119.5" stroke="#999" stroke-width="1"/><rect x="395" y="115" width="1" height="1" fill="#bbb"/><rect x="395" y="111" width="1" height="1" fill="#bbb"/><rect x="395" y="107" width="1" height="1" fill="#bbb"/><text transform="translate(391,122.15) scale(0.933,1)" text-anchor="end" font-size="10" font-family="Liberation Sans, sans-serif">3</text><line x1="393.5" y1="103.5" x2="396" y2="103.5" stroke="#999" stroke-width="1"/><rect x="395" y="99" width="1" height="1" fill="#bbb"/><rect x="395" y="95" width="1" height="1" fill="#bbb"/><rect x="395" y="92" width="1" height="1" fill="#bbb"/><text transform="translate(391,106.7) scale(0.933,1)" text-anchor="end" font-size="10" font-family="Liberation Sans, sans-serif">4</text><line x1="393.5" y1="88.5" x2="396" y2="88.5" stroke="#999" stroke-width="1"/><rect x="395" y="84" width="1" height="1" fill="#bbb"/><rect x="395" y="80" width="1" height="1" fill="#bbb"/><rect x="395" y="76" width="1" height="1" fill="#bbb"/><text transform="translate(391,91.25) scale(0.933,1)" text-anchor="end" font-size="10" font-family="Liberation Sans, sans-serif">5</text><line x1="393.5" y1="72.5" x2="396" y2="72.5" stroke="#999" stroke-width="1"/><rect x="395" y="68" width="1" height="1" fill="#bbb"/><rect x="395" y="65" width="1" height="1" fill="#bbb"/><rect x="395" y="61" width="1" height="1" fill="#bbb"/><text transform="translate(391,75.8) scale(0.933,1)" text-anchor="end" font-size="10" font-family="Liberation Sans, sans-serif">6</text><line x1="393.5" y1="57.5" x2="396" y2="57.5" stroke="#999" stroke-width="1"/><rect x="395" y="53" width="1" height="1" fill="#bbb"/><rect x="395" y="49" width="1" height="1" fill="#bbb"/><rect x="395" y="45" width="1" height="1" fill="#bbb"/><text transform="translate(391,60.35) scale(0.933,1)" text-anchor="end" font-size="10" font-family="Liberation Sans, sans-serif">7</text><line x1="397.5" y1="290" x2="397.5" y2="293" stroke="#999" stroke-width="1"/><line x1="456.5" y1="290" x2="456.5" y2="293" stroke="#999" stroke-width="1"/><line x1="515.5" y1="290" x2="515.5" y2="293" stroke="#999" stroke-width="1"/><line x1="574.5" y1="290" x2="574.5" y2="293" stroke="#999" stroke-width="1"/><line x1="635.5" y1="290" x2="635.5" y2="293" stroke="#999" stroke-width="1"/><line x1="412.5" y1="290" x2="412.5" y2="292" stroke="#aaa" stroke-width="1"/><line x1="427.5" y1="290" x2="427.5" y2="292" stroke="#aaa" stroke-width="1"/><line x1="442.5" y1="290" x2="442.5" y2="292" stroke="#aaa" stroke-width="1"/><line x1="471.5" y1="290" x2="471.5" y2="292" stroke="#aaa" stroke-width="1"/><line x1="486.5" y1="290" x2="486.5" y2="292" stroke="#aaa" stroke-width="1"/><line x1="501.5" y1="290" x2="501.5" y2="292" stroke="#aaa" stroke-width="1"/><line x1="530.5" y1="290" x2="530.5" y2="292" stroke="#aaa" stroke-width="1"/><line x1="545.5" y1="290" x2="545.5" y2="292" stroke="#aaa" stroke-width="1"/><line x1="560.5" y1="290" x2="560.5" y2="292" stroke="#aaa" stroke-width="1"/><line x1="590.5" y1="290" x2="590.5" y2="292" stroke="#aaa" stroke-width="1"/><line x1="605.5" y1="290" x2="605.5" y2="292" stroke="#aaa" stroke-width="1"/><line x1="620.5" y1="290" x2="620.5" y2="292" stroke="#aaa" stroke-width="1"/><line x1="650.5" y1="290" x2="650.5" y2="292" stroke="#aaa" stroke-width="1"/><line x1="665.5" y1="290" x2="665.5" y2="292" stroke="#aaa" stroke-width="1"/><line x1="680.5" y1="290" x2="680.5" y2="292" stroke="#aaa" stroke-width="1"/><text transform="translate(397.5,304.5) scale(0.933,1)" text-anchor="middle" font-size="10" font-family="Liberation Sans, sans-serif">0</text><text transform="translate(456.5,304.5) scale(0.933,1)" text-anchor="middle" font-size="10" font-family="Liberation Sans, sans-serif">20</text><text transform="translate(515.5,304.5) scale(0.933,1)" text-anchor="middle" font-size="10" font-family="Liberation Sans, sans-serif">40</text><text transform="translate(574.5,304.5) scale(0.933,1)" text-anchor="middle" font-size="10" font-family="Liberation Sans, sans-serif">60</text><text transform="translate(635.5,304.5) scale(0.933,1)" text-anchor="middle" font-size="10" font-family="Liberation Sans, sans-serif">80</text><text x="542.5" y="316.2" text-anchor="middle" font-size="9.33" font-weight="bold" font-family="Liberation Sans, sans-serif">[µs]</text><text transform="translate(377.9,166.9) rotate(-90)" text-anchor="middle" font-size="9.33" font-weight="bold" letter-spacing="0.45" font-family="Liberation Sans, sans-serif">[MHz]</text><text x="469.8" y="34.4" font-size="9.33" font-weight="bold" font-family="Liberation Sans, sans-serif">prb00223052017133654000</text>
</svg>
</body></html>
